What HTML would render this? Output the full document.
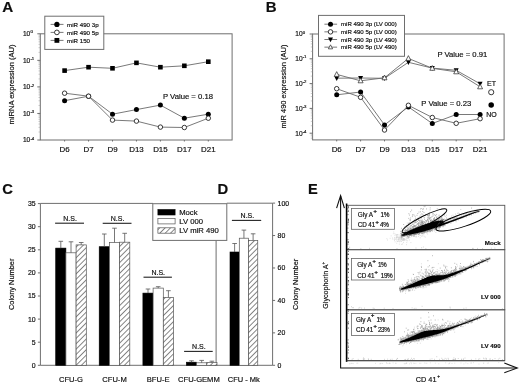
<!DOCTYPE html>
<html><head><meta charset="utf-8"><style>
html,body{margin:0;padding:0;background:#fff;}
svg{display:block;}
text{font-family:"Liberation Sans", sans-serif;fill:#111;stroke:#111;stroke-width:0.18px;}
</style></head><body>
<svg width="520" height="385" viewBox="0 0 520 385">
<defs><filter id="gb" x="0" y="0" width="100%" height="100%"><feGaussianBlur stdDeviation="0.3"/></filter></defs>
<rect width="520" height="385" fill="#fff"/>
<g filter="url(#gb)">
<rect width="520" height="385" fill="#fff"/>
<text x="2.20" y="11.60" font-size="15.2" text-anchor="start" font-weight="bold" >A</text>
<rect x="40.30" y="33.80" width="191.80" height="106.20" fill="none" stroke="#6e6e6e" stroke-width="1" />
<line x1="37.30" y1="33.80" x2="40.30" y2="33.80" stroke="#6e6e6e" stroke-width="1"/>
<text x="30.30" y="36.10" font-size="6.6" text-anchor="end" >10</text>
<text x="30.40" y="33.40" font-size="4.3" text-anchor="start" >0</text>
<line x1="37.30" y1="60.35" x2="40.30" y2="60.35" stroke="#6e6e6e" stroke-width="1"/>
<text x="30.30" y="62.65" font-size="6.6" text-anchor="end" >10</text>
<text x="30.40" y="59.95" font-size="4.3" text-anchor="start" >-1</text>
<line x1="37.30" y1="86.90" x2="40.30" y2="86.90" stroke="#6e6e6e" stroke-width="1"/>
<text x="30.30" y="89.20" font-size="6.6" text-anchor="end" >10</text>
<text x="30.40" y="86.50" font-size="4.3" text-anchor="start" >-2</text>
<line x1="37.30" y1="113.45" x2="40.30" y2="113.45" stroke="#6e6e6e" stroke-width="1"/>
<text x="30.30" y="115.75" font-size="6.6" text-anchor="end" >10</text>
<text x="30.40" y="113.05" font-size="4.3" text-anchor="start" >-3</text>
<line x1="37.30" y1="140.00" x2="40.30" y2="140.00" stroke="#6e6e6e" stroke-width="1"/>
<text x="30.30" y="142.30" font-size="6.6" text-anchor="end" >10</text>
<text x="30.40" y="139.60" font-size="4.3" text-anchor="start" >-4</text>
<line x1="38.50" y1="52.36" x2="40.30" y2="52.36" stroke="#999" stroke-width="0.5"/>
<line x1="38.50" y1="47.68" x2="40.30" y2="47.68" stroke="#999" stroke-width="0.5"/>
<line x1="38.50" y1="44.37" x2="40.30" y2="44.37" stroke="#999" stroke-width="0.5"/>
<line x1="38.50" y1="41.79" x2="40.30" y2="41.79" stroke="#999" stroke-width="0.5"/>
<line x1="38.50" y1="39.69" x2="40.30" y2="39.69" stroke="#999" stroke-width="0.5"/>
<line x1="38.50" y1="37.91" x2="40.30" y2="37.91" stroke="#999" stroke-width="0.5"/>
<line x1="38.50" y1="36.37" x2="40.30" y2="36.37" stroke="#999" stroke-width="0.5"/>
<line x1="38.50" y1="35.01" x2="40.30" y2="35.01" stroke="#999" stroke-width="0.5"/>
<line x1="38.50" y1="78.91" x2="40.30" y2="78.91" stroke="#999" stroke-width="0.5"/>
<line x1="38.50" y1="74.23" x2="40.30" y2="74.23" stroke="#999" stroke-width="0.5"/>
<line x1="38.50" y1="70.92" x2="40.30" y2="70.92" stroke="#999" stroke-width="0.5"/>
<line x1="38.50" y1="68.34" x2="40.30" y2="68.34" stroke="#999" stroke-width="0.5"/>
<line x1="38.50" y1="66.24" x2="40.30" y2="66.24" stroke="#999" stroke-width="0.5"/>
<line x1="38.50" y1="64.46" x2="40.30" y2="64.46" stroke="#999" stroke-width="0.5"/>
<line x1="38.50" y1="62.92" x2="40.30" y2="62.92" stroke="#999" stroke-width="0.5"/>
<line x1="38.50" y1="61.56" x2="40.30" y2="61.56" stroke="#999" stroke-width="0.5"/>
<line x1="38.50" y1="105.46" x2="40.30" y2="105.46" stroke="#999" stroke-width="0.5"/>
<line x1="38.50" y1="100.78" x2="40.30" y2="100.78" stroke="#999" stroke-width="0.5"/>
<line x1="38.50" y1="97.47" x2="40.30" y2="97.47" stroke="#999" stroke-width="0.5"/>
<line x1="38.50" y1="94.89" x2="40.30" y2="94.89" stroke="#999" stroke-width="0.5"/>
<line x1="38.50" y1="92.79" x2="40.30" y2="92.79" stroke="#999" stroke-width="0.5"/>
<line x1="38.50" y1="91.01" x2="40.30" y2="91.01" stroke="#999" stroke-width="0.5"/>
<line x1="38.50" y1="89.47" x2="40.30" y2="89.47" stroke="#999" stroke-width="0.5"/>
<line x1="38.50" y1="88.11" x2="40.30" y2="88.11" stroke="#999" stroke-width="0.5"/>
<line x1="38.50" y1="132.01" x2="40.30" y2="132.01" stroke="#999" stroke-width="0.5"/>
<line x1="38.50" y1="127.33" x2="40.30" y2="127.33" stroke="#999" stroke-width="0.5"/>
<line x1="38.50" y1="124.02" x2="40.30" y2="124.02" stroke="#999" stroke-width="0.5"/>
<line x1="38.50" y1="121.44" x2="40.30" y2="121.44" stroke="#999" stroke-width="0.5"/>
<line x1="38.50" y1="119.34" x2="40.30" y2="119.34" stroke="#999" stroke-width="0.5"/>
<line x1="38.50" y1="117.56" x2="40.30" y2="117.56" stroke="#999" stroke-width="0.5"/>
<line x1="38.50" y1="116.02" x2="40.30" y2="116.02" stroke="#999" stroke-width="0.5"/>
<line x1="38.50" y1="114.66" x2="40.30" y2="114.66" stroke="#999" stroke-width="0.5"/>
<line x1="64.60" y1="140.00" x2="64.60" y2="141.50" stroke="#6e6e6e" stroke-width="1"/>
<text x="64.60" y="151.90" font-size="7.9" text-anchor="middle" >D6</text>
<line x1="88.55" y1="140.00" x2="88.55" y2="141.50" stroke="#6e6e6e" stroke-width="1"/>
<text x="88.55" y="151.90" font-size="7.9" text-anchor="middle" >D7</text>
<line x1="112.50" y1="140.00" x2="112.50" y2="141.50" stroke="#6e6e6e" stroke-width="1"/>
<text x="112.50" y="151.90" font-size="7.9" text-anchor="middle" >D9</text>
<line x1="136.45" y1="140.00" x2="136.45" y2="141.50" stroke="#6e6e6e" stroke-width="1"/>
<text x="136.45" y="151.90" font-size="7.9" text-anchor="middle" >D13</text>
<line x1="160.40" y1="140.00" x2="160.40" y2="141.50" stroke="#6e6e6e" stroke-width="1"/>
<text x="160.40" y="151.90" font-size="7.9" text-anchor="middle" >D15</text>
<line x1="184.35" y1="140.00" x2="184.35" y2="141.50" stroke="#6e6e6e" stroke-width="1"/>
<text x="184.35" y="151.90" font-size="7.9" text-anchor="middle" >D17</text>
<line x1="208.30" y1="140.00" x2="208.30" y2="141.50" stroke="#6e6e6e" stroke-width="1"/>
<text x="208.30" y="151.90" font-size="7.9" text-anchor="middle" >D21</text>
<polyline points="64.60,70.60 88.55,67.20 112.50,68.30 136.45,62.85 160.40,67.20 184.35,65.80 208.30,61.70" fill="none" stroke="#6a6a6a" stroke-width="0.9"/>
<rect x="62.30" y="68.30" width="4.60" height="4.60" fill="#000"/>
<rect x="86.25" y="64.90" width="4.60" height="4.60" fill="#000"/>
<rect x="110.20" y="66.00" width="4.60" height="4.60" fill="#000"/>
<rect x="134.15" y="60.55" width="4.60" height="4.60" fill="#000"/>
<rect x="158.10" y="64.90" width="4.60" height="4.60" fill="#000"/>
<rect x="182.05" y="63.50" width="4.60" height="4.60" fill="#000"/>
<rect x="206.00" y="59.40" width="4.60" height="4.60" fill="#000"/>
<polyline points="64.60,100.70 88.55,96.20 112.50,114.20 136.45,109.60 160.40,105.10 184.35,118.20 208.30,114.20" fill="none" stroke="#6a6a6a" stroke-width="0.9"/>
<circle cx="64.60" cy="100.70" r="2.50" fill="#000"/>
<circle cx="88.55" cy="96.20" r="2.50" fill="#000"/>
<circle cx="112.50" cy="114.20" r="2.50" fill="#000"/>
<circle cx="136.45" cy="109.60" r="2.50" fill="#000"/>
<circle cx="160.40" cy="105.10" r="2.50" fill="#000"/>
<circle cx="184.35" cy="118.20" r="2.50" fill="#000"/>
<circle cx="208.30" cy="114.20" r="2.50" fill="#000"/>
<polyline points="64.60,93.20 88.55,96.20 112.50,120.10 136.45,121.10 160.40,127.10 184.35,127.50 208.30,118.20" fill="none" stroke="#6a6a6a" stroke-width="0.9"/>
<circle cx="64.60" cy="93.20" r="2.25" fill="#fff" stroke="#222" stroke-width="0.9"/>
<circle cx="88.55" cy="96.20" r="2.25" fill="#fff" stroke="#222" stroke-width="0.9"/>
<circle cx="112.50" cy="120.10" r="2.25" fill="#fff" stroke="#222" stroke-width="0.9"/>
<circle cx="136.45" cy="121.10" r="2.25" fill="#fff" stroke="#222" stroke-width="0.9"/>
<circle cx="160.40" cy="127.10" r="2.25" fill="#fff" stroke="#222" stroke-width="0.9"/>
<circle cx="184.35" cy="127.50" r="2.25" fill="#fff" stroke="#222" stroke-width="0.9"/>
<circle cx="208.30" cy="118.20" r="2.25" fill="#fff" stroke="#222" stroke-width="0.9"/>
<text x="163.00" y="98.80" font-size="7.7" text-anchor="start" >P Value = 0.18</text>
<text transform="translate(13.6,84.5) rotate(-90)" font-size="7.6" text-anchor="middle">miRNA expression (AU)</text>
<rect x="44.80" y="16.20" width="59.00" height="33.20" fill="#fff" stroke="#6e6e6e" stroke-width="1" />
<line x1="50.60" y1="24.40" x2="63.50" y2="24.40" stroke="#6a6a6a" stroke-width="0.9"/>
<circle cx="56.90" cy="24.40" r="2.62" fill="#000"/>
<text x="67.00" y="26.60" font-size="6.2" text-anchor="start" >miR 490 3p</text>
<line x1="50.60" y1="32.40" x2="63.50" y2="32.40" stroke="#6a6a6a" stroke-width="0.9"/>
<circle cx="56.90" cy="32.40" r="2.36" fill="#fff" stroke="#222" stroke-width="0.9"/>
<text x="67.00" y="34.60" font-size="6.2" text-anchor="start" >miR 490 5p</text>
<line x1="50.60" y1="40.40" x2="63.50" y2="40.40" stroke="#6a6a6a" stroke-width="0.9"/>
<rect x="54.48" y="37.98" width="4.83" height="4.83" fill="#000"/>
<text x="67.00" y="42.60" font-size="6.2" text-anchor="start" >miR 150</text>
<text x="265.80" y="11.70" font-size="15.0" text-anchor="start" font-weight="bold" >B</text>
<rect x="312.60" y="34.00" width="191.50" height="105.90" fill="none" stroke="#6e6e6e" stroke-width="1" />
<line x1="309.60" y1="34.00" x2="312.60" y2="34.00" stroke="#6e6e6e" stroke-width="1"/>
<text x="302.60" y="36.30" font-size="6.6" text-anchor="end" >10</text>
<text x="302.70" y="33.60" font-size="4.3" text-anchor="start" >0</text>
<line x1="309.60" y1="58.80" x2="312.60" y2="58.80" stroke="#6e6e6e" stroke-width="1"/>
<text x="302.60" y="61.10" font-size="6.6" text-anchor="end" >10</text>
<text x="302.70" y="58.40" font-size="4.3" text-anchor="start" >-1</text>
<line x1="309.60" y1="83.60" x2="312.60" y2="83.60" stroke="#6e6e6e" stroke-width="1"/>
<text x="302.60" y="85.90" font-size="6.6" text-anchor="end" >10</text>
<text x="302.70" y="83.20" font-size="4.3" text-anchor="start" >-2</text>
<line x1="309.60" y1="108.40" x2="312.60" y2="108.40" stroke="#6e6e6e" stroke-width="1"/>
<text x="302.60" y="110.70" font-size="6.6" text-anchor="end" >10</text>
<text x="302.70" y="108.00" font-size="4.3" text-anchor="start" >-3</text>
<line x1="309.60" y1="133.20" x2="312.60" y2="133.20" stroke="#6e6e6e" stroke-width="1"/>
<text x="302.60" y="135.50" font-size="6.6" text-anchor="end" >10</text>
<text x="302.70" y="132.80" font-size="4.3" text-anchor="start" >-4</text>
<line x1="310.80" y1="51.33" x2="312.60" y2="51.33" stroke="#999" stroke-width="0.5"/>
<line x1="310.80" y1="46.97" x2="312.60" y2="46.97" stroke="#999" stroke-width="0.5"/>
<line x1="310.80" y1="43.87" x2="312.60" y2="43.87" stroke="#999" stroke-width="0.5"/>
<line x1="310.80" y1="41.47" x2="312.60" y2="41.47" stroke="#999" stroke-width="0.5"/>
<line x1="310.80" y1="39.50" x2="312.60" y2="39.50" stroke="#999" stroke-width="0.5"/>
<line x1="310.80" y1="37.84" x2="312.60" y2="37.84" stroke="#999" stroke-width="0.5"/>
<line x1="310.80" y1="36.40" x2="312.60" y2="36.40" stroke="#999" stroke-width="0.5"/>
<line x1="310.80" y1="35.13" x2="312.60" y2="35.13" stroke="#999" stroke-width="0.5"/>
<line x1="310.80" y1="76.13" x2="312.60" y2="76.13" stroke="#999" stroke-width="0.5"/>
<line x1="310.80" y1="71.77" x2="312.60" y2="71.77" stroke="#999" stroke-width="0.5"/>
<line x1="310.80" y1="68.67" x2="312.60" y2="68.67" stroke="#999" stroke-width="0.5"/>
<line x1="310.80" y1="66.27" x2="312.60" y2="66.27" stroke="#999" stroke-width="0.5"/>
<line x1="310.80" y1="64.30" x2="312.60" y2="64.30" stroke="#999" stroke-width="0.5"/>
<line x1="310.80" y1="62.64" x2="312.60" y2="62.64" stroke="#999" stroke-width="0.5"/>
<line x1="310.80" y1="61.20" x2="312.60" y2="61.20" stroke="#999" stroke-width="0.5"/>
<line x1="310.80" y1="59.93" x2="312.60" y2="59.93" stroke="#999" stroke-width="0.5"/>
<line x1="310.80" y1="100.93" x2="312.60" y2="100.93" stroke="#999" stroke-width="0.5"/>
<line x1="310.80" y1="96.57" x2="312.60" y2="96.57" stroke="#999" stroke-width="0.5"/>
<line x1="310.80" y1="93.47" x2="312.60" y2="93.47" stroke="#999" stroke-width="0.5"/>
<line x1="310.80" y1="91.07" x2="312.60" y2="91.07" stroke="#999" stroke-width="0.5"/>
<line x1="310.80" y1="89.10" x2="312.60" y2="89.10" stroke="#999" stroke-width="0.5"/>
<line x1="310.80" y1="87.44" x2="312.60" y2="87.44" stroke="#999" stroke-width="0.5"/>
<line x1="310.80" y1="86.00" x2="312.60" y2="86.00" stroke="#999" stroke-width="0.5"/>
<line x1="310.80" y1="84.73" x2="312.60" y2="84.73" stroke="#999" stroke-width="0.5"/>
<line x1="310.80" y1="125.73" x2="312.60" y2="125.73" stroke="#999" stroke-width="0.5"/>
<line x1="310.80" y1="121.37" x2="312.60" y2="121.37" stroke="#999" stroke-width="0.5"/>
<line x1="310.80" y1="118.27" x2="312.60" y2="118.27" stroke="#999" stroke-width="0.5"/>
<line x1="310.80" y1="115.87" x2="312.60" y2="115.87" stroke="#999" stroke-width="0.5"/>
<line x1="310.80" y1="113.90" x2="312.60" y2="113.90" stroke="#999" stroke-width="0.5"/>
<line x1="310.80" y1="112.24" x2="312.60" y2="112.24" stroke="#999" stroke-width="0.5"/>
<line x1="310.80" y1="110.80" x2="312.60" y2="110.80" stroke="#999" stroke-width="0.5"/>
<line x1="310.80" y1="109.53" x2="312.60" y2="109.53" stroke="#999" stroke-width="0.5"/>
<line x1="310.80" y1="138.70" x2="312.60" y2="138.70" stroke="#999" stroke-width="0.5"/>
<line x1="310.80" y1="137.04" x2="312.60" y2="137.04" stroke="#999" stroke-width="0.5"/>
<line x1="310.80" y1="135.60" x2="312.60" y2="135.60" stroke="#999" stroke-width="0.5"/>
<line x1="310.80" y1="134.33" x2="312.60" y2="134.33" stroke="#999" stroke-width="0.5"/>
<line x1="336.70" y1="139.90" x2="336.70" y2="141.40" stroke="#6e6e6e" stroke-width="1"/>
<text x="336.70" y="151.60" font-size="7.9" text-anchor="middle" >D6</text>
<line x1="360.60" y1="139.90" x2="360.60" y2="141.40" stroke="#6e6e6e" stroke-width="1"/>
<text x="360.60" y="151.60" font-size="7.9" text-anchor="middle" >D7</text>
<line x1="384.50" y1="139.90" x2="384.50" y2="141.40" stroke="#6e6e6e" stroke-width="1"/>
<text x="384.50" y="151.60" font-size="7.9" text-anchor="middle" >D9</text>
<line x1="408.40" y1="139.90" x2="408.40" y2="141.40" stroke="#6e6e6e" stroke-width="1"/>
<text x="408.40" y="151.60" font-size="7.9" text-anchor="middle" >D13</text>
<line x1="432.30" y1="139.90" x2="432.30" y2="141.40" stroke="#6e6e6e" stroke-width="1"/>
<text x="432.30" y="151.60" font-size="7.9" text-anchor="middle" >D15</text>
<line x1="456.20" y1="139.90" x2="456.20" y2="141.40" stroke="#6e6e6e" stroke-width="1"/>
<text x="456.20" y="151.60" font-size="7.9" text-anchor="middle" >D17</text>
<line x1="480.10" y1="139.90" x2="480.10" y2="141.40" stroke="#6e6e6e" stroke-width="1"/>
<text x="480.10" y="151.60" font-size="7.9" text-anchor="middle" >D21</text>
<polyline points="336.70,78.20 360.60,78.00 384.50,78.30 408.40,62.30 432.30,68.10 456.20,70.30 480.10,83.80" fill="none" stroke="#6a6a6a" stroke-width="0.9"/>
<path d="M334.20,76.20L339.20,76.20L336.70,80.95Z" fill="#000"/>
<path d="M358.10,76.00L363.10,76.00L360.60,80.75Z" fill="#000"/>
<path d="M382.00,76.30L387.00,76.30L384.50,81.05Z" fill="#000"/>
<path d="M405.90,60.30L410.90,60.30L408.40,65.05Z" fill="#000"/>
<path d="M429.80,66.10L434.80,66.10L432.30,70.85Z" fill="#000"/>
<path d="M453.70,68.30L458.70,68.30L456.20,73.05Z" fill="#000"/>
<path d="M477.60,81.80L482.60,81.80L480.10,86.55Z" fill="#000"/>
<polyline points="336.70,74.40 360.60,80.80 384.50,77.80 408.40,58.40 432.30,68.30 456.20,71.80 480.10,86.80" fill="none" stroke="#6a6a6a" stroke-width="0.9"/>
<path d="M334.20,76.40L339.20,76.40L336.70,71.65Z" fill="#fff" stroke="#222" stroke-width="0.7"/>
<path d="M358.10,82.80L363.10,82.80L360.60,78.05Z" fill="#fff" stroke="#222" stroke-width="0.7"/>
<path d="M382.00,79.80L387.00,79.80L384.50,75.05Z" fill="#fff" stroke="#222" stroke-width="0.7"/>
<path d="M405.90,60.40L410.90,60.40L408.40,55.65Z" fill="#fff" stroke="#222" stroke-width="0.7"/>
<path d="M429.80,70.30L434.80,70.30L432.30,65.55Z" fill="#fff" stroke="#222" stroke-width="0.7"/>
<path d="M453.70,73.80L458.70,73.80L456.20,69.05Z" fill="#fff" stroke="#222" stroke-width="0.7"/>
<path d="M477.60,88.80L482.60,88.80L480.10,84.05Z" fill="#fff" stroke="#222" stroke-width="0.7"/>
<polyline points="336.70,94.80 360.60,92.00 384.50,124.90 408.40,106.90 432.30,123.50 456.20,114.50 480.10,114.50" fill="none" stroke="#6a6a6a" stroke-width="0.9"/>
<circle cx="336.70" cy="94.80" r="2.50" fill="#000"/>
<circle cx="360.60" cy="92.00" r="2.50" fill="#000"/>
<circle cx="384.50" cy="124.90" r="2.50" fill="#000"/>
<circle cx="408.40" cy="106.90" r="2.50" fill="#000"/>
<circle cx="432.30" cy="123.50" r="2.50" fill="#000"/>
<circle cx="456.20" cy="114.50" r="2.50" fill="#000"/>
<circle cx="480.10" cy="114.50" r="2.50" fill="#000"/>
<polyline points="336.70,88.70 360.60,97.30 384.50,130.00 408.40,105.30 432.30,117.50 456.20,123.30 480.10,118.70" fill="none" stroke="#6a6a6a" stroke-width="0.9"/>
<circle cx="336.70" cy="88.70" r="2.25" fill="#fff" stroke="#222" stroke-width="0.9"/>
<circle cx="360.60" cy="97.30" r="2.25" fill="#fff" stroke="#222" stroke-width="0.9"/>
<circle cx="384.50" cy="130.00" r="2.25" fill="#fff" stroke="#222" stroke-width="0.9"/>
<circle cx="408.40" cy="105.30" r="2.25" fill="#fff" stroke="#222" stroke-width="0.9"/>
<circle cx="432.30" cy="117.50" r="2.25" fill="#fff" stroke="#222" stroke-width="0.9"/>
<circle cx="456.20" cy="123.30" r="2.25" fill="#fff" stroke="#222" stroke-width="0.9"/>
<circle cx="480.10" cy="118.70" r="2.25" fill="#fff" stroke="#222" stroke-width="0.9"/>
<text x="437.40" y="57.00" font-size="7.7" text-anchor="start" >P Value = 0.91</text>
<text x="421.30" y="106.20" font-size="7.7" text-anchor="start" >P Value = 0.23</text>
<text x="487.00" y="85.80" font-size="7.0" text-anchor="start" >ET</text>
<text x="486.30" y="117.30" font-size="7.0" text-anchor="start" >NO</text>
<circle cx="491.20" cy="92.20" r="2.59" fill="#fff" stroke="#222" stroke-width="0.9"/>
<circle cx="491.20" cy="105.10" r="2.75" fill="#000"/>
<text transform="translate(286.4,86.5) rotate(-90)" font-size="7.5" text-anchor="middle">miR 490 expression (AU)</text>
<rect x="318.50" y="15.40" width="86.00" height="40.90" fill="#fff" stroke="#6e6e6e" stroke-width="1" />
<line x1="324.40" y1="24.20" x2="337.10" y2="24.20" stroke="#6a6a6a" stroke-width="0.9"/>
<circle cx="330.50" cy="24.20" r="2.50" fill="#000"/>
<text x="341.00" y="26.40" font-size="6.1" text-anchor="start" >miR 490 3p (LV 000)</text>
<line x1="324.40" y1="31.85" x2="337.10" y2="31.85" stroke="#6a6a6a" stroke-width="0.9"/>
<circle cx="330.50" cy="31.85" r="2.25" fill="#fff" stroke="#222" stroke-width="0.9"/>
<text x="341.00" y="34.05" font-size="6.1" text-anchor="start" >miR 490 5p (LV 000)</text>
<line x1="324.40" y1="39.50" x2="337.10" y2="39.50" stroke="#6a6a6a" stroke-width="0.9"/>
<path d="M328.00,37.50L333.00,37.50L330.50,42.25Z" fill="#000"/>
<text x="341.00" y="41.70" font-size="6.1" text-anchor="start" >miR 490 3p (LV 490)</text>
<line x1="324.40" y1="47.15" x2="337.10" y2="47.15" stroke="#6a6a6a" stroke-width="0.9"/>
<path d="M328.38,48.85L332.62,48.85L330.50,44.81Z" fill="#fff" stroke="#222" stroke-width="0.7"/>
<text x="341.00" y="49.35" font-size="6.1" text-anchor="start" >miR 490 5p (LV 490)</text>
<text x="2.20" y="193.70" font-size="14.8" text-anchor="start" font-weight="bold" >C</text>
<line x1="40.40" y1="203.40" x2="40.40" y2="365.30" stroke="#6e6e6e" stroke-width="1"/>
<line x1="40.40" y1="365.30" x2="272.60" y2="365.30" stroke="#6e6e6e" stroke-width="1"/>
<line x1="40.40" y1="203.40" x2="153.00" y2="203.40" stroke="#6e6e6e" stroke-width="1"/>
<line x1="216.10" y1="240.40" x2="216.10" y2="365.30" stroke="#6e6e6e" stroke-width="1"/>
<line x1="37.90" y1="365.30" x2="40.40" y2="365.30" stroke="#6e6e6e" stroke-width="1"/>
<text x="35.70" y="367.70" font-size="6.9" text-anchor="end" >0</text>
<line x1="37.90" y1="342.20" x2="40.40" y2="342.20" stroke="#6e6e6e" stroke-width="1"/>
<text x="35.70" y="344.60" font-size="6.9" text-anchor="end" >5</text>
<line x1="37.90" y1="319.10" x2="40.40" y2="319.10" stroke="#6e6e6e" stroke-width="1"/>
<text x="35.70" y="321.50" font-size="6.9" text-anchor="end" >10</text>
<line x1="37.90" y1="296.00" x2="40.40" y2="296.00" stroke="#6e6e6e" stroke-width="1"/>
<text x="35.70" y="298.40" font-size="6.9" text-anchor="end" >15</text>
<line x1="37.90" y1="272.90" x2="40.40" y2="272.90" stroke="#6e6e6e" stroke-width="1"/>
<text x="35.70" y="275.30" font-size="6.9" text-anchor="end" >20</text>
<line x1="37.90" y1="249.80" x2="40.40" y2="249.80" stroke="#6e6e6e" stroke-width="1"/>
<text x="35.70" y="252.20" font-size="6.9" text-anchor="end" >25</text>
<line x1="37.90" y1="226.70" x2="40.40" y2="226.70" stroke="#6e6e6e" stroke-width="1"/>
<text x="35.70" y="229.10" font-size="6.9" text-anchor="end" >30</text>
<line x1="37.90" y1="203.60" x2="40.40" y2="203.60" stroke="#6e6e6e" stroke-width="1"/>
<text x="35.70" y="206.00" font-size="6.9" text-anchor="end" >35</text>
<text transform="translate(13.6,284.3) rotate(-90)" font-size="7.4" text-anchor="middle">Colony Number</text>
<defs><filter id="bl" x="-20%" y="-20%" width="140%" height="140%"><feGaussianBlur stdDeviation="0.6"/></filter><pattern id="hatch" patternUnits="userSpaceOnUse" width="3.8" height="3.8" patternTransform="rotate(45)"><rect width="3.8" height="3.8" fill="#fff"/><line x1="0" y1="0" x2="0" y2="3.8" stroke="#222" stroke-width="1.1"/></pattern></defs>
<rect x="55.70" y="248.10" width="10.20" height="117.20" fill="#000" stroke="#000" stroke-width="0.6" />
<line x1="60.80" y1="241.30" x2="60.80" y2="248.10" stroke="#555" stroke-width="0.8"/>
<line x1="58.50" y1="241.30" x2="63.10" y2="241.30" stroke="#555" stroke-width="0.8"/>
<rect x="65.90" y="252.80" width="10.20" height="112.50" fill="#fff" stroke="#555" stroke-width="0.7" />
<line x1="71.00" y1="241.80" x2="71.00" y2="252.80" stroke="#555" stroke-width="0.8"/>
<line x1="68.70" y1="241.80" x2="73.30" y2="241.80" stroke="#555" stroke-width="0.8"/>
<rect x="76.10" y="244.90" width="10.20" height="120.40" fill="url(#hatch)" stroke="#555" stroke-width="0.7" />
<line x1="81.20" y1="242.50" x2="81.20" y2="244.90" stroke="#555" stroke-width="0.8"/>
<line x1="78.90" y1="242.50" x2="83.50" y2="242.50" stroke="#555" stroke-width="0.8"/>
<text x="71.00" y="381.50" font-size="7.6" text-anchor="middle" >CFU-G</text>
<line x1="55.10" y1="223.20" x2="84.00" y2="223.20" stroke="#222" stroke-width="1.1"/>
<text x="70.05" y="220.80" font-size="7.0" text-anchor="middle" >N.S.</text>
<rect x="99.20" y="246.70" width="10.20" height="118.60" fill="#000" stroke="#000" stroke-width="0.6" />
<line x1="104.30" y1="234.00" x2="104.30" y2="246.70" stroke="#555" stroke-width="0.8"/>
<line x1="102.00" y1="234.00" x2="106.60" y2="234.00" stroke="#555" stroke-width="0.8"/>
<rect x="109.40" y="242.40" width="10.20" height="122.90" fill="#fff" stroke="#555" stroke-width="0.7" />
<line x1="114.50" y1="228.20" x2="114.50" y2="242.40" stroke="#555" stroke-width="0.8"/>
<line x1="112.20" y1="228.20" x2="116.80" y2="228.20" stroke="#555" stroke-width="0.8"/>
<rect x="119.60" y="242.20" width="10.20" height="123.10" fill="url(#hatch)" stroke="#555" stroke-width="0.7" />
<line x1="124.70" y1="233.30" x2="124.70" y2="242.20" stroke="#555" stroke-width="0.8"/>
<line x1="122.40" y1="233.30" x2="127.00" y2="233.30" stroke="#555" stroke-width="0.8"/>
<text x="114.50" y="381.50" font-size="7.6" text-anchor="middle" >CFU-M</text>
<line x1="102.70" y1="223.30" x2="131.50" y2="223.30" stroke="#222" stroke-width="1.1"/>
<text x="117.60" y="220.90" font-size="7.0" text-anchor="middle" >N.S.</text>
<rect x="142.90" y="293.10" width="10.20" height="72.20" fill="#000" stroke="#000" stroke-width="0.6" />
<line x1="148.00" y1="289.00" x2="148.00" y2="293.10" stroke="#555" stroke-width="0.8"/>
<line x1="145.70" y1="289.00" x2="150.30" y2="289.00" stroke="#555" stroke-width="0.8"/>
<rect x="153.10" y="288.10" width="10.20" height="77.20" fill="#fff" stroke="#555" stroke-width="0.7" />
<line x1="158.20" y1="286.70" x2="158.20" y2="288.10" stroke="#555" stroke-width="0.8"/>
<line x1="155.90" y1="286.70" x2="160.50" y2="286.70" stroke="#555" stroke-width="0.8"/>
<rect x="163.30" y="297.40" width="10.20" height="67.90" fill="url(#hatch)" stroke="#555" stroke-width="0.7" />
<line x1="168.40" y1="290.70" x2="168.40" y2="297.40" stroke="#555" stroke-width="0.8"/>
<line x1="166.10" y1="290.70" x2="170.70" y2="290.70" stroke="#555" stroke-width="0.8"/>
<text x="158.20" y="381.50" font-size="7.6" text-anchor="middle" >BFU-E</text>
<line x1="143.50" y1="277.20" x2="171.90" y2="277.20" stroke="#222" stroke-width="1.1"/>
<text x="158.20" y="274.80" font-size="7.0" text-anchor="middle" >N.S.</text>
<rect x="186.40" y="362.20" width="10.20" height="3.10" fill="#000" stroke="#000" stroke-width="0.6" />
<line x1="191.50" y1="360.80" x2="191.50" y2="362.20" stroke="#555" stroke-width="0.8"/>
<line x1="189.20" y1="360.80" x2="193.80" y2="360.80" stroke="#555" stroke-width="0.8"/>
<rect x="196.60" y="362.80" width="10.20" height="2.50" fill="#fff" stroke="#555" stroke-width="0.7" />
<line x1="201.70" y1="360.40" x2="201.70" y2="362.80" stroke="#555" stroke-width="0.8"/>
<line x1="199.40" y1="360.40" x2="204.00" y2="360.40" stroke="#555" stroke-width="0.8"/>
<rect x="206.80" y="362.60" width="10.20" height="2.70" fill="url(#hatch)" stroke="#555" stroke-width="0.7" />
<line x1="211.90" y1="361.20" x2="211.90" y2="362.60" stroke="#555" stroke-width="0.8"/>
<line x1="209.60" y1="361.20" x2="214.20" y2="361.20" stroke="#555" stroke-width="0.8"/>
<text x="198.90" y="381.50" font-size="7.6" text-anchor="middle" >CFU-GEMM</text>
<line x1="184.10" y1="351.40" x2="212.70" y2="351.40" stroke="#222" stroke-width="1.1"/>
<text x="198.90" y="349.00" font-size="7.0" text-anchor="middle" >N.S.</text>
<rect x="152.80" y="203.70" width="74.00" height="36.70" fill="#fff" stroke="#6e6e6e" stroke-width="1" />
<rect x="157.90" y="209.50" width="17.20" height="5.50" fill="#000" stroke="#000" stroke-width="0.6" />
<rect x="157.90" y="218.50" width="17.20" height="5.40" fill="#fff" stroke="#555" stroke-width="0.7" />
<rect x="157.90" y="227.80" width="17.20" height="5.40" fill="url(#hatch)" stroke="#555" stroke-width="0.7" />
<text x="179.20" y="215.00" font-size="7.7" text-anchor="start" >Mock</text>
<text x="179.20" y="223.90" font-size="7.7" text-anchor="start" >LV 000</text>
<text x="179.20" y="233.00" font-size="7.7" text-anchor="start" >LV miR 490</text>
<text x="217.40" y="193.60" font-size="14.8" text-anchor="start" font-weight="bold" >D</text>
<line x1="272.60" y1="203.20" x2="272.60" y2="365.30" stroke="#6e6e6e" stroke-width="1"/>
<line x1="226.80" y1="203.20" x2="272.60" y2="203.20" stroke="#6e6e6e" stroke-width="1"/>
<line x1="272.60" y1="365.30" x2="275.10" y2="365.30" stroke="#6e6e6e" stroke-width="1"/>
<text x="277.60" y="367.70" font-size="6.9" text-anchor="start" >0</text>
<line x1="272.60" y1="332.86" x2="275.10" y2="332.86" stroke="#6e6e6e" stroke-width="1"/>
<text x="277.60" y="335.26" font-size="6.9" text-anchor="start" >20</text>
<line x1="272.60" y1="300.42" x2="275.10" y2="300.42" stroke="#6e6e6e" stroke-width="1"/>
<text x="277.60" y="302.82" font-size="6.9" text-anchor="start" >40</text>
<line x1="272.60" y1="267.98" x2="275.10" y2="267.98" stroke="#6e6e6e" stroke-width="1"/>
<text x="277.60" y="270.38" font-size="6.9" text-anchor="start" >60</text>
<line x1="272.60" y1="235.54" x2="275.10" y2="235.54" stroke="#6e6e6e" stroke-width="1"/>
<text x="277.60" y="237.94" font-size="6.9" text-anchor="start" >80</text>
<line x1="272.60" y1="203.10" x2="275.10" y2="203.10" stroke="#6e6e6e" stroke-width="1"/>
<text x="277.60" y="205.50" font-size="6.9" text-anchor="start" >100</text>
<text transform="translate(298.2,284.4) rotate(-90)" font-size="7.4" text-anchor="middle">Colony Number</text>
<rect x="230.00" y="252.00" width="9.25" height="113.30" fill="#000" stroke="#000" stroke-width="0.6" />
<line x1="234.62" y1="243.50" x2="234.62" y2="252.00" stroke="#555" stroke-width="0.8"/>
<line x1="232.32" y1="243.50" x2="236.93" y2="243.50" stroke="#555" stroke-width="0.8"/>
<rect x="239.30" y="238.20" width="9.25" height="127.10" fill="#fff" stroke="#555" stroke-width="0.7" />
<line x1="243.93" y1="230.10" x2="243.93" y2="238.20" stroke="#555" stroke-width="0.8"/>
<line x1="241.62" y1="230.10" x2="246.23" y2="230.10" stroke="#555" stroke-width="0.8"/>
<rect x="248.50" y="240.50" width="9.25" height="124.80" fill="url(#hatch)" stroke="#555" stroke-width="0.7" />
<line x1="253.12" y1="233.80" x2="253.12" y2="240.50" stroke="#555" stroke-width="0.8"/>
<line x1="250.82" y1="233.80" x2="255.43" y2="233.80" stroke="#555" stroke-width="0.8"/>
<line x1="231.90" y1="220.40" x2="261.20" y2="220.40" stroke="#222" stroke-width="1.1"/>
<text x="247.40" y="218.00" font-size="7.0" text-anchor="middle" >N.S.</text>
<text x="243.80" y="381.50" font-size="7.5" text-anchor="middle" >CFU - Mk</text>
<text x="308.00" y="193.80" font-size="14.6" text-anchor="start" font-weight="bold" >E</text>
<path d="M340.6,196 L340.6,368 L516.5,368" fill="none" stroke="#111" stroke-width="1.1"/>
<path d="M336.6,208.2 L340.6,195.6 L344.4,208.2" fill="none" stroke="#111" stroke-width="1.1"/>
<path d="M504.3,363 L517.3,368 L504.3,372.7" fill="none" stroke="#111" stroke-width="1.1"/>
<rect x="346.60" y="205.30" width="158.20" height="44.40" fill="none" stroke="#555" stroke-width="0.9" />
<rect x="346.60" y="249.70" width="158.20" height="60.10" fill="none" stroke="#555" stroke-width="0.9" />
<rect x="346.60" y="309.80" width="158.20" height="50.90" fill="none" stroke="#555" stroke-width="0.9" />
<line x1="346.60" y1="203.50" x2="346.60" y2="361.80" stroke="#000" stroke-width="1.6"/>
<line x1="346.60" y1="360.70" x2="504.80" y2="360.70" stroke="#444" stroke-width="1.0"/>
<path d="M481.1 260.3h0M417.8 272.5h0M427.6 281.8h0M400.2 290.6h0M473.9 267.9h0M428.5 284.2h0M425.1 280.6h0M422.1 277.9h0M441.4 279.0h0M448.8 281.6h0M455.6 268.7h0M418.0 277.1h0M413.9 283.0h0M449.1 279.8h0M444.3 281.5h0M457.8 272.0h0M448.2 277.9h0M446.6 278.6h0M422.6 282.7h0M417.8 285.6h0M418.4 284.9h0M431.8 272.2h0M399.5 288.2h0M414.2 286.7h0M424.7 283.2h0M458.3 270.6h0M448.0 279.1h0M433.6 281.2h0M455.6 274.3h0M405.7 291.3h0M434.8 276.1h0M429.4 279.9h0M413.8 286.5h0M436.0 283.4h0M455.4 272.2h0M462.2 270.4h0M414.7 290.3h0M441.0 279.2h0M421.9 283.2h0M437.5 280.5h0M419.5 283.4h0M461.9 271.0h0M427.4 281.0h0M412.0 286.8h0M452.7 274.8h0M411.4 278.2h0M417.8 285.6h0M416.4 284.8h0M434.2 278.0h0M437.3 276.7h0M422.7 286.5h0M443.1 276.9h0M428.9 278.0h0M468.7 267.3h0M435.0 282.2h0M410.7 284.9h0M439.3 277.4h0M448.6 276.6h0M479.3 261.9h0M432.2 282.5h0M432.3 278.3h0M412.6 281.0h0M399.9 289.1h0M412.2 285.7h0M439.7 282.0h0M473.5 262.9h0M472.1 264.9h0M466.6 268.5h0M420.4 282.3h0M418.2 284.8h0M432.1 275.4h0M417.0 288.0h0M431.8 280.3h0M452.8 274.2h0M431.4 281.0h0M425.0 283.0h0M439.0 270.8h0M447.8 275.2h0M481.5 261.3h0M453.5 274.0h0M437.9 273.1h0M438.4 280.4h0M437.2 269.6h0M447.9 276.0h0M424.1 287.7h0M431.1 282.6h0M436.8 279.4h0M418.5 284.5h0M404.4 289.2h0M419.2 283.1h0M410.0 286.5h0M444.3 277.1h0M428.2 281.4h0M443.7 279.5h0M457.6 271.7h0M417.1 286.3h0M405.2 287.7h0M437.8 278.3h0M409.9 286.0h0M404.2 290.1h0M402.3 289.0h0M422.0 278.3h0M422.2 280.6h0M416.6 283.1h0M450.9 271.3h0M454.5 273.9h0M414.8 284.3h0M462.2 270.2h0M429.2 284.1h0M449.7 275.5h0M417.3 284.1h0M403.2 288.4h0M477.7 262.9h0M403.8 286.4h0M430.6 278.3h0M429.3 281.3h0M409.0 281.8h0M428.2 278.6h0M478.4 262.3h0M411.7 286.9h0M417.1 281.0h0M452.5 273.2h0M408.5 287.3h0M460.8 271.1h0M430.3 281.8h0M466.7 269.6h0M415.0 287.1h0M401.8 288.2h0M457.6 266.1h0M419.7 284.6h0M434.0 276.3h0M422.1 278.6h0M442.5 278.9h0M408.5 285.1h0M435.2 280.1h0M412.1 286.5h0M434.8 280.1h0M434.4 280.3h0M419.7 284.1h0M420.9 276.0h0M429.2 276.2h0M438.3 263.7h0M469.0 267.6h0M452.7 272.4h0M427.6 281.8h0M406.1 284.8h0M469.9 267.0h0M411.6 285.2h0M411.7 284.9h0M411.5 284.9h0M425.1 284.0h0M427.5 278.9h0M416.5 282.8h0M434.3 278.8h0M465.3 269.2h0M409.3 290.5h0M475.2 264.1h0M433.8 278.7h0M405.6 288.4h0M447.2 274.6h0M469.1 266.6h0M417.6 285.7h0M424.0 281.1h0M412.1 290.1h0M416.5 283.9h0M485.5 260.0h0M436.9 280.7h0M429.6 275.0h0M411.3 283.4h0M416.8 285.1h0M428.8 285.1h0M484.6 260.6h0M425.6 282.6h0M436.4 276.2h0M400.0 290.5h0M472.4 266.9h0M421.3 278.5h0M473.8 267.0h0M419.8 285.8h0M424.2 281.1h0M424.7 282.8h0M411.1 283.7h0M410.0 284.3h0M447.1 266.7h0M426.2 286.8h0M470.1 267.2h0M456.0 272.9h0M427.3 275.5h0M442.3 278.8h0M426.8 281.6h0M434.9 280.0h0M466.5 268.6h0M435.5 278.8h0M418.8 284.9h0M425.5 282.1h0M443.8 278.7h0M478.4 263.1h0M441.7 278.7h0M426.1 280.7h0M427.6 279.7h0M406.7 287.8h0M420.3 284.9h0M426.0 287.2h0M416.2 287.4h0M406.0 290.6h0M443.5 278.9h0M419.3 282.9h0M425.1 282.7h0M448.7 280.9h0M442.5 272.5h0M405.4 286.5h0M400.0 289.3h0M449.6 279.3h0M434.1 280.3h0M469.7 267.3h0M423.6 279.6h0M443.8 278.6h0M442.0 278.1h0M429.5 281.4h0M402.7 285.6h0M436.2 279.3h0M413.9 285.9h0M454.0 275.4h0M428.7 276.6h0M450.5 274.5h0M418.7 287.3h0M453.9 274.3h0M445.2 276.7h0M414.5 283.2h0M412.3 286.9h0M451.3 277.5h0M467.1 267.8h0M436.2 275.8h0M425.1 284.0h0M433.8 278.2h0M450.2 275.8h0M451.4 274.3h0M409.7 287.5h0M409.1 287.5h0M422.5 281.8h0M413.1 274.1h0M430.5 280.5h0M418.3 287.7h0M406.0 287.6h0M415.7 285.9h0M449.0 277.4h0M467.6 266.3h0M413.2 288.0h0M433.1 282.3h0M468.5 267.0h0M410.6 287.3h0M426.8 274.1h0M471.6 266.5h0M414.4 284.1h0M442.3 278.4h0M414.6 283.8h0M412.9 287.6h0M424.4 275.1h0M405.5 293.3h0M419.6 283.5h0M411.5 285.4h0M432.7 279.7h0M454.0 273.5h0M421.3 263.8h0M431.2 283.9h0M423.6 283.5h0M437.7 280.3h0M435.8 272.9h0M426.3 272.1h0M423.4 283.7h0M412.4 285.1h0M440.1 276.9h0M412.3 281.9h0M443.9 277.0h0M463.8 269.6h0M411.7 286.9h0M482.0 260.2h0M408.1 282.3h0M409.1 291.5h0M430.2 279.5h0M405.0 284.4h0M442.8 279.1h0M452.1 274.8h0M461.0 267.3h0M414.3 286.0h0M437.1 275.9h0M490.3 258.1h0M424.7 283.7h0M435.2 282.8h0M436.2 274.5h0M433.7 276.9h0M443.6 277.2h0M440.9 276.1h0M440.2 278.9h0M412.4 285.2h0M405.2 288.2h0M419.5 277.4h0M421.5 284.1h0M425.6 282.6h0M427.4 279.5h0" stroke="#888" stroke-width="0.80" stroke-linecap="round" opacity="0.45"/>
<path d="M452.5 272.8h0M449.7 277.4h0M429.0 275.3h0M446.5 278.2h0M419.9 284.6h0M408.4 289.9h0M416.3 285.2h0M408.7 285.2h0M443.3 278.3h0M433.9 277.8h0M413.6 286.0h0M431.8 280.2h0M423.8 283.1h0M429.7 283.0h0M452.3 272.4h0M424.3 284.8h0M468.5 266.3h0M434.4 279.2h0M444.6 278.2h0M465.6 268.2h0M467.6 268.3h0M432.0 283.7h0M434.5 275.9h0M481.6 261.7h0M476.0 264.5h0M411.3 286.9h0M473.2 265.6h0M412.5 284.5h0M422.6 285.0h0M451.4 270.5h0M469.6 266.6h0M413.5 286.0h0M432.4 282.7h0M433.3 279.6h0M408.9 288.9h0M407.3 285.5h0M470.7 266.3h0M434.0 281.3h0M427.4 282.3h0M483.8 261.0h0M414.1 286.1h0M446.8 269.3h0M447.8 278.9h0M431.6 272.4h0M482.4 262.1h0M414.6 285.9h0M470.4 266.2h0M425.7 284.1h0M416.9 285.7h0M418.2 285.4h0M425.9 283.2h0M421.1 278.8h0M408.1 284.4h0M430.3 282.7h0M445.1 278.4h0M427.8 284.9h0M482.6 261.3h0M414.9 283.2h0M469.5 266.0h0M441.7 278.1h0M415.2 284.0h0M444.2 275.9h0M436.2 279.7h0M447.6 277.2h0M420.3 282.4h0M450.0 274.9h0M463.4 268.5h0M445.4 279.4h0M432.6 280.6h0M420.0 272.1h0M427.6 283.2h0M404.1 288.2h0M422.2 278.3h0M400.4 290.4h0M437.8 280.5h0M455.6 275.2h0M461.5 271.0h0M464.0 267.1h0M453.4 275.7h0M424.0 277.3h0M482.0 262.7h0M425.9 279.7h0M409.8 288.7h0M417.5 285.7h0M435.6 280.6h0M429.2 273.5h0M462.4 268.5h0M402.0 290.4h0M468.5 268.3h0M471.7 268.7h0M455.5 270.9h0M424.0 282.4h0M447.0 270.6h0M408.7 290.8h0M430.3 276.3h0M473.6 264.9h0M408.3 286.5h0M445.8 277.5h0M409.5 290.2h0M421.8 284.9h0M431.0 281.0h0M435.8 282.3h0M427.7 283.4h0M405.6 289.3h0M425.4 276.4h0M439.9 281.1h0M404.0 289.6h0M420.6 284.7h0M420.2 283.7h0M447.0 279.0h0M428.8 275.0h0M421.2 281.8h0M460.9 273.8h0M464.9 269.8h0M423.9 281.9h0M406.9 287.9h0M443.2 277.2h0M415.4 285.1h0M400.8 286.4h0M437.6 276.6h0M445.6 267.3h0M484.5 260.6h0M449.4 276.4h0M427.9 282.9h0M413.9 286.8h0M466.3 270.3h0M429.8 273.4h0M481.8 261.8h0M403.2 286.9h0M425.0 284.3h0M433.9 272.6h0M422.6 281.1h0M413.5 274.5h0M416.6 285.4h0M469.7 267.4h0M420.5 284.4h0M424.1 284.6h0M440.6 275.0h0M412.0 285.1h0M425.1 284.1h0M489.3 258.5h0M433.7 276.5h0M427.6 283.8h0M411.8 286.9h0M425.6 275.5h0M462.9 270.4h0M417.8 284.9h0M432.8 280.7h0M441.3 279.1h0M427.0 281.0h0M436.8 282.3h0M443.6 279.6h0M443.3 279.4h0M424.5 277.8h0M401.3 289.4h0M413.5 284.1h0M422.2 285.4h0M443.4 276.5h0M418.8 286.2h0M455.3 274.7h0M486.8 258.6h0M481.9 261.5h0M438.5 281.0h0M424.2 283.2h0M435.8 278.3h0M426.2 281.7h0M422.2 284.2h0M433.5 279.0h0M432.6 270.8h0M441.1 276.7h0M420.7 285.7h0M425.2 285.2h0M425.1 285.4h0M423.1 279.7h0M408.6 285.6h0M415.8 284.9h0M441.5 279.6h0M411.3 280.8h0M436.4 274.1h0M410.6 285.6h0M476.2 264.4h0M450.0 273.4h0M462.3 270.3h0M414.4 285.2h0M419.4 282.1h0M461.4 270.7h0M436.1 274.4h0M434.6 278.2h0M448.8 275.9h0M415.8 285.4h0M413.9 282.7h0M424.9 283.4h0M430.7 278.9h0M444.7 270.0h0M418.0 285.7h0M456.6 274.6h0M436.6 278.9h0M461.4 271.3h0M422.9 282.6h0M405.4 287.7h0M455.1 271.3h0M438.8 278.9h0M432.2 277.8h0M445.3 277.4h0M420.5 284.5h0M438.9 276.4h0M447.1 277.0h0M402.1 287.6h0M437.1 282.2h0M426.0 281.6h0M461.2 271.3h0M422.8 279.9h0M435.1 281.4h0M477.1 263.9h0M415.3 280.1h0M455.1 274.2h0M422.6 284.6h0M440.9 277.5h0M465.0 267.8h0M465.6 270.2h0M473.6 265.5h0M439.5 279.7h0M410.1 287.0h0M465.2 269.0h0M483.2 261.1h0M481.3 262.0h0M422.8 285.1h0M462.8 267.5h0M445.9 266.3h0M424.3 284.5h0M417.7 284.1h0M477.1 266.3h0M418.6 281.1h0M423.0 284.9h0M441.9 278.8h0M420.6 282.3h0M457.1 272.0h0M424.4 283.3h0M417.4 280.8h0M437.6 274.2h0M456.6 271.6h0M428.6 280.1h0M416.0 285.0h0M416.5 286.2h0M456.8 274.3h0M427.2 285.4h0M447.2 276.0h0M442.1 276.3h0M470.3 265.5h0M409.5 287.3h0M425.0 282.7h0M460.2 270.5h0M434.1 276.8h0M439.0 278.3h0M437.8 281.5h0M416.8 281.8h0M403.8 287.3h0M429.4 279.2h0M443.2 281.1h0M405.9 288.8h0M436.3 282.5h0M417.0 285.5h0M405.0 287.5h0M438.3 280.2h0M444.4 270.6h0M419.6 281.9h0M437.2 281.4h0M423.0 284.4h0M419.0 274.0h0M442.5 275.1h0M404.1 287.8h0M413.3 283.8h0M455.4 272.2h0M471.6 266.4h0M401.3 289.1h0M422.9 284.5h0M430.0 278.9h0M419.9 282.1h0M418.7 279.3h0M429.7 281.5h0M440.4 277.4h0M440.0 273.4h0M443.6 276.4h0M425.2 285.7h0M487.5 259.1h0M402.1 289.2h0M444.6 279.0h0M429.2 275.2h0M482.5 260.3h0M428.5 273.9h0M407.4 286.6h0M403.0 288.6h0M480.5 262.5h0M426.1 270.1h0M437.3 278.5h0M425.0 285.1h0M401.0 289.1h0M412.1 285.9h0M423.9 285.6h0M417.6 285.8h0M448.6 276.2h0M428.9 269.8h0M453.7 273.3h0M411.3 287.2h0M448.1 276.6h0M405.4 284.6h0M410.8 286.0h0M427.5 280.9h0M428.9 283.3h0M409.9 286.5h0M459.9 270.1h0M460.8 270.6h0M450.9 274.7h0M419.7 285.6h0M417.9 286.3h0M448.2 273.9h0M423.2 279.9h0M439.1 275.8h0M461.2 272.1h0M441.9 280.7h0M424.4 279.5h0M460.5 271.4h0M463.7 270.1h0M460.4 269.3h0M450.3 273.9h0M464.8 268.4h0M477.0 264.0h0M407.7 285.9h0M454.3 269.6h0M434.6 280.9h0M442.9 275.5h0M437.9 278.6h0M439.3 279.8h0M429.9 275.7h0M425.2 281.4h0M418.6 280.4h0M440.2 279.7h0M428.4 283.4h0M417.2 281.1h0M421.8 280.2h0M452.4 274.4h0M418.9 272.7h0M418.7 282.9h0M460.1 271.0h0M458.2 272.8h0M428.2 276.7h0M430.8 281.1h0M440.2 268.1h0M448.5 272.7h0M459.1 272.1h0M451.4 273.6h0M462.6 270.3h0M445.7 277.8h0M414.8 277.7h0M429.0 278.5h0M436.9 280.7h0M476.8 263.6h0M469.2 267.1h0M461.3 271.1h0M427.1 283.7h0M479.5 264.7h0M405.8 287.8h0M421.4 285.7h0M455.8 272.0h0M408.4 285.3h0M402.2 291.8h0M455.6 268.5h0M438.2 280.4h0M441.4 280.2h0M406.8 286.1h0M448.0 277.3h0M437.3 281.6h0M438.1 281.0h0M424.1 280.2h0M421.8 283.3h0M409.5 288.5h0M451.4 275.6h0M441.6 279.1h0M459.1 272.4h0M431.3 280.7h0M434.3 275.5h0M434.7 272.7h0M441.8 279.9h0M408.3 286.7h0M420.7 284.2h0M424.2 283.8h0M413.3 286.1h0M448.1 276.7h0M441.6 280.9h0M434.3 277.2h0M453.6 274.0h0M486.2 259.7h0M409.3 286.9h0M427.0 281.5h0M456.9 275.3h0M418.3 283.2h0M437.8 282.1h0M406.1 288.2h0M428.7 278.7h0M434.8 278.7h0M419.9 284.1h0M416.8 278.9h0M423.5 286.2h0M451.3 274.0h0M425.5 284.0h0M428.7 283.0h0M431.5 278.4h0M417.6 284.3h0M479.2 264.0h0M464.1 270.0h0M419.0 280.6h0M426.8 281.3h0M441.7 276.1h0M449.7 273.4h0M440.1 279.7h0M433.5 276.0h0M433.9 281.2h0M436.3 277.9h0M404.6 289.6h0M440.8 278.9h0M418.6 284.7h0M482.0 261.0h0M455.0 275.2h0M453.8 274.2h0M455.5 273.6h0M432.1 276.4h0M422.3 285.2h0M432.6 275.2h0M414.4 283.6h0M437.9 278.2h0M475.6 265.0h0M447.8 275.5h0M427.4 282.3h0M437.5 280.5h0M449.7 275.9h0M403.6 288.7h0M463.0 272.2h0M408.3 284.8h0M448.2 273.5h0M463.2 270.4h0M443.9 276.5h0M418.8 286.3h0M434.6 280.4h0M432.6 276.7h0M445.9 276.6h0M403.9 288.7h0M400.4 290.4h0M444.4 278.0h0M411.0 287.2h0M448.0 273.8h0M407.8 287.0h0M429.5 281.2h0M419.4 283.4h0M483.7 261.7h0M403.2 288.7h0M423.4 283.4h0M429.7 279.3h0M453.8 273.8h0M452.9 275.1h0M442.7 271.3h0M427.3 277.6h0M400.2 288.5h0M458.4 273.4h0M418.1 282.9h0M474.5 265.2h0M484.3 260.7h0M421.9 284.4h0M433.9 267.4h0M455.4 274.6h0M405.9 286.8h0M422.5 285.0h0M435.7 278.9h0M433.9 276.6h0M458.8 272.2h0M466.1 267.7h0M428.0 281.6h0M410.8 286.6h0M434.9 275.7h0M447.9 277.1h0M440.4 276.0h0M444.4 280.5h0M438.3 275.5h0M465.0 270.8h0M425.8 284.1h0M439.3 275.5h0M407.6 286.6h0M441.2 277.5h0M444.8 275.0h0M409.5 285.7h0M437.5 282.3h0M430.8 279.1h0M476.2 263.7h0M403.6 289.7h0M435.1 278.1h0M477.3 263.8h0M440.4 280.7h0M400.3 288.6h0M424.9 281.9h0M454.4 272.6h0M426.1 282.2h0M436.9 279.0h0M421.1 284.6h0M450.2 273.2h0M432.0 281.7h0M422.6 280.6h0M429.3 282.5h0M409.5 286.5h0M414.1 281.9h0M481.8 260.4h0M438.8 277.2h0M432.8 281.6h0M421.5 283.8h0M420.5 284.6h0M455.7 266.5h0M400.9 287.1h0M416.2 282.2h0M404.4 287.6h0M434.5 276.8h0M440.0 277.9h0M448.0 270.7h0M427.3 277.9h0M454.8 273.9h0M421.6 267.5h0M433.3 280.1h0M432.8 283.0h0M425.3 280.8h0M483.4 260.9h0M402.7 288.4h0M420.3 282.7h0M447.3 277.2h0M451.4 271.7h0M466.9 268.2h0M403.8 288.7h0M403.0 289.2h0M437.8 279.8h0M401.1 289.6h0M459.7 273.0h0M407.4 287.0h0M433.2 277.4h0M455.4 271.3h0M432.6 255.7h0M422.3 283.3h0M423.2 281.3h0M418.5 284.2h0M435.9 280.4h0M430.2 280.1h0M434.3 282.2h0M419.1 285.3h0M480.9 262.1h0M421.3 266.4h0M430.7 282.0h0M480.4 262.2h0M428.5 277.0h0M473.5 261.4h0M419.9 280.8h0M420.2 285.7h0M475.8 265.0h0M420.9 285.4h0M418.9 284.9h0M421.8 281.3h0M412.5 286.5h0M439.5 280.5h0M445.4 274.2h0M456.5 269.2h0M417.7 285.6h0M424.4 281.0h0M416.8 284.3h0M433.3 276.1h0M473.6 267.7h0M435.5 282.1h0M437.0 278.5h0M426.9 278.2h0M444.1 274.6h0M459.9 271.3h0M424.2 280.8h0M421.3 280.1h0M420.7 283.0h0M475.2 264.8h0M469.9 266.5h0M415.6 287.4h0M460.3 271.2h0M479.8 261.5h0M415.1 286.1h0M403.1 287.1h0M452.6 275.3h0M439.2 280.1h0M466.1 268.3h0M419.3 284.3h0M433.9 283.0h0M421.7 283.4h0M441.0 272.8h0M399.5 289.1h0M414.6 285.4h0M416.3 284.7h0M426.5 280.1h0M442.9 273.0h0M406.5 289.5h0M439.9 280.4h0M439.6 274.3h0M430.1 281.4h0M416.4 285.9h0M443.7 276.8h0M422.3 278.8h0M415.6 282.3h0M434.4 276.3h0M453.1 273.0h0M442.7 276.2h0M475.8 264.2h0M482.3 260.8h0M402.4 288.3h0M425.3 271.8h0M439.3 279.5h0M443.6 278.5h0M432.4 282.6h0M426.6 282.9h0M416.9 279.9h0M436.2 276.5h0M400.5 292.0h0M471.1 267.7h0M466.9 267.3h0M436.2 281.0h0M422.0 280.4h0M474.8 264.2h0M454.5 273.8h0M429.0 284.9h0M412.7 289.9h0M438.8 280.9h0M428.1 275.6h0M441.6 278.5h0M438.6 275.9h0M408.6 287.1h0M436.3 279.3h0M415.7 280.9h0M480.8 262.7h0M420.0 284.2h0M437.8 274.9h0M408.3 286.3h0M415.6 287.2h0M432.8 278.5h0M430.9 281.5h0M466.1 267.0h0M412.1 286.1h0M430.1 282.9h0M414.4 279.3h0M417.4 278.6h0M410.2 287.0h0M432.6 280.7h0M487.6 258.7h0M486.0 258.4h0M417.2 285.5h0M421.5 284.3h0M467.6 267.2h0M431.1 282.8h0M456.8 264.3h0M441.1 280.5h0M408.8 287.6h0M482.5 261.0h0M447.3 275.2h0M451.6 272.4h0M427.9 260.7h0M432.8 275.7h0M482.8 262.3h0M489.4 257.4h0M446.6 277.4h0M434.9 280.3h0M401.6 287.8h0M443.1 278.1h0M472.2 266.4h0M434.9 281.0h0M408.3 286.8h0M450.6 277.3h0M463.8 266.9h0M399.5 288.6h0M480.2 262.4h0M419.0 286.8h0M410.6 284.2h0M474.3 265.9h0M422.4 276.4h0M405.9 288.9h0M407.5 284.6h0M449.3 275.2h0M468.7 268.0h0M399.6 288.8h0M484.9 260.2h0M470.4 266.9h0M436.1 282.2h0M423.0 284.3h0M483.3 261.4h0M438.4 277.1h0M444.8 276.5h0M464.0 269.4h0M446.2 274.7h0M437.0 280.9h0M424.0 282.6h0M416.0 288.3h0M485.4 258.9h0M425.0 282.5h0M456.0 267.8h0M436.0 278.3h0M433.4 280.6h0M411.1 280.3h0M435.1 281.3h0M415.3 283.0h0M432.6 281.9h0M443.2 274.4h0M399.7 288.3h0M456.4 273.4h0M432.7 280.9h0M451.4 274.9h0M422.6 282.2h0M471.5 267.5h0M412.1 284.8h0M426.9 281.9h0M428.0 282.7h0M413.6 286.3h0M455.9 273.9h0M470.7 267.0h0M411.1 285.8h0M448.4 273.2h0M449.7 275.3h0M425.4 284.3h0M417.5 281.9h0M431.2 278.8h0M456.7 271.9h0M437.7 280.0h0M437.0 275.3h0M438.0 279.0h0M417.4 282.3h0M408.6 285.4h0M421.5 281.9h0M419.4 283.2h0M412.4 286.0h0M411.5 286.4h0M415.5 287.2h0M429.5 277.5h0M420.1 287.2h0M489.9 258.2h0M478.7 263.4h0M427.8 282.3h0M486.4 259.0h0M424.2 282.8h0M438.0 280.3h0M401.7 287.8h0M462.1 269.0h0M453.5 270.9h0M423.5 276.6h0M411.6 288.0h0M430.2 280.9h0M401.7 288.4h0M433.6 273.4h0M428.8 277.1h0M423.4 285.3h0M425.4 281.3h0M431.0 282.5h0M407.4 287.8h0M429.8 281.1h0M438.7 278.2h0M423.0 280.1h0M430.2 270.3h0M443.1 276.5h0M420.1 284.2h0M424.3 282.3h0M415.2 284.5h0M472.2 266.1h0M429.2 283.1h0M480.4 262.5h0M439.6 275.0h0M411.4 286.7h0M422.5 280.4h0M413.5 283.3h0M411.1 286.2h0M436.7 281.5h0M417.7 284.1h0M471.8 264.5h0M405.4 288.1h0M428.6 282.2h0M427.5 281.1h0M450.1 275.5h0M437.6 277.9h0M436.5 281.1h0M427.7 280.7h0M418.1 285.2h0M442.0 274.9h0M457.2 272.8h0M428.0 272.6h0M424.1 279.6h0M426.1 283.0h0M452.8 275.0h0M435.7 280.7h0M453.6 274.6h0M480.5 262.4h0M459.3 273.6h0M425.0 284.8h0M433.8 282.0h0M407.2 287.8h0M471.6 266.2h0M427.2 280.1h0M439.0 279.7h0M411.8 286.5h0M430.1 279.2h0M421.9 276.0h0M426.0 275.7h0M402.1 288.8h0M416.2 277.2h0M431.6 279.2h0M448.6 275.8h0M429.8 273.7h0M441.4 280.4h0M438.0 279.3h0M435.5 279.6h0M427.1 283.2h0M447.4 276.6h0M436.9 275.0h0M464.8 268.6h0M459.8 271.7h0M428.1 266.9h0M409.2 286.9h0M436.7 279.6h0M476.6 263.1h0M479.9 262.1h0M410.5 287.2h0M447.4 278.7h0M450.4 276.1h0M422.1 284.2h0M410.4 286.6h0M426.9 283.1h0M432.3 282.8h0M426.3 282.3h0M447.6 275.9h0M408.1 279.7h0M405.9 289.7h0M432.6 283.1h0M429.6 275.4h0M459.0 272.2h0M407.3 284.7h0M406.0 287.3h0M427.7 283.8h0M417.9 284.7h0M428.8 281.6h0M426.1 271.0h0M431.4 282.9h0M445.9 279.5h0M438.7 274.7h0M408.5 285.9h0M483.3 261.3h0M436.0 271.6h0M408.2 289.7h0M432.4 276.9h0M431.0 282.7h0M469.2 267.7h0M443.8 276.2h0M433.7 280.2h0M425.5 282.7h0M439.0 280.8h0M443.9 276.1h0M417.1 284.2h0M471.0 266.8h0M413.0 280.1h0M456.8 273.5h0M424.2 282.7h0M446.0 277.6h0M440.4 278.4h0M487.5 261.8h0M415.7 287.0h0M422.2 285.3h0M429.4 283.0h0M474.4 263.7h0M431.8 280.0h0M415.9 285.4h0M420.7 275.2h0M461.2 267.0h0M461.3 270.8h0M489.8 259.0h0M403.0 288.8h0M418.1 285.9h0M453.1 274.3h0M439.4 279.4h0M418.7 285.5h0M436.9 278.3h0M443.4 278.1h0M432.3 277.4h0M419.5 284.0h0M427.1 283.1h0M433.2 282.1h0M433.5 281.0h0M444.3 279.2h0M409.6 285.0h0M408.1 285.9h0M429.6 278.4h0M430.2 282.2h0M430.9 279.0h0M418.2 282.9h0M400.7 289.1h0M433.5 277.9h0M415.9 280.2h0M415.9 280.9h0M474.4 265.0h0M422.5 284.8h0M423.5 274.0h0M426.6 282.8h0M415.4 284.4h0M449.1 272.0h0M415.1 285.5h0M410.7 286.5h0M411.8 281.2h0M429.0 281.7h0M428.6 279.8h0M489.9 259.0h0M412.8 287.1h0M426.8 282.8h0M441.6 276.1h0M444.0 274.3h0M428.0 280.4h0M429.4 280.6h0M487.3 259.1h0M418.7 283.3h0M425.6 280.6h0M438.1 279.8h0M420.8 283.2h0M437.1 277.2h0M434.4 281.6h0M423.5 279.3h0M422.4 285.2h0M457.3 271.8h0M432.6 282.2h0M419.3 283.6h0M419.5 282.8h0M470.9 263.3h0M409.9 284.6h0M414.3 286.3h0M406.4 283.3h0M429.8 282.5h0M459.4 272.1h0M414.0 285.5h0M399.9 290.6h0M417.3 285.0h0M426.5 280.0h0M418.9 285.5h0M435.1 281.8h0M459.3 271.1h0M482.8 261.7h0M422.8 283.7h0M422.2 284.5h0M436.9 277.9h0M427.2 277.0h0M474.9 264.8h0M434.7 281.5h0M434.4 279.7h0M447.2 278.5h0M432.9 281.7h0M400.3 289.4h0M467.8 268.9h0M422.7 283.7h0M423.1 281.6h0M449.7 276.2h0M435.8 282.0h0M438.6 279.7h0M409.8 285.7h0M425.6 278.5h0M482.8 259.5h0M423.3 282.6h0M401.0 289.2h0M465.4 267.7h0M438.2 279.1h0M431.4 276.1h0M409.9 287.0h0M411.9 288.2h0M404.8 287.5h0M440.8 276.9h0M412.9 283.7h0M434.6 279.1h0M464.4 270.0h0M450.0 277.1h0M445.6 274.0h0M442.3 279.2h0M433.4 279.2h0M438.0 282.1h0M421.3 280.7h0M452.8 275.9h0M445.5 275.7h0M461.9 272.2h0M432.8 281.6h0M470.2 267.3h0M406.1 287.5h0M443.4 277.8h0M437.4 280.0h0M420.2 283.7h0M472.7 264.9h0M446.9 278.3h0M477.7 263.1h0M426.8 281.8h0M461.2 269.8h0M443.2 275.2h0M404.9 287.2h0M411.3 286.9h0M416.6 285.5h0M414.7 286.3h0M443.1 274.1h0M413.8 287.2h0M426.1 283.7h0M476.7 264.5h0M482.8 261.2h0M485.0 260.4h0M407.8 288.0h0M414.2 286.5h0M410.1 287.4h0M401.8 288.0h0M436.0 281.3h0M438.2 280.7h0M455.6 276.3h0M449.0 274.3h0M403.0 288.9h0M432.1 281.1h0M418.2 283.0h0M419.3 284.6h0M439.9 278.0h0M427.0 282.3h0M480.7 262.4h0M430.7 278.0h0M425.0 278.3h0M421.6 283.8h0M401.8 288.6h0M425.3 284.3h0M418.3 286.2h0M429.3 285.1h0M456.3 272.3h0M469.5 267.4h0M424.3 283.1h0M415.6 286.0h0M460.0 272.2h0M432.0 267.9h0M448.5 278.5h0M445.9 279.2h0M406.5 287.9h0M406.8 287.1h0M431.5 276.2h0M433.8 280.4h0M447.4 275.7h0M414.3 279.2h0M460.4 263.5h0M423.5 284.2h0M476.3 263.6h0M451.3 267.8h0M443.3 276.5h0M452.9 270.4h0M405.9 288.5h0M421.3 284.0h0M437.2 279.1h0M411.1 282.9h0M456.1 273.0h0M442.7 279.5h0M414.8 286.7h0M429.8 276.8h0M446.4 274.6h0M400.7 289.2h0M421.6 284.8h0M413.8 286.4h0M461.0 268.4h0M412.3 285.1h0M410.2 285.0h0M443.7 277.3h0M428.7 279.5h0M441.0 272.4h0M423.2 285.2h0M408.4 281.1h0M422.6 284.5h0M426.2 273.2h0M435.2 277.6h0M432.5 281.9h0M456.0 272.3h0M403.6 289.9h0M435.4 274.3h0M428.7 282.1h0M443.5 275.6h0M416.7 284.0h0M418.5 286.0h0M440.9 279.2h0M438.4 280.4h0M448.8 272.9h0M460.5 271.4h0M443.7 278.5h0M429.0 283.4h0M445.9 275.3h0M458.0 272.1h0M407.3 283.9h0M458.1 274.4h0M464.6 270.5h0M410.1 283.7h0M439.2 278.7h0M417.1 282.0h0M460.7 270.9h0M467.5 268.1h0M432.7 279.7h0M419.3 285.3h0M402.9 291.5h0M465.5 268.0h0M421.2 283.8h0M402.5 288.2h0M404.4 288.2h0M436.0 279.5h0M432.9 282.1h0M434.8 276.1h0M410.9 286.9h0M445.9 275.1h0M433.2 281.5h0M443.1 276.1h0M437.2 278.1h0M409.4 284.1h0M417.1 285.5h0M449.9 276.8h0M461.8 270.6h0M462.4 271.6h0M400.7 291.4h0M420.2 285.0h0M430.8 279.9h0M423.0 281.1h0M434.2 273.9h0M436.6 278.4h0M431.6 282.0h0M399.9 287.0h0M425.3 283.3h0M454.3 271.1h0M409.2 284.9h0M445.4 273.7h0M411.3 284.6h0M404.4 289.5h0M415.2 287.1h0M470.4 266.4h0M450.9 273.7h0M432.7 280.7h0M414.4 281.4h0M433.8 282.5h0M454.9 270.4h0M426.5 285.0h0M454.8 273.8h0M441.0 279.6h0M447.6 276.9h0M411.3 280.1h0M420.1 285.7h0M415.2 282.1h0M448.9 274.4h0M465.6 270.7h0M419.2 285.1h0M430.6 280.3h0M413.6 287.8h0M439.5 280.9h0M425.2 283.3h0M420.3 282.6h0M445.1 278.7h0M427.3 272.0h0M419.9 284.8h0M465.1 267.7h0M415.0 285.9h0M482.3 261.2h0M439.6 279.2h0M416.3 284.5h0M440.8 277.3h0M441.5 279.7h0M444.8 278.2h0M443.8 265.1h0M460.0 273.9h0M423.6 284.8h0M452.0 272.7h0M484.1 260.1h0M446.3 276.5h0M422.8 277.6h0M421.7 281.4h0M472.7 266.0h0M450.9 271.9h0M437.1 281.5h0M427.5 282.1h0M445.7 278.9h0M456.6 273.9h0M422.4 283.5h0M469.5 266.6h0M467.2 268.8h0M453.8 274.6h0M459.3 268.4h0M449.2 276.0h0M421.0 285.7h0M457.4 271.2h0M422.6 279.1h0M411.5 286.8h0M409.9 286.1h0M472.6 265.7h0M417.1 287.0h0M470.1 265.4h0M431.8 276.1h0M420.8 284.3h0M414.0 284.7h0M462.0 270.3h0M431.9 279.1h0M459.6 268.2h0M427.2 281.9h0M436.3 281.1h0M451.7 273.3h0M426.5 276.1h0M413.2 286.1h0M410.9 286.2h0M478.6 263.3h0M433.0 281.9h0M428.1 283.5h0M480.6 259.7h0M426.3 282.2h0M448.4 275.2h0M484.4 260.8h0M473.1 266.0h0M426.9 276.8h0M487.9 261.3h0M418.2 283.5h0M419.9 285.9h0M475.9 264.0h0M421.9 280.9h0M420.1 285.2h0M460.1 266.0h0M433.0 281.6h0M445.5 272.9h0M430.6 271.5h0M441.3 280.4h0M421.5 285.1h0M440.8 280.2h0M484.3 260.6h0M410.2 290.7h0M437.9 275.9h0M443.3 277.9h0M400.8 289.5h0M408.9 286.3h0M450.3 273.4h0M419.2 283.7h0M425.2 282.3h0M432.7 276.1h0M475.1 266.3h0M431.6 280.4h0M412.8 286.6h0M412.2 285.1h0M407.4 282.8h0M464.9 268.9h0M404.7 288.1h0M450.7 273.7h0M486.0 260.7h0M470.2 267.1h0M428.8 282.1h0M489.0 258.6h0M456.3 272.1h0M460.7 270.7h0M419.4 286.4h0M435.1 280.7h0M413.2 287.0h0M435.7 280.6h0M437.4 282.4h0M473.8 266.3h0M407.6 289.0h0M468.3 267.8h0M418.8 284.1h0M449.6 274.7h0M455.0 273.8h0M429.4 278.7h0M438.6 280.0h0M417.5 279.6h0M413.2 281.6h0M422.3 283.2h0M432.4 283.3h0M445.3 278.2h0M417.8 284.9h0M405.1 286.5h0M435.4 280.0h0M484.0 261.0h0M447.4 273.4h0M416.5 285.0h0M441.2 274.9h0M483.3 261.2h0M414.8 286.3h0M431.0 273.1h0M432.1 280.3h0M418.8 284.2h0M457.1 272.1h0M414.4 284.9h0M443.8 278.0h0M423.3 283.7h0M422.8 284.2h0M416.1 285.2h0M425.0 282.7h0M425.8 282.9h0M436.9 279.3h0M425.2 281.9h0M435.5 281.1h0M425.1 269.4h0M433.0 281.8h0M415.0 282.0h0M431.7 279.0h0M407.2 282.4h0M410.6 285.9h0M403.7 290.0h0M425.8 284.2h0M406.4 285.2h0M410.4 286.7h0M410.6 285.8h0M440.6 278.7h0M422.9 281.8h0M454.3 275.4h0M422.3 283.2h0M403.5 288.9h0M458.7 271.6h0M401.8 288.3h0M468.9 267.2h0M410.2 283.6h0M454.6 273.9h0M418.3 283.5h0M419.3 284.8h0M437.7 279.0h0M456.1 273.4h0M411.7 283.6h0M419.2 285.1h0M418.8 276.6h0M436.3 279.0h0M429.6 284.1h0M417.7 284.1h0M408.9 286.2h0M452.8 274.8h0M425.2 272.7h0M442.1 276.0h0M411.9 286.9h0M434.0 281.2h0M431.2 278.6h0M436.3 280.5h0M423.0 284.5h0M417.0 276.5h0M423.0 287.8h0M426.9 284.3h0M429.4 265.7h0M422.0 283.8h0M486.3 258.8h0M441.9 270.5h0M423.7 277.4h0M454.3 272.8h0M443.3 276.1h0M403.3 288.3h0M408.2 288.6h0M478.1 263.5h0M430.7 281.0h0M402.3 288.4h0M438.8 282.2h0M415.3 285.3h0M428.2 282.0h0M422.5 285.9h0M416.2 284.2h0M463.4 270.5h0M453.8 270.4h0M475.5 265.3h0M421.8 283.7h0M489.0 259.8h0M429.6 284.7h0M463.0 270.6h0M422.9 283.9h0M439.9 278.1h0M419.1 280.8h0M427.3 276.5h0M423.0 284.6h0M421.4 283.5h0M440.9 279.6h0M452.3 274.9h0M461.2 268.4h0M434.3 281.8h0M415.5 281.1h0M437.4 277.4h0M411.9 285.3h0M485.3 261.4h0M432.3 271.7h0M442.4 279.3h0M433.1 281.3h0M412.6 282.6h0M436.8 276.1h0M430.7 282.0h0M460.1 269.0h0M455.1 269.7h0M456.2 272.8h0M442.9 278.5h0M478.5 262.4h0M400.5 289.3h0M465.9 268.6h0M433.7 281.0h0M447.8 278.8h0M442.7 272.0h0M420.0 283.6h0M406.3 288.7h0M425.1 285.4h0M440.1 277.7h0M425.3 281.9h0M457.8 272.8h0M418.0 283.1h0M439.9 274.4h0M417.4 282.8h0M421.3 269.9h0M466.4 268.0h0M421.0 287.6h0M488.8 258.5h0M425.2 280.9h0M435.5 278.6h0M432.0 279.7h0M463.8 270.5h0M406.5 287.7h0M452.4 275.8h0M431.1 274.0h0M444.5 272.3h0M413.1 286.4h0M437.6 279.8h0M452.5 276.1h0M403.1 290.2h0M484.1 260.8h0M416.3 284.2h0M434.3 282.4h0M415.0 283.9h0M484.9 260.5h0M450.5 272.2h0M445.4 268.0h0M434.7 279.8h0M455.1 274.9h0M407.6 287.3h0M400.0 287.7h0M461.8 271.3h0M446.6 276.3h0M419.4 286.0h0M425.9 280.3h0M407.9 285.3h0M452.7 275.3h0M477.6 263.5h0M422.7 276.5h0M424.2 281.3h0M434.9 280.9h0M452.3 274.4h0M431.6 282.7h0M458.6 271.4h0M454.8 263.3h0M449.0 277.8h0M432.0 278.1h0M438.7 276.3h0M425.8 280.0h0M455.0 274.3h0M418.8 285.6h0M402.5 286.9h0M427.5 283.2h0M437.1 279.0h0M413.9 283.1h0M403.6 286.2h0M413.5 284.2h0M432.7 274.4h0M479.9 262.8h0M424.7 280.5h0M470.5 264.8h0M480.7 262.4h0M440.0 276.3h0M427.6 278.5h0M434.5 276.2h0M419.4 285.4h0M428.5 273.4h0M441.4 275.4h0M445.5 276.8h0M454.2 271.3h0M476.6 263.9h0M472.9 266.0h0M437.8 280.4h0M487.2 259.5h0M437.2 277.8h0M434.3 278.4h0M478.5 263.5h0M444.0 278.1h0M426.4 282.3h0M433.3 278.0h0M471.9 266.6h0M483.7 260.6h0M441.3 280.0h0M422.2 273.2h0M483.5 259.8h0M417.8 282.1h0M445.9 278.9h0M437.5 271.9h0M433.8 279.5h0M482.0 262.4h0M482.1 260.7h0M460.0 271.8h0M423.7 282.0h0M454.8 275.0h0M459.4 270.6h0M472.0 267.2h0M466.9 268.9h0M408.1 283.6h0M474.9 264.8h0M413.5 286.5h0M411.4 284.9h0M444.1 272.7h0M416.4 286.0h0M420.6 284.5h0M463.8 270.4h0M425.3 278.6h0M405.4 286.7h0M403.8 287.5h0M409.2 286.9h0M439.2 276.2h0M435.2 281.0h0M400.4 289.3h0M439.1 279.5h0M425.0 283.2h0M410.1 285.0h0M458.0 271.4h0M409.6 286.2h0M418.0 281.9h0M462.4 272.1h0M436.7 281.6h0M454.6 276.2h0M443.6 280.2h0M458.9 272.4h0M452.0 275.2h0M460.7 270.8h0M417.6 283.7h0M414.9 286.4h0M420.3 283.3h0M441.2 281.0h0M423.6 286.4h0M475.3 265.4h0M470.7 265.5h0M445.9 271.8h0M415.9 286.2h0M468.4 267.4h0M465.5 267.7h0M427.5 283.1h0M435.3 279.1h0M436.0 280.3h0M422.2 284.0h0M432.7 267.4h0M420.6 286.6h0M415.4 286.1h0M431.5 276.7h0M418.6 282.8h0M488.4 258.7h0M473.6 266.3h0M451.3 275.9h0M430.3 281.1h0M418.6 283.8h0M438.7 280.4h0M411.0 286.9h0M400.9 289.4h0M453.5 271.0h0M413.2 280.3h0M428.1 283.1h0M412.8 282.6h0M440.8 279.8h0M454.9 274.1h0M413.3 285.5h0M407.0 287.6h0M458.9 271.2h0M449.7 276.1h0M415.6 288.1h0M431.8 278.6h0M425.8 279.3h0M431.3 274.6h0M432.7 281.6h0M443.0 278.5h0M446.3 276.6h0M426.5 281.1h0M459.9 271.3h0M421.5 284.5h0M488.2 258.0h0M434.5 279.6h0M423.3 284.1h0M408.6 286.3h0M402.8 289.9h0M417.5 283.2h0M428.5 281.5h0M436.3 277.7h0M403.4 287.0h0M413.4 287.5h0M401.1 288.6h0M402.3 284.3h0M426.7 279.1h0M455.4 269.9h0M446.5 275.8h0M445.2 280.3h0M428.2 284.4h0M414.3 280.1h0M419.3 279.2h0M429.8 283.1h0M433.8 279.5h0M430.1 280.2h0M441.8 270.5h0M414.2 282.1h0M419.8 283.9h0M428.4 284.7h0M425.6 282.7h0M444.1 266.1h0M478.3 262.0h0M404.2 287.8h0M414.7 283.3h0M445.3 278.2h0M434.4 276.5h0M419.6 282.0h0M463.5 270.0h0M432.3 281.8h0M436.4 281.8h0M481.9 260.6h0M438.8 274.0h0M446.6 272.2h0M474.9 264.6h0M443.9 278.9h0M422.0 280.7h0M476.0 265.3h0M446.4 276.6h0M463.7 266.6h0M417.5 283.3h0M432.8 282.4h0M426.6 282.2h0M486.9 261.3h0M461.4 269.8h0M423.4 281.5h0M450.6 272.9h0M417.9 287.5h0M407.4 287.6h0M423.8 285.1h0M480.4 262.6h0M462.4 270.9h0M444.0 278.6h0M418.5 282.0h0M430.6 278.8h0M407.3 288.5h0M428.8 281.4h0M451.6 272.6h0M429.2 281.4h0M405.0 287.1h0M407.6 286.6h0M428.2 281.6h0M456.7 270.1h0M464.9 269.7h0M453.8 271.4h0M415.5 281.8h0M411.4 287.5h0M419.1 285.7h0M451.8 273.4h0M419.9 286.4h0M447.7 277.8h0M453.4 273.7h0M487.2 260.3h0M451.3 275.2h0M426.6 269.3h0M470.7 266.3h0M433.1 269.8h0M431.2 281.4h0M411.1 284.5h0M439.9 281.7h0M455.8 267.4h0M452.8 277.2h0M408.7 287.3h0M426.2 283.6h0M418.6 285.0h0M462.2 269.2h0M410.7 287.6h0M407.0 282.2h0M447.9 273.5h0M430.8 282.7h0M426.0 274.2h0M455.0 273.4h0M426.4 283.9h0M420.5 283.3h0M432.5 275.0h0M414.4 287.6h0M402.2 288.8h0M428.9 284.7h0M430.2 283.9h0M437.1 282.3h0M401.2 287.9h0M474.8 265.3h0M446.9 274.0h0M460.4 272.0h0M430.3 281.3h0M410.5 288.8h0M438.6 281.1h0M417.6 284.1h0M425.6 279.9h0M443.0 275.9h0M425.7 283.9h0M446.9 277.5h0M420.4 285.9h0M407.8 286.5h0M486.9 258.3h0M402.6 289.9h0M420.4 284.8h0M440.0 279.7h0M436.0 277.1h0M415.2 285.1h0M436.3 280.9h0M409.1 286.8h0M408.1 283.8h0M410.9 286.8h0M429.8 281.8h0M467.6 267.7h0M456.6 273.4h0M474.8 264.5h0M413.6 281.7h0M457.5 273.3h0M444.1 273.3h0M432.8 281.9h0M424.4 285.1h0" stroke="#222" stroke-width="0.84" stroke-linecap="round" opacity="0.45"/>
<path d="M401.16,289.84L401.60,289.75L402.09,289.64L402.64,289.52L403.25,289.38L403.90,289.24L404.59,289.09L405.31,288.93L406.06,288.76L406.83,288.59L407.60,288.42L408.39,288.25L409.18,288.07L409.97,287.89L410.77,287.71L411.57,287.53L412.36,287.35L413.16,287.16L413.96,286.98L414.76,286.79L415.55,286.61L416.35,286.42L417.15,286.22L417.94,286.03L418.74,285.84L419.53,285.65L420.33,285.45L421.12,285.26L421.92,285.06L422.71,284.87L423.51,284.67L424.30,284.48L425.09,284.28L425.89,284.08L426.68,283.89L427.48,283.69L428.27,283.49L429.07,283.29L429.86,283.09L430.65,282.89L431.45,282.69L432.24,282.48L433.03,282.27L433.82,282.06L434.61,281.85L435.40,281.64L436.19,281.42L436.98,281.20L437.77,280.97L438.56,280.75L439.34,280.52L440.13,280.28L440.91,280.05L441.70,279.80L442.48,279.56L443.26,279.30L444.03,279.04L444.81,278.77L445.58,278.49L446.35,278.20L447.11,277.91L447.88,277.61L448.64,277.30L449.40,276.99L450.15,276.67L450.91,276.35L451.66,276.03L452.41,275.71L453.16,275.38L453.91,275.06L454.66,274.73L455.41,274.41L456.16,274.08L456.91,273.75L457.66,273.43L458.41,273.10L459.16,272.77L459.91,272.45L460.66,272.12L461.41,271.79L462.16,271.46L462.91,271.13L463.66,270.80L464.41,270.46L465.15,270.13L465.90,269.79L466.65,269.45L467.39,269.12L468.14,268.78L468.88,268.44L469.62,268.09L470.37,267.75L471.11,267.41L471.85,267.07L472.60,266.72L473.34,266.38L474.08,266.04L474.82,265.69L475.56,265.35L476.31,265.00L477.05,264.66L477.79,264.32L478.53,263.97L479.28,263.63L480.02,263.29L480.76,262.94L481.50,262.60L482.24,262.26L482.98,261.92L483.71,261.58L484.43,261.25L485.14,260.93L485.83,260.61L486.51,260.30L487.15,260.00L487.76,259.72L488.32,259.47L488.84,259.23L489.30,259.02L489.70,258.84L489.48,258.35L489.06,258.52L488.59,258.70L488.07,258.91L487.49,259.15L486.87,259.40L486.22,259.67L485.53,259.95L484.82,260.24L484.10,260.54L483.37,260.85L482.63,261.16L481.88,261.48L481.13,261.80L480.38,262.13L479.63,262.45L478.88,262.78L478.14,263.11L477.39,263.44L476.64,263.77L475.89,264.10L475.14,264.43L474.39,264.76L473.64,265.09L472.90,265.43L472.15,265.76L471.40,266.08L470.65,266.41L469.90,266.74L469.15,267.06L468.40,267.38L467.64,267.70L466.89,268.01L466.13,268.32L465.37,268.62L464.61,268.91L463.84,269.20L463.07,269.48L462.30,269.75L461.53,270.02L460.75,270.29L459.98,270.55L459.20,270.81L458.42,271.06L457.64,271.32L456.85,271.57L456.07,271.82L455.29,272.07L454.51,272.32L453.72,272.57L452.94,272.82L452.16,273.07L451.38,273.31L450.60,273.55L449.81,273.78L449.03,274.01L448.25,274.22L447.47,274.43L446.68,274.61L445.90,274.78L445.11,274.93L444.32,275.05L443.52,275.15L442.73,275.23L441.92,275.29L441.11,275.32L440.30,275.35L439.48,275.36L438.65,275.36L437.83,275.37L437.00,275.37L436.18,275.39L435.35,275.41L434.54,275.46L433.73,275.53L432.92,275.62L432.13,275.74L431.34,275.89L430.56,276.07L429.79,276.28L429.02,276.52L428.26,276.77L427.50,277.05L426.74,277.35L425.98,277.66L425.22,277.97L424.46,278.30L423.70,278.63L422.94,278.96L422.18,279.30L421.42,279.63L420.67,279.97L419.91,280.31L419.15,280.65L418.39,280.98L417.64,281.32L416.88,281.66L416.13,281.99L415.37,282.33L414.62,282.67L413.87,283.00L413.11,283.34L412.36,283.67L411.60,284.01L410.84,284.35L410.09,284.68L409.33,285.02L408.57,285.36L407.82,285.69L407.07,286.02L406.33,286.35L405.60,286.67L404.89,286.99L404.20,287.29L403.54,287.59L402.91,287.86L402.33,288.12L401.81,288.35L401.33,288.56L400.92,288.74Z" fill="#000" opacity="1.0" filter="url(#bl)"/>
<path d="M416.8 340.2h0M410.6 339.6h0M401.0 338.4h0M456.5 323.3h0M411.7 335.0h0M417.9 341.3h0M423.8 331.9h0M446.6 328.4h0M471.1 323.3h0M402.8 345.9h0M438.1 319.9h0M408.7 340.2h0M421.2 336.3h0M401.0 342.7h0M414.3 327.2h0M425.0 338.8h0M472.0 320.0h0M406.8 339.4h0M469.4 321.1h0M461.1 319.5h0M412.6 334.4h0M408.2 335.2h0M426.9 336.4h0M426.2 333.6h0M433.9 333.2h0M413.8 337.9h0M438.9 331.0h0M425.3 333.3h0M415.2 338.7h0M413.7 339.7h0M438.5 335.8h0M423.9 335.9h0M403.4 337.4h0M427.4 335.0h0M427.7 336.0h0M463.2 326.6h0M458.8 323.7h0M448.2 325.8h0M411.1 337.8h0M423.5 328.2h0M412.2 339.4h0M416.6 338.9h0M428.1 332.6h0M447.0 330.4h0M423.0 333.8h0M422.7 335.2h0M427.2 331.3h0M429.7 334.6h0M443.2 327.3h0M418.0 338.6h0M409.1 340.0h0M461.7 324.7h0M428.9 337.3h0M431.3 330.0h0M421.1 338.3h0M436.3 329.3h0M435.3 332.4h0M423.5 340.3h0M424.2 335.4h0M435.8 331.2h0M424.8 337.0h0M445.6 331.2h0M412.2 339.6h0M409.4 339.2h0M420.3 343.2h0M460.3 322.6h0M418.4 337.1h0M450.1 321.6h0M412.1 337.3h0M414.9 336.2h0M429.5 333.4h0M442.2 329.4h0M403.4 344.8h0M412.8 334.2h0M414.9 342.1h0M456.5 326.0h0M420.6 336.0h0M411.8 338.8h0M435.3 331.9h0M414.8 336.7h0M440.1 333.0h0M413.3 338.2h0M439.9 332.5h0M412.5 338.6h0M465.4 325.0h0M473.1 319.2h0M416.1 338.2h0M434.4 335.5h0M440.7 331.0h0M407.3 340.3h0M434.1 333.7h0M431.6 334.0h0M442.0 324.1h0M416.3 333.4h0M441.3 330.1h0M406.4 339.3h0M444.2 329.6h0M436.1 332.9h0M433.8 333.9h0M402.3 336.4h0M412.1 341.1h0M446.5 328.3h0M427.6 336.0h0M418.4 339.1h0M403.0 338.5h0M449.8 323.1h0M453.9 326.5h0M442.0 330.8h0M404.6 341.0h0M401.2 338.2h0M411.0 337.8h0M452.2 328.0h0M415.0 330.6h0M399.6 342.7h0M404.3 341.3h0M420.2 336.4h0M424.6 327.1h0M417.2 337.6h0M429.4 334.8h0M407.2 337.6h0M434.3 334.4h0M425.8 323.9h0M425.3 334.4h0M433.3 335.0h0M475.3 318.8h0M410.1 339.1h0M407.6 341.1h0M406.5 341.1h0M432.8 336.3h0M432.0 334.8h0M447.2 329.8h0M404.3 341.3h0M413.6 336.6h0M414.4 336.2h0M438.3 331.9h0M419.9 338.2h0M453.8 327.3h0M466.3 322.5h0M414.8 338.0h0M429.7 335.6h0M416.0 336.7h0M425.6 337.1h0M428.8 336.3h0M414.1 338.6h0M409.8 340.5h0M421.1 334.7h0M404.8 339.7h0M437.5 333.6h0M455.2 325.9h0M436.4 331.5h0M413.5 338.9h0M435.0 329.3h0M443.3 330.3h0M421.8 340.8h0M402.9 338.6h0M432.9 333.6h0M406.4 339.1h0M437.6 329.3h0M408.7 341.6h0M421.1 330.5h0M417.6 337.7h0M429.3 335.8h0M425.5 334.7h0M401.0 339.8h0M407.5 341.0h0M438.1 327.0h0M401.0 343.1h0M458.9 321.8h0M435.2 330.7h0M411.5 336.7h0M431.9 334.5h0M421.1 337.9h0M446.4 327.5h0M430.0 333.9h0M471.4 317.8h0M416.7 336.1h0M469.5 320.3h0M425.0 335.3h0M439.1 333.6h0M405.7 341.0h0M404.0 339.8h0M411.1 342.1h0M419.0 335.2h0M411.0 339.6h0M422.8 335.7h0M454.7 332.2h0M465.1 323.5h0M442.2 335.0h0M402.3 340.7h0M403.0 342.5h0M417.3 338.8h0M461.8 321.4h0M425.3 336.3h0M412.9 339.3h0M466.5 322.7h0M438.8 329.1h0M436.7 329.1h0M443.8 331.0h0M409.2 335.5h0M407.5 339.1h0M421.5 338.9h0M435.7 327.2h0M432.0 335.5h0M443.5 331.7h0M451.9 327.1h0M428.9 335.3h0M430.7 328.4h0M409.9 340.0h0M422.7 337.5h0M445.9 328.1h0M415.1 338.8h0M428.7 339.2h0M415.4 339.7h0M431.1 338.8h0M426.6 332.6h0M432.2 337.5h0M470.1 320.9h0M419.1 338.0h0M439.1 332.1h0M418.0 341.4h0M413.6 338.9h0M419.9 333.2h0M425.6 334.2h0M429.6 336.3h0M408.7 334.6h0M408.0 337.2h0M426.3 333.1h0M427.0 337.1h0M398.1 340.0h0M443.3 333.4h0M418.0 338.7h0M418.1 334.6h0M485.9 317.2h0M415.9 338.6h0M437.4 336.0h0M450.9 327.4h0M442.4 332.0h0M410.6 339.7h0M417.3 335.9h0M452.3 326.5h0M439.2 328.5h0M405.6 341.1h0M424.3 337.1h0M409.4 340.5h0M402.4 341.0h0M424.9 335.7h0M410.5 340.2h0M412.2 332.3h0M435.0 333.1h0M428.5 329.8h0M422.8 336.5h0M414.7 338.3h0M452.9 326.5h0M447.8 331.4h0M434.9 337.2h0M417.3 343.3h0M407.8 340.9h0M432.8 332.8h0M416.8 336.3h0M406.3 344.0h0M399.0 339.1h0M468.2 320.7h0M476.1 317.4h0M429.5 330.7h0M484.7 314.3h0M419.6 337.8h0M455.8 324.9h0M470.3 322.5h0M456.5 324.4h0M408.5 337.0h0M407.9 337.2h0M440.9 327.1h0M427.3 335.5h0M475.9 315.9h0M404.2 341.5h0M420.8 334.2h0M432.3 333.8h0M456.5 325.8h0M423.2 336.8h0M444.0 330.5h0M435.7 332.6h0M405.1 341.3h0M416.0 333.4h0M440.4 335.2h0M426.5 336.3h0M470.2 319.8h0M462.2 326.7h0M402.0 339.8h0M432.4 332.9h0M413.7 336.6h0M444.6 329.5h0M412.1 336.7h0M431.7 334.6h0M436.1 331.8h0M417.0 338.2h0M458.7 325.4h0M399.2 344.5h0M415.5 333.4h0M402.5 341.3h0M423.8 332.1h0" stroke="#888" stroke-width="0.80" stroke-linecap="round" opacity="0.45"/>
<path d="M423.8 338.0h0M429.8 332.5h0M400.6 341.6h0M409.5 339.2h0M437.7 328.6h0M422.5 326.3h0M430.5 336.6h0M427.3 337.6h0M449.0 325.4h0M402.0 342.1h0M428.8 330.7h0M414.7 340.2h0M468.5 320.5h0M407.2 339.9h0M424.7 337.5h0M446.9 331.4h0M421.5 333.9h0M410.1 333.2h0M416.8 338.8h0M404.3 342.2h0M426.0 326.7h0M423.5 330.8h0M436.3 331.3h0M418.3 331.9h0M423.0 332.3h0M463.2 322.7h0M415.3 339.4h0M428.9 320.8h0M412.2 336.0h0M417.2 333.5h0M481.0 315.5h0M440.5 331.9h0M454.9 326.8h0M423.9 333.8h0M466.9 322.7h0M400.4 342.7h0M467.9 321.0h0M415.7 337.3h0M474.7 319.1h0M420.0 338.1h0M411.5 338.3h0M444.3 329.9h0M428.0 327.1h0M434.0 336.2h0M428.9 317.1h0M427.6 337.3h0M479.4 318.5h0M473.3 318.7h0M412.1 336.7h0M413.3 338.6h0M419.8 339.0h0M425.2 335.6h0M416.7 337.5h0M411.2 340.0h0M469.4 321.7h0M417.1 339.8h0M460.0 324.4h0M469.8 320.5h0M457.9 322.6h0M425.3 334.9h0M420.3 334.2h0M462.5 322.4h0M435.3 333.8h0M437.8 331.4h0M423.9 337.0h0M459.6 325.0h0M418.1 326.2h0M425.7 336.2h0M423.5 338.1h0M406.8 341.4h0M453.1 323.8h0M410.8 336.1h0M404.1 341.5h0M409.7 339.3h0M414.7 338.8h0M405.6 341.1h0M477.6 318.1h0M477.6 319.3h0M407.1 342.1h0M464.9 323.0h0M450.8 327.5h0M420.2 335.0h0M429.7 335.8h0M403.1 341.0h0M476.7 318.7h0M404.8 341.7h0M422.9 336.6h0M434.2 333.4h0M435.5 324.4h0M427.9 331.9h0M401.8 340.4h0M429.7 336.1h0M412.8 331.6h0M441.8 329.9h0M427.8 332.7h0M403.8 341.0h0M413.2 340.1h0M435.9 334.3h0M423.2 339.1h0M433.1 326.9h0M435.2 331.7h0M443.5 331.4h0M413.5 338.2h0M471.4 322.4h0M428.9 335.6h0M429.9 324.0h0M414.1 329.1h0M402.8 340.5h0M423.9 334.6h0M411.5 341.2h0M423.4 338.4h0M468.0 323.3h0M475.8 319.1h0M484.4 314.0h0M401.7 341.2h0M423.5 328.4h0M446.7 330.6h0M411.9 338.9h0M454.2 327.0h0M410.2 339.2h0M401.0 340.9h0M445.7 330.8h0M402.9 336.9h0M437.7 334.0h0M433.1 325.0h0M416.6 333.8h0M414.4 332.1h0M431.0 334.5h0M415.0 339.1h0M436.0 331.8h0M426.9 335.3h0M463.8 323.3h0M437.0 328.9h0M444.2 324.0h0M403.3 340.8h0M413.4 336.2h0M443.0 331.9h0M426.1 331.4h0M466.1 323.1h0M464.2 324.2h0M401.6 339.6h0M404.4 343.2h0M440.5 331.7h0M432.9 336.5h0M418.7 337.2h0M414.3 337.9h0M419.5 330.9h0M458.3 324.2h0M437.3 330.3h0M407.7 340.9h0M448.2 330.3h0M406.2 341.0h0M425.0 336.4h0M421.2 335.9h0M416.6 334.9h0M414.9 333.5h0M413.9 339.3h0M446.9 327.6h0M436.8 330.7h0M430.1 335.7h0M420.3 332.6h0M435.3 329.2h0M422.7 334.8h0M430.6 337.3h0M406.1 341.0h0M450.4 327.9h0M457.6 325.8h0M469.0 322.0h0M434.1 330.4h0M421.5 338.0h0M438.0 330.1h0M419.0 338.2h0M410.6 340.0h0M404.2 340.1h0M421.8 337.0h0M410.6 340.3h0M428.2 335.9h0M415.9 341.3h0M431.5 332.7h0M415.1 339.1h0M448.0 327.0h0M408.0 339.2h0M437.4 324.9h0M442.9 328.7h0M436.6 334.9h0M420.2 337.0h0M410.1 340.4h0M417.7 336.6h0M408.6 337.5h0M401.5 339.7h0M427.6 329.6h0M442.7 330.6h0M443.3 331.3h0M483.3 315.4h0M403.0 340.6h0M408.3 339.3h0M447.9 325.7h0M421.7 336.8h0M429.6 336.1h0M419.4 335.9h0M404.9 341.4h0M412.2 339.9h0M466.8 321.0h0M434.3 331.5h0M445.0 328.9h0M413.3 341.0h0M436.1 332.5h0M464.6 322.7h0M486.4 314.7h0M412.6 338.6h0M427.8 333.2h0M410.5 338.2h0M413.2 338.8h0M447.9 327.0h0M402.7 341.7h0M452.4 328.2h0M437.3 329.0h0M463.8 322.4h0M435.3 330.6h0M412.0 335.3h0M398.9 344.5h0M440.2 326.8h0M424.6 333.1h0M435.8 331.2h0M454.7 327.0h0M438.4 331.9h0M416.3 339.9h0M409.7 340.3h0M416.5 338.6h0M426.5 336.1h0M427.5 334.6h0M481.7 316.0h0M444.9 327.5h0M444.8 330.4h0M425.1 336.7h0M418.0 339.0h0M419.7 336.7h0M434.0 336.3h0M472.5 322.0h0M426.9 337.5h0M440.5 331.3h0M417.9 328.5h0M411.3 337.7h0M412.6 334.2h0M413.9 337.9h0M470.6 321.6h0M429.9 337.0h0M425.7 337.7h0M444.9 331.4h0M423.8 329.4h0M438.4 332.9h0M474.3 319.5h0M407.5 340.1h0M457.4 322.6h0M426.3 330.9h0M406.2 341.4h0M419.2 332.6h0M436.5 335.8h0M410.6 340.1h0M437.7 327.9h0M427.3 333.6h0M419.8 331.9h0M422.3 338.1h0M415.7 339.0h0M432.4 333.9h0M405.2 337.9h0M410.9 337.6h0M412.9 336.5h0M420.3 336.8h0M431.3 333.5h0M413.4 338.5h0M449.6 329.1h0M427.3 333.8h0M426.4 333.7h0M445.7 328.8h0M417.6 338.5h0M445.7 330.1h0M423.9 330.2h0M413.9 339.2h0M437.4 332.7h0M456.8 325.5h0M433.4 327.0h0M453.3 324.3h0M420.4 328.4h0M431.1 333.7h0M422.0 339.0h0M461.7 323.5h0M432.2 334.9h0M420.3 335.2h0M422.4 330.4h0M472.5 320.3h0M436.7 334.5h0M417.3 338.4h0M435.6 335.6h0M433.9 326.6h0M400.1 344.3h0M419.0 336.4h0M445.8 328.9h0M427.9 335.9h0M458.7 323.5h0M415.8 337.9h0M410.4 340.1h0M403.0 340.6h0M447.8 328.6h0M403.5 340.5h0M439.3 331.4h0M440.7 334.9h0M427.1 328.8h0M401.2 341.1h0M460.9 326.0h0M424.1 322.1h0M459.3 324.3h0M433.4 333.5h0M455.9 325.5h0M421.3 337.1h0M422.9 338.2h0M472.8 319.7h0M447.6 327.8h0M422.3 337.9h0M411.9 339.0h0M408.5 336.3h0M404.5 338.0h0M436.7 328.8h0M417.1 337.3h0M417.0 337.6h0M429.2 336.4h0M419.6 324.0h0M406.2 328.2h0M441.0 326.8h0M416.3 338.3h0M419.4 338.0h0M418.8 336.6h0M406.2 341.1h0M406.9 338.0h0M427.1 334.5h0M424.6 337.1h0M413.3 338.6h0M449.0 327.0h0M469.9 320.3h0M410.5 342.2h0M435.5 333.6h0M428.3 334.3h0M437.2 328.3h0M424.9 335.2h0M434.0 330.7h0M420.6 337.6h0M443.7 330.7h0M428.9 337.6h0M410.3 340.9h0M423.7 333.8h0M466.6 322.1h0M435.7 334.5h0M430.4 335.2h0M424.2 335.0h0M428.8 336.6h0M430.8 335.2h0M436.3 330.7h0M435.8 333.0h0M441.0 329.2h0M413.3 339.3h0M431.2 333.2h0M421.3 332.8h0M428.1 336.4h0M405.2 340.6h0M423.7 330.0h0M421.6 334.0h0M429.4 323.1h0M483.6 316.5h0M413.1 335.8h0M429.0 331.2h0M413.4 329.5h0M434.1 332.7h0M476.6 318.0h0M422.8 334.8h0M423.0 338.2h0M451.4 325.4h0M411.5 337.8h0M442.6 328.2h0M459.4 324.9h0M401.3 343.9h0M442.5 334.8h0M424.1 336.8h0M423.5 337.3h0M406.0 339.0h0M424.5 337.6h0M433.9 334.5h0M419.7 334.5h0M408.8 340.2h0M425.5 332.9h0M449.3 328.5h0M436.5 330.1h0M432.6 336.1h0M459.4 325.1h0M430.3 326.4h0M422.6 333.2h0M436.2 333.1h0M424.5 335.0h0M433.5 326.0h0M411.4 340.1h0M439.7 332.9h0M432.3 331.3h0M415.8 333.3h0M423.4 334.2h0M411.8 340.9h0M465.8 321.4h0M461.2 325.2h0M408.5 340.8h0M474.8 318.9h0M420.0 337.5h0M481.5 316.3h0M409.1 337.8h0M437.8 332.4h0M457.1 324.6h0M435.3 330.7h0M430.1 332.2h0M423.6 336.6h0M436.7 333.4h0M474.6 319.5h0M421.8 327.5h0M403.8 341.5h0M406.3 340.0h0M431.0 332.6h0M418.4 336.3h0M419.4 335.5h0M408.6 339.2h0M400.9 342.9h0M421.1 337.9h0M416.1 335.2h0M438.9 328.1h0M409.6 343.4h0M429.3 332.8h0M441.6 330.6h0M436.8 334.5h0M417.3 336.8h0M414.7 341.2h0M454.1 327.2h0M425.5 336.5h0M427.9 335.3h0M417.9 338.0h0M414.8 339.7h0M434.6 335.1h0M453.1 325.4h0M455.0 328.0h0M446.0 330.6h0M456.1 327.0h0M431.6 334.2h0M431.3 336.3h0M423.7 337.0h0M429.7 335.4h0M417.5 339.4h0M452.1 327.9h0M459.8 321.6h0M441.9 332.9h0M486.2 314.6h0M464.6 322.1h0M409.7 340.5h0M444.2 332.0h0M404.4 342.8h0M478.7 317.8h0M402.2 342.8h0M406.4 342.1h0M441.6 331.6h0M424.6 332.7h0M412.3 339.4h0M427.5 332.3h0M405.4 341.0h0M423.4 332.2h0M480.6 317.0h0M427.2 328.3h0M418.2 333.9h0M407.7 330.1h0M436.4 333.5h0M479.5 316.8h0M422.0 333.4h0M443.8 331.1h0M476.0 317.6h0M451.3 326.9h0M442.9 328.6h0M420.9 335.2h0M445.8 329.2h0M471.8 320.4h0M415.2 337.6h0M441.8 332.0h0M442.1 332.8h0M471.2 320.4h0M420.1 337.1h0M425.6 337.5h0M431.0 333.9h0M432.0 335.6h0M402.8 341.5h0M405.2 341.7h0M474.7 320.3h0M457.4 325.9h0M401.4 343.0h0M442.2 333.3h0M411.6 337.4h0M407.3 339.6h0M450.0 326.2h0M444.0 332.9h0M403.1 340.7h0M417.8 337.6h0M421.8 336.8h0M422.1 337.9h0M443.3 331.0h0M438.1 330.4h0M409.0 336.0h0M425.8 329.2h0M425.1 336.2h0M452.1 328.9h0M423.5 337.7h0M412.3 335.6h0M442.0 328.9h0M438.9 333.4h0M412.0 339.9h0M401.4 341.8h0M435.0 333.5h0M408.7 340.2h0M428.8 329.8h0M486.9 314.5h0M425.3 336.3h0M423.5 328.5h0M409.0 338.8h0M428.7 336.4h0M475.5 318.8h0M426.4 335.7h0M417.5 334.6h0M419.1 337.9h0M436.4 335.5h0M406.1 341.3h0M429.2 335.5h0M410.8 341.0h0M430.8 333.7h0M412.9 340.6h0M408.2 341.6h0M422.2 331.3h0M430.1 327.9h0M424.5 335.7h0M442.3 326.2h0M453.9 328.3h0M449.3 330.0h0M409.7 339.6h0M462.6 324.2h0M430.8 336.1h0M429.4 324.4h0M471.7 320.3h0M413.2 338.8h0M478.2 317.3h0M406.2 341.4h0M405.0 341.4h0M465.6 323.0h0M424.6 335.8h0M438.0 333.1h0M426.4 324.4h0M406.9 340.9h0M426.1 336.8h0M433.2 329.1h0M421.7 338.9h0M454.3 326.6h0M416.3 338.7h0M408.0 339.8h0M467.4 322.0h0M452.8 327.5h0M450.3 325.5h0M413.6 339.9h0M487.4 315.0h0M441.5 325.6h0M474.6 318.7h0M423.5 335.8h0M434.7 334.8h0M437.7 330.3h0M428.8 335.0h0M431.6 334.8h0M427.0 334.9h0M415.8 339.6h0M416.6 337.3h0M423.2 333.8h0M423.3 337.8h0M424.4 337.0h0M422.9 331.0h0M468.1 320.2h0M431.6 331.3h0M429.3 331.4h0M444.3 326.3h0M417.4 337.4h0M428.2 335.9h0M417.6 333.0h0M411.2 338.4h0M407.9 338.3h0M415.8 339.3h0M437.9 333.0h0M411.5 339.8h0M422.2 336.3h0M473.4 317.7h0M451.8 329.8h0M437.1 335.3h0M425.3 336.2h0M431.4 335.5h0M426.5 332.7h0M418.8 332.4h0M455.4 325.5h0M427.1 337.1h0M413.5 339.1h0M435.8 334.7h0M413.6 331.1h0M420.3 338.1h0M411.7 335.2h0M444.7 325.0h0M406.7 340.3h0M405.0 341.8h0M406.0 342.3h0M477.2 317.9h0M400.5 341.9h0M413.5 341.0h0M425.5 332.0h0M414.5 337.0h0M413.4 339.5h0M465.5 323.1h0M432.1 332.2h0M426.5 331.8h0M411.4 338.4h0M430.9 334.4h0M446.7 328.5h0M416.9 340.7h0M425.6 335.5h0M450.9 329.2h0M428.7 333.6h0M416.8 332.8h0M422.6 337.5h0M420.6 331.8h0M440.7 329.3h0M430.7 335.7h0M482.8 315.4h0M401.7 339.9h0M414.0 336.1h0M404.8 340.7h0M425.0 338.0h0M424.8 336.2h0M407.1 335.6h0M423.2 336.9h0M455.8 327.0h0M469.7 319.6h0M405.4 339.6h0M434.6 333.5h0M429.1 327.4h0M433.6 332.1h0M442.4 319.3h0M427.1 329.1h0M446.6 323.1h0M428.2 326.5h0M408.2 339.8h0M454.7 325.7h0M453.8 325.4h0M405.2 341.0h0M448.4 329.7h0M413.3 338.8h0M480.0 316.6h0M467.2 320.9h0M424.2 330.6h0M462.0 324.0h0M476.7 318.6h0M412.4 335.6h0M405.1 337.9h0M444.3 330.1h0M425.1 336.6h0M421.0 330.6h0M404.9 341.1h0M425.3 336.2h0M452.6 328.6h0M408.6 340.6h0M423.1 337.3h0M448.2 329.2h0M451.0 326.5h0M418.4 337.3h0M463.1 323.2h0M406.6 338.5h0M435.0 333.5h0M437.8 327.2h0M467.0 320.1h0M443.9 331.0h0M402.8 340.7h0M450.1 325.3h0M404.3 341.2h0M444.3 330.4h0M417.3 334.1h0M429.4 333.4h0M422.0 325.6h0M423.0 329.7h0M472.6 320.1h0M426.2 330.9h0M459.3 324.7h0M413.8 338.7h0M450.7 326.0h0M431.7 323.0h0M419.8 339.0h0M458.2 325.0h0M445.7 330.4h0M414.5 338.4h0M399.4 342.1h0M407.9 340.2h0M441.4 333.0h0M411.3 338.3h0M421.9 336.5h0M404.9 342.2h0M421.4 331.9h0M405.5 340.7h0M411.5 340.1h0M408.6 339.0h0M420.3 334.0h0M417.0 336.6h0M431.0 332.2h0M443.0 320.0h0M435.4 334.3h0M431.0 333.3h0M437.8 327.4h0M420.6 337.1h0M461.6 324.2h0M415.9 340.4h0M407.8 338.4h0M416.8 334.4h0M433.9 334.4h0M417.2 338.0h0M434.8 326.4h0M425.8 325.9h0M473.1 319.9h0M428.4 334.9h0M437.7 331.7h0M415.0 339.1h0M413.0 339.0h0M409.3 340.6h0M452.8 327.7h0M452.5 323.2h0M421.4 331.5h0M424.5 330.8h0M421.9 331.2h0M461.2 323.1h0M419.8 339.8h0M438.5 330.9h0M430.5 335.4h0M433.5 329.9h0M454.5 325.4h0M447.6 328.7h0M405.4 339.4h0M434.6 333.6h0M433.4 335.4h0M476.5 319.1h0M437.2 332.5h0M477.3 317.6h0M424.3 338.0h0M432.4 331.4h0M439.0 330.4h0M434.0 330.6h0M412.9 337.6h0M419.1 337.5h0M450.0 328.2h0M485.9 314.5h0M452.7 328.5h0M411.8 339.7h0M415.0 339.1h0M457.5 324.3h0M419.3 339.1h0M412.9 339.4h0M446.0 329.7h0M450.1 327.9h0M485.8 316.4h0M419.0 334.1h0M444.8 331.7h0M415.8 337.1h0M473.2 319.9h0M432.7 336.0h0M454.9 326.4h0M431.1 335.0h0M431.4 328.7h0M419.3 337.9h0M439.2 332.0h0M429.9 336.7h0M429.8 335.6h0M421.9 338.9h0M411.6 340.4h0M410.1 336.6h0M431.3 335.3h0M428.8 332.0h0M418.3 335.9h0M419.3 335.7h0M425.5 333.3h0M431.4 327.7h0M414.9 338.2h0M431.8 331.8h0M423.8 332.1h0M461.4 324.7h0M418.6 338.6h0M409.0 340.4h0M469.8 320.1h0M430.2 336.5h0M473.7 319.7h0M406.0 339.6h0M414.7 332.9h0M435.2 332.9h0M420.7 324.4h0M410.2 339.1h0M420.3 336.6h0M422.3 327.8h0M408.5 338.5h0M421.2 334.8h0M413.0 335.9h0M401.9 342.8h0M409.3 340.0h0M458.3 325.1h0M486.4 314.0h0M477.0 317.5h0M409.3 341.1h0M408.5 339.3h0M415.9 334.7h0M402.9 340.8h0M454.3 325.4h0M458.8 324.7h0M419.2 336.3h0M421.5 338.5h0M437.6 332.3h0M421.4 330.1h0M445.6 330.5h0M406.2 339.3h0M421.6 334.8h0M422.8 332.8h0M413.0 338.9h0M423.8 336.2h0M477.8 317.1h0M425.4 334.9h0M418.9 339.7h0M426.9 333.4h0M467.0 322.6h0M439.1 335.5h0M445.8 330.4h0M416.6 338.5h0M428.1 334.3h0M430.7 333.8h0M448.2 327.4h0M430.9 335.4h0M426.7 335.5h0M450.5 328.4h0M405.1 341.2h0M414.3 337.6h0M460.2 324.8h0M433.5 332.0h0M408.5 339.6h0M421.6 326.1h0M456.2 326.0h0M439.1 328.5h0M436.8 324.8h0M445.6 329.5h0M465.0 319.0h0M402.5 341.4h0M417.3 326.1h0M412.3 337.8h0M407.9 341.2h0M414.9 334.2h0M445.2 332.7h0M405.4 337.8h0M477.7 319.8h0M430.8 335.1h0M410.6 337.6h0M447.9 328.5h0M439.6 329.4h0M450.1 328.8h0M423.3 337.7h0M429.4 324.6h0M425.3 336.0h0M445.4 325.6h0M431.4 332.2h0M415.7 333.7h0M424.5 333.1h0M417.1 337.1h0M420.5 337.6h0M409.1 340.8h0M447.9 321.1h0M473.9 319.6h0M414.9 338.5h0M420.7 333.4h0M409.5 339.8h0M433.3 332.0h0M411.8 339.8h0M408.9 337.2h0M426.2 335.5h0M461.0 322.9h0M413.6 336.1h0M426.2 335.5h0M429.1 331.7h0M410.0 339.3h0M415.8 338.9h0M417.5 338.0h0M432.2 336.3h0M435.8 331.7h0M417.4 335.5h0M449.6 327.6h0M409.9 340.4h0M402.1 341.6h0M420.5 336.3h0M437.1 332.6h0M432.6 336.0h0M487.1 314.1h0M411.3 339.8h0M425.6 333.6h0M419.4 335.4h0M401.4 341.7h0M430.5 334.1h0M423.5 339.0h0M415.5 336.8h0M421.6 336.3h0M429.6 336.6h0M415.7 339.5h0M419.2 338.1h0M452.5 327.8h0M418.1 338.5h0M485.5 314.9h0M429.0 333.3h0M447.7 329.3h0M460.9 325.3h0M474.7 319.3h0M434.7 332.4h0M424.8 331.5h0M435.2 320.0h0M408.0 341.0h0M405.5 341.5h0M419.5 338.9h0M441.6 332.2h0M399.4 344.1h0M417.1 339.6h0M441.7 332.5h0M428.3 336.2h0M425.9 336.9h0M440.0 333.5h0M418.8 339.8h0M467.8 321.5h0M434.4 334.7h0M418.0 330.9h0M425.9 337.2h0M416.5 338.7h0M483.8 315.4h0M405.7 341.1h0M472.3 321.9h0M443.2 333.4h0M427.0 334.7h0M434.0 328.5h0M435.7 327.0h0M400.3 340.3h0M443.9 329.2h0M472.1 319.7h0M413.5 338.0h0M469.3 322.0h0M428.7 334.5h0M424.0 333.0h0M435.6 334.8h0M430.2 335.4h0M465.2 319.4h0M444.5 329.8h0M422.9 328.6h0M434.5 332.1h0M437.7 332.9h0M484.7 314.9h0M446.8 331.3h0M408.2 336.4h0M421.5 326.2h0M436.4 325.7h0M456.9 325.0h0M419.2 338.0h0M448.5 325.5h0M416.0 337.2h0M473.6 319.9h0M427.0 336.0h0M429.3 334.2h0M442.6 332.1h0M407.7 335.5h0M447.6 328.7h0M425.5 334.4h0M419.3 334.9h0M458.8 324.7h0M441.3 330.0h0M419.6 336.6h0M410.9 339.0h0M428.0 332.6h0M437.5 334.7h0M408.5 339.8h0M400.6 341.2h0M406.5 340.6h0M481.4 316.6h0M410.7 335.6h0M403.0 339.6h0M484.1 315.6h0M421.1 335.6h0M421.7 336.9h0M420.2 331.8h0M445.6 329.7h0M428.1 332.7h0M430.5 329.0h0M411.0 338.3h0M417.6 337.4h0M423.6 338.0h0M425.5 333.2h0M429.0 335.0h0M449.6 328.5h0M445.1 329.6h0M412.2 338.7h0M409.1 336.4h0M470.6 320.8h0M411.1 335.8h0M423.7 333.3h0M427.4 331.5h0M474.3 319.8h0M413.0 340.0h0M447.5 332.3h0M434.4 332.1h0M436.1 332.9h0M419.0 338.6h0M416.6 339.8h0M439.6 329.1h0M415.5 339.2h0M420.6 327.2h0M407.7 334.5h0M402.9 338.5h0M411.5 340.1h0M421.6 337.2h0M422.4 336.1h0M422.6 333.3h0M445.3 322.6h0M430.6 333.1h0M403.8 339.1h0M426.2 335.5h0M413.1 337.6h0M411.5 339.4h0M430.2 325.7h0M425.9 336.6h0M416.7 338.5h0M461.6 324.5h0M421.5 338.7h0M479.7 318.0h0M424.7 332.8h0M403.7 340.9h0M477.7 316.5h0M400.7 341.9h0M420.0 337.9h0M429.4 333.9h0M475.9 318.9h0M407.9 335.9h0M435.4 334.4h0M427.4 333.3h0M437.3 332.3h0M424.0 336.1h0M420.3 336.3h0M405.2 338.9h0M431.2 327.3h0M412.7 339.5h0M419.2 340.9h0M426.8 324.6h0M429.0 329.4h0M404.0 341.5h0M427.9 333.9h0M436.2 334.5h0M468.9 320.3h0M436.6 334.2h0M406.8 341.7h0M426.7 333.8h0M443.7 330.4h0M401.5 341.4h0M419.3 338.7h0M424.9 337.7h0M423.6 335.8h0M404.4 331.8h0M430.0 336.3h0M416.8 337.8h0M406.9 340.8h0M411.4 337.8h0M435.0 331.7h0M419.0 330.8h0M408.8 341.2h0M431.8 330.9h0M426.4 336.3h0M425.5 333.4h0M444.1 330.1h0M429.5 337.5h0M401.8 342.0h0M437.1 332.7h0M403.0 341.2h0M401.1 338.4h0M407.8 340.9h0M418.2 334.3h0M425.7 335.4h0M423.0 335.6h0M407.6 338.4h0M439.4 328.5h0M415.9 336.6h0M413.6 336.4h0M439.2 332.6h0M424.3 332.9h0M430.2 336.0h0M467.6 320.9h0M444.8 330.1h0M439.7 325.9h0M424.2 335.9h0M425.8 338.3h0M435.2 333.3h0M454.6 326.3h0M479.4 317.5h0M404.7 341.9h0M434.8 330.3h0M423.1 335.4h0M436.1 332.1h0M440.9 328.6h0M411.2 332.0h0M431.0 320.0h0M415.0 335.6h0M465.5 322.2h0M412.6 341.1h0M421.0 336.7h0M428.3 333.7h0M427.2 328.7h0M420.8 335.3h0M443.2 330.9h0M470.8 320.6h0M421.0 334.9h0M463.0 323.8h0M407.6 340.4h0M422.8 339.1h0M399.6 342.3h0M409.9 340.4h0M416.8 337.9h0M426.9 333.7h0M433.2 334.1h0M435.6 330.8h0M443.9 333.7h0M453.8 329.8h0M403.1 340.1h0M417.6 337.6h0M448.1 329.5h0M428.5 312.6h0M437.5 332.6h0M413.2 339.6h0M461.7 323.7h0M477.7 319.2h0M432.2 335.1h0M433.4 315.8h0M409.4 339.0h0M414.0 340.8h0M408.4 337.2h0M426.7 333.0h0M438.6 334.7h0M433.4 334.5h0M443.2 329.7h0M439.1 333.7h0M432.9 331.1h0M414.2 339.4h0M474.3 319.3h0M454.9 325.7h0M426.1 334.7h0M403.6 341.0h0M410.9 334.7h0M444.8 330.4h0M428.7 335.9h0M400.5 342.7h0M442.4 330.3h0M451.1 328.9h0M429.0 332.3h0M425.9 328.3h0M433.0 327.6h0M410.6 339.2h0M422.1 332.0h0M439.1 332.9h0M437.3 330.0h0M433.2 334.1h0M431.4 332.6h0M456.3 325.7h0M422.6 337.4h0M424.1 323.5h0M429.2 335.0h0M427.1 339.5h0M436.0 332.7h0M448.0 326.6h0M417.2 337.1h0M402.9 341.2h0M427.8 337.0h0M421.6 335.4h0M409.4 335.3h0M422.2 332.5h0M415.9 336.8h0M448.1 327.9h0M468.6 323.2h0M453.3 327.8h0M423.2 338.0h0M440.8 330.7h0M418.9 340.2h0M432.4 325.8h0M425.2 331.7h0M410.0 340.7h0M458.2 325.4h0M413.6 334.3h0M415.5 337.7h0M418.7 335.1h0M417.9 339.6h0M424.1 337.2h0M402.1 340.4h0M438.0 332.4h0M430.4 329.9h0M412.7 335.5h0M411.0 339.0h0M438.7 330.4h0M431.7 336.4h0M430.5 336.6h0M406.1 342.4h0M453.8 327.8h0M419.0 335.7h0M414.4 338.0h0M467.3 321.6h0M416.6 337.1h0M434.0 332.1h0M444.0 332.3h0M421.4 335.5h0M429.7 326.6h0M415.7 337.4h0M440.8 328.3h0M416.3 340.7h0M412.0 340.9h0M440.8 329.6h0M438.4 329.8h0M399.7 343.0h0M426.1 335.9h0M428.4 337.6h0M423.5 335.1h0M420.3 339.0h0M423.8 337.8h0M437.4 327.0h0M424.9 334.1h0M417.2 335.1h0M465.8 321.5h0M477.6 317.3h0M415.8 334.7h0M411.8 341.1h0M401.7 341.8h0M419.7 333.9h0M435.1 331.6h0M440.8 333.6h0M410.6 340.2h0M418.7 340.6h0M419.1 337.8h0M456.8 326.0h0M483.1 315.5h0M459.6 321.1h0M427.0 335.7h0M435.9 334.2h0M425.0 335.5h0M442.1 334.0h0M436.8 331.6h0M411.8 339.2h0M410.2 339.6h0M440.1 333.8h0M462.7 321.1h0M414.3 339.1h0M436.8 334.8h0M399.6 341.8h0M466.3 321.7h0M456.6 325.3h0M420.5 336.8h0M419.9 338.7h0M468.2 321.8h0M405.3 341.1h0M402.8 342.8h0M404.3 342.3h0M403.6 341.5h0M463.8 322.3h0M414.2 336.0h0M458.6 325.4h0M415.1 333.9h0M429.2 335.6h0M427.1 338.5h0M469.8 320.8h0M430.3 336.2h0M415.6 339.1h0M438.9 334.0h0M432.2 335.8h0M425.6 337.3h0M417.6 335.5h0M461.0 325.9h0M423.6 338.2h0M416.5 336.9h0M407.5 340.9h0M440.8 330.2h0M466.9 321.1h0M446.1 329.5h0M443.4 331.1h0M424.5 335.7h0M438.3 330.1h0M419.0 334.1h0M486.2 314.8h0M419.2 335.3h0M400.3 337.9h0M435.0 331.5h0M433.8 335.8h0M406.2 336.1h0M402.3 341.7h0M406.1 340.9h0M469.2 320.8h0M452.0 324.8h0M437.7 333.1h0M426.8 334.3h0M426.8 335.1h0M439.2 327.5h0M400.7 342.5h0M451.9 327.5h0M400.4 339.8h0M429.6 336.8h0M440.2 333.3h0M450.3 327.0h0M408.7 329.9h0M462.9 324.3h0M466.2 319.6h0M435.2 331.4h0M435.6 331.9h0M450.1 329.3h0M478.8 317.8h0M412.3 337.9h0M433.0 332.1h0M430.3 333.8h0M429.3 336.6h0M449.8 323.9h0M446.8 327.8h0M476.5 318.7h0M442.1 325.2h0M449.8 327.7h0M447.3 328.9h0M429.7 331.6h0M410.5 340.2h0M406.2 339.1h0M432.5 333.5h0M455.4 327.7h0M427.6 334.2h0M445.4 329.4h0M403.1 340.2h0M429.5 331.2h0M456.9 326.6h0M425.5 328.2h0M482.6 315.7h0M463.7 323.0h0M401.7 342.5h0M425.2 332.9h0M435.8 336.3h0M471.6 321.6h0M424.5 329.7h0M434.2 329.4h0M465.2 322.9h0M474.9 317.1h0M425.5 337.7h0M433.1 330.3h0M442.8 331.9h0M433.7 334.6h0M402.7 343.0h0M412.1 340.8h0M417.8 336.9h0M416.2 337.1h0M424.5 337.5h0M432.0 327.0h0M451.8 327.0h0M410.2 341.7h0M450.2 327.2h0M398.2 339.7h0M475.9 318.8h0M417.5 338.6h0M442.9 329.1h0M445.4 330.7h0M411.7 339.6h0M413.6 337.0h0M480.3 316.6h0M478.4 317.8h0M435.0 328.2h0M403.3 340.4h0M410.2 336.4h0M441.1 330.4h0M408.5 340.1h0M440.1 331.6h0M433.4 333.4h0M457.8 327.0h0M412.8 338.4h0M414.7 338.2h0M417.4 334.5h0M440.2 329.5h0M402.3 342.6h0M466.7 322.3h0M461.0 324.2h0M462.8 323.9h0M428.3 331.5h0M486.8 313.9h0M419.9 332.4h0M424.6 335.6h0M478.6 317.7h0M417.9 339.1h0M425.3 327.5h0M417.6 338.7h0M407.3 340.9h0M469.3 320.9h0M457.6 324.2h0M425.4 329.1h0M419.6 337.7h0M459.0 325.0h0M420.3 339.3h0M409.0 342.0h0M407.5 340.9h0M424.5 330.6h0M429.0 335.9h0M405.8 340.8h0M478.5 317.2h0M443.1 332.1h0M447.4 327.9h0M444.2 330.9h0M468.9 322.2h0M416.1 339.5h0M419.9 338.8h0M408.8 341.1h0M438.5 333.3h0M429.3 331.2h0M418.8 339.6h0M405.1 338.5h0M462.9 324.0h0M431.2 335.2h0M425.7 335.7h0M402.1 339.9h0M461.9 324.2h0M420.9 318.0h0M414.1 333.0h0M409.4 339.8h0M417.8 328.7h0M409.2 339.6h0M447.9 328.0h0M448.9 326.9h0M482.6 316.0h0M434.6 324.7h0M440.2 328.8h0M421.2 334.3h0M431.4 331.5h0M424.8 333.0h0M409.1 340.5h0M427.2 335.1h0M420.9 321.7h0M430.1 329.0h0M432.5 330.6h0M435.4 331.7h0M425.7 334.8h0M412.9 339.3h0M425.6 337.6h0M479.6 318.5h0M412.9 337.9h0M413.1 332.8h0M410.5 339.7h0M412.4 332.6h0M414.7 334.6h0M440.1 334.5h0M427.9 334.3h0M441.4 331.6h0M445.0 329.0h0M424.6 338.5h0M403.7 343.1h0M444.6 329.7h0M450.8 328.9h0M465.7 321.2h0M440.8 326.6h0M413.5 339.1h0M405.9 342.5h0M406.3 341.9h0M448.9 328.0h0M417.0 339.5h0M404.3 343.1h0M452.7 327.9h0M438.5 332.1h0M428.5 333.2h0M443.4 325.5h0M432.3 330.7h0M402.3 341.3h0M434.1 334.6h0M458.0 324.4h0M413.6 331.5h0M420.3 334.4h0M413.9 340.4h0M429.3 334.1h0M413.6 339.7h0M451.3 327.1h0M428.3 333.3h0M405.9 337.1h0M424.5 328.8h0M410.3 338.8h0M403.3 338.4h0M441.2 328.0h0M402.1 340.6h0M486.1 314.5h0M409.3 340.6h0M408.3 335.2h0M404.5 341.1h0M432.8 334.9h0M420.3 335.8h0M473.2 320.7h0M420.7 335.8h0M412.7 339.9h0M423.7 339.2h0M415.4 337.5h0M426.9 337.3h0M412.2 332.0h0M450.7 326.8h0M429.5 334.0h0M458.0 326.8h0M408.0 341.5h0M419.9 335.7h0M429.0 330.9h0M477.3 319.6h0M423.8 336.4h0M432.6 326.3h0M448.2 330.0h0M419.1 337.8h0M411.4 339.0h0M414.7 332.0h0M420.1 338.4h0M449.2 329.0h0M417.3 337.6h0M429.4 322.4h0M430.2 335.0h0M474.6 320.1h0M452.7 326.5h0M440.8 331.2h0M410.6 342.4h0M439.1 332.2h0M415.9 335.9h0M432.0 331.3h0M432.4 331.3h0M410.8 338.4h0M437.6 333.1h0M444.9 328.2h0M408.5 341.2h0M428.5 334.1h0M423.4 336.8h0M433.0 334.5h0M425.8 330.2h0M416.9 336.9h0M406.4 341.4h0M472.8 319.9h0M428.3 330.2h0M434.5 326.6h0M422.8 336.5h0M418.4 337.6h0M454.7 323.3h0M481.3 316.0h0M479.4 318.8h0M416.6 338.6h0M425.6 335.6h0M450.7 330.3h0M447.0 328.9h0M407.4 333.2h0M411.0 342.1h0M466.5 322.0h0M419.4 336.9h0M432.7 330.3h0M438.3 330.9h0M412.6 339.8h0M453.6 326.8h0M420.0 337.8h0M416.4 337.4h0M418.1 337.4h0M438.3 332.8h0M428.0 337.2h0M406.5 335.3h0M408.2 341.0h0M443.2 328.0h0M413.4 337.9h0M452.5 327.2h0M404.9 341.0h0M421.4 338.4h0M451.7 328.4h0M447.6 330.0h0M408.8 338.3h0M433.0 330.7h0M415.3 337.0h0M424.2 333.6h0M405.8 341.1h0M413.4 340.1h0M415.0 339.5h0M405.8 340.9h0M421.2 336.6h0M429.7 335.5h0M416.2 338.4h0M423.1 337.2h0M452.1 326.6h0M450.1 327.4h0M432.5 332.6h0M410.2 335.9h0M448.1 329.6h0M427.8 335.3h0M404.9 341.4h0M422.1 336.9h0M422.1 333.8h0M442.4 325.7h0M467.2 323.5h0M410.5 340.7h0M460.7 326.5h0M419.7 335.8h0M425.4 336.8h0M470.3 318.8h0M484.7 313.3h0M407.2 341.4h0M427.7 334.0h0M477.6 318.2h0M462.5 323.8h0M417.3 338.3h0M424.1 336.6h0M440.6 327.0h0M405.0 340.6h0M422.0 338.7h0M417.1 327.0h0M432.1 332.1h0M467.3 321.6h0M478.6 315.3h0M429.6 336.7h0M411.0 339.6h0M423.0 334.3h0M411.1 340.2h0M410.7 340.2h0M411.1 336.5h0M406.8 340.7h0M441.9 332.5h0M422.4 337.1h0M422.9 333.4h0M415.7 339.2h0M425.2 335.8h0M435.1 333.1h0M443.8 331.6h0M412.3 338.3h0M455.6 327.4h0M429.8 334.1h0M421.7 337.8h0M413.5 339.3h0M483.5 315.7h0M413.0 338.5h0M452.0 326.5h0M442.4 325.4h0M431.1 331.6h0M432.4 331.8h0M425.0 335.9h0M411.2 332.0h0M423.7 333.3h0M407.2 336.7h0M422.8 335.3h0M426.0 326.8h0M419.0 337.0h0M424.9 328.3h0M416.2 337.0h0M454.0 329.0h0M415.5 339.1h0M414.2 334.7h0M437.1 335.3h0M478.4 317.8h0M422.5 336.7h0M404.6 341.9h0M420.8 334.1h0M446.6 330.1h0M416.9 340.5h0M411.3 337.7h0M425.2 337.5h0M468.0 323.3h0M423.2 333.1h0M429.1 337.0h0M444.5 331.1h0M411.5 340.0h0M442.3 330.8h0M463.7 323.5h0M430.5 334.7h0M419.3 337.4h0M419.6 336.5h0M477.2 318.5h0M468.0 322.5h0M471.3 321.5h0M442.8 330.6h0M432.4 334.8h0M431.4 335.2h0M410.9 339.8h0M414.9 340.2h0M422.1 338.6h0M431.1 335.9h0M418.2 332.6h0M427.5 335.9h0M406.3 341.7h0M472.9 319.9h0M419.2 332.0h0M404.3 339.8h0M484.8 315.1h0M465.6 321.8h0M435.4 332.1h0M417.1 339.2h0M457.5 325.7h0M456.5 327.1h0M418.6 337.2h0M432.3 333.1h0M406.8 342.4h0M444.7 330.4h0M415.1 336.5h0M425.4 325.3h0M444.9 330.3h0M426.1 330.0h0M427.7 336.5h0M441.3 331.7h0" stroke="#222" stroke-width="0.84" stroke-linecap="round" opacity="0.45"/>
<path d="M400.10,342.72L400.52,342.64L400.99,342.55L401.53,342.46L402.12,342.35L402.75,342.24L403.42,342.11L404.12,341.99L404.84,341.85L405.58,341.72L406.33,341.58L407.09,341.44L407.86,341.29L408.62,341.14L409.39,340.99L410.16,340.83L410.94,340.67L411.71,340.51L412.47,340.34L413.24,340.17L414.01,340.00L414.78,339.83L415.54,339.65L416.31,339.47L417.08,339.29L417.84,339.10L418.60,338.92L419.37,338.74L420.13,338.55L420.90,338.37L421.66,338.18L422.42,337.99L423.19,337.80L423.95,337.61L424.71,337.42L425.48,337.23L426.24,337.03L427.00,336.84L427.76,336.64L428.52,336.44L429.28,336.24L430.04,336.04L430.80,335.83L431.56,335.63L432.32,335.43L433.08,335.22L433.84,335.02L434.59,334.81L435.35,334.60L436.11,334.39L436.87,334.18L437.63,333.96L438.38,333.74L439.14,333.52L439.89,333.29L440.64,333.05L441.39,332.80L442.13,332.55L442.88,332.29L443.62,332.01L444.36,331.74L445.09,331.45L445.82,331.16L446.55,330.87L447.28,330.57L448.01,330.27L448.73,329.97L449.46,329.66L450.18,329.36L450.91,329.06L451.63,328.76L452.36,328.47L453.09,328.17L453.81,327.88L454.54,327.59L455.27,327.30L456.00,327.02L456.73,326.74L457.47,326.46L458.20,326.18L458.93,325.90L459.67,325.62L460.40,325.34L461.14,325.07L461.87,324.79L462.61,324.52L463.35,324.24L464.08,323.97L464.82,323.69L465.55,323.41L466.29,323.14L467.03,322.86L467.76,322.59L468.50,322.31L469.23,322.03L469.97,321.75L470.70,321.48L471.44,321.20L472.17,320.91L472.91,320.63L473.64,320.35L474.37,320.06L475.10,319.77L475.83,319.48L476.56,319.18L477.29,318.89L478.02,318.59L478.74,318.29L479.46,318.00L480.18,317.70L480.88,317.41L481.58,317.12L482.25,316.84L482.91,316.57L483.54,316.30L484.13,316.06L484.68,315.83L485.18,315.62L485.63,315.43L486.02,315.27L485.83,314.81L485.43,314.96L484.98,315.14L484.47,315.33L483.92,315.54L483.32,315.77L482.68,316.02L482.02,316.27L481.33,316.53L480.63,316.80L479.92,317.08L479.19,317.35L478.47,317.63L477.74,317.91L477.00,318.18L476.27,318.46L475.53,318.73L474.80,319.01L474.06,319.28L473.33,319.55L472.59,319.82L471.85,320.09L471.12,320.36L470.38,320.62L469.64,320.89L468.90,321.15L468.16,321.42L467.42,321.68L466.68,321.95L465.94,322.21L465.20,322.48L464.46,322.74L463.72,323.00L462.98,323.27L462.24,323.53L461.50,323.79L460.76,324.06L460.02,324.32L459.28,324.58L458.53,324.84L457.79,325.10L457.05,325.35L456.30,325.61L455.55,325.85L454.80,326.10L454.05,326.34L453.29,326.57L452.53,326.80L451.77,327.02L451.00,327.23L450.24,327.44L449.47,327.65L448.70,327.85L447.93,328.05L447.16,328.24L446.40,328.42L445.63,328.60L444.86,328.77L444.10,328.93L443.34,329.08L442.58,329.22L441.82,329.35L441.06,329.46L440.30,329.56L439.54,329.65L438.78,329.73L438.01,329.81L437.24,329.87L436.46,329.93L435.68,329.98L434.90,330.03L434.11,330.08L433.31,330.12L432.52,330.17L431.73,330.22L430.93,330.27L430.14,330.33L429.35,330.40L428.56,330.47L427.78,330.56L427.00,330.67L426.23,330.79L425.47,330.93L424.71,331.10L423.96,331.29L423.22,331.50L422.48,331.74L421.75,332.00L421.01,332.28L420.29,332.57L419.56,332.88L418.83,333.20L418.11,333.53L417.39,333.87L416.67,334.21L415.95,334.55L415.23,334.89L414.51,335.23L413.80,335.57L413.08,335.90L412.37,336.24L411.65,336.57L410.93,336.90L410.21,337.22L409.49,337.55L408.77,337.86L408.04,338.18L407.32,338.49L406.59,338.80L405.87,339.11L405.15,339.41L404.44,339.71L403.75,340.00L403.08,340.28L402.44,340.54L401.83,340.80L401.27,341.03L400.76,341.24L400.30,341.43L399.90,341.60Z" fill="#000" opacity="1.0" filter="url(#bl)"/>
<path d="M421.7 247.8h0M369.6 248.3h0M491.3 248.2h0M416.0 248.0h0M349.7 248.2h0M494.9 248.1h0M423.3 247.0h0M349.7 247.2h0M482.7 248.5h0M473.2 248.4h0M360.9 248.6h0M425.9 248.6h0M472.4 248.4h0M477.6 248.4h0M397.0 248.6h0" stroke="#777" stroke-width="0.80" stroke-linecap="round" opacity="0.5"/>
<path d="M450.2 308.0h0M353.6 307.7h0M463.9 308.3h0M359.9 307.4h0M364.5 308.1h0M351.6 306.7h0M352.3 307.7h0M414.2 308.4h0M384.2 308.2h0M412.1 307.9h0M374.1 308.4h0M358.9 308.1h0M466.1 308.0h0M373.1 308.1h0M422.1 306.3h0M393.0 308.4h0M361.7 308.1h0M416.0 308.3h0M502.3 308.5h0M450.0 307.1h0" stroke="#777" stroke-width="0.80" stroke-linecap="round" opacity="0.5"/>
<path d="M436.8 356.7h0M352.1 359.3h0M384.4 359.3h0M492.7 359.5h0M453.7 359.5h0M502.4 359.5h0M363.9 359.0h0M463.6 359.2h0M396.4 359.5h0M404.9 359.5h0M397.5 358.4h0M461.6 359.3h0M353.1 358.6h0M446.7 359.1h0M454.7 359.5h0M463.3 359.1h0M439.6 359.3h0M489.7 359.1h0M445.1 358.4h0M407.3 359.2h0M486.6 358.6h0M461.7 359.3h0M465.0 358.1h0M363.4 359.3h0M483.5 358.2h0M499.8 358.3h0M363.2 359.0h0M371.2 359.3h0M412.5 359.6h0M498.3 359.1h0M448.5 359.2h0M414.3 359.0h0M432.0 358.8h0M368.3 358.8h0M486.2 359.4h0M390.3 359.4h0M455.4 359.1h0M430.1 359.2h0M387.7 359.1h0M479.8 358.8h0M484.1 358.8h0M413.8 358.6h0M453.6 359.5h0M407.8 359.6h0M358.2 359.3h0M444.0 359.5h0M397.2 358.7h0M441.8 358.3h0M453.9 357.9h0M411.4 358.3h0M475.8 358.9h0M392.1 359.2h0M408.4 358.9h0M452.9 359.4h0M363.4 357.9h0M448.1 358.3h0M434.6 359.3h0M478.4 359.2h0M455.5 359.3h0M458.2 358.5h0M471.3 359.4h0M455.3 358.8h0M405.5 359.4h0M368.4 359.5h0M485.8 358.2h0M490.6 359.0h0M410.8 359.6h0M442.5 359.4h0M495.0 358.6h0M364.7 359.0h0" stroke="#777" stroke-width="0.80" stroke-linecap="round" opacity="0.5"/>
<path d="M375.5 363.4h0M465.9 363.0h0M350.1 363.7h0M448.8 363.8h0M488.5 363.0h0M483.8 363.1h0M487.3 363.2h0M386.4 362.8h0M414.6 363.4h0M420.9 363.3h0M424.3 363.0h0M411.0 362.7h0M445.7 362.9h0M452.0 363.5h0M471.2 362.9h0M389.9 363.4h0M415.9 363.4h0M353.2 363.6h0M351.6 363.4h0M380.9 363.4h0M379.9 363.8h0M406.6 363.2h0M389.9 363.4h0M349.7 363.8h0M461.0 363.0h0M380.8 363.6h0M498.8 362.6h0M393.1 362.9h0M430.3 362.9h0M356.9 363.3h0M405.3 363.4h0M473.6 362.7h0M463.9 363.9h0M479.0 364.0h0M409.4 363.8h0M395.5 363.3h0M352.1 363.5h0M357.8 363.2h0M454.8 363.2h0M413.4 363.2h0M449.5 363.5h0M389.6 363.2h0M406.8 363.2h0M405.0 363.9h0M426.9 363.3h0M404.2 363.6h0M388.0 363.5h0M419.7 363.3h0M406.5 363.3h0M411.3 363.7h0M471.0 363.2h0M467.9 363.6h0M396.1 363.3h0M483.4 363.3h0M438.8 363.8h0M449.8 362.9h0M386.8 363.2h0M425.9 363.2h0M382.7 363.5h0M435.3 363.2h0" stroke="#aaa" stroke-width="0.80" stroke-linecap="round" opacity="0.5"/>
<path d="M434.0 224.4h0M402.4 234.2h0M442.9 219.8h0M439.1 229.2h0M411.9 233.2h0M417.9 231.6h0M403.5 233.2h0M421.7 221.5h0M421.6 230.4h0M432.5 231.3h0M426.2 228.2h0M423.8 234.1h0M406.6 234.4h0M441.3 222.6h0M429.6 226.8h0M434.7 225.5h0M415.4 229.8h0M413.4 221.8h0M408.4 237.0h0M418.3 220.2h0M435.5 226.4h0M430.4 227.6h0M434.8 227.0h0M434.9 226.1h0M432.1 223.2h0M421.7 229.4h0M406.8 233.8h0M419.4 229.9h0M429.5 226.3h0M434.9 223.9h0M422.6 233.6h0M413.7 233.8h0M432.2 221.5h0M425.6 230.0h0M407.7 229.6h0M410.0 237.3h0M434.7 227.2h0M400.4 231.4h0M439.5 227.0h0M425.4 231.1h0M430.7 218.8h0M428.5 231.1h0M416.1 231.9h0M402.3 238.8h0M409.2 237.0h0M423.7 229.8h0M422.0 232.7h0M424.4 230.5h0M419.8 231.8h0M402.8 235.2h0M424.1 236.2h0M423.1 230.6h0M414.0 232.6h0M416.4 228.9h0M443.0 227.0h0M402.6 235.5h0M419.4 232.1h0M425.5 225.0h0M432.0 230.3h0M407.3 235.0h0M404.0 231.2h0M422.0 229.1h0M431.2 226.0h0M429.5 215.3h0M430.2 231.7h0M415.8 228.6h0M425.2 231.4h0M404.7 233.8h0M406.3 239.0h0M402.6 234.8h0M403.5 234.3h0M435.1 222.9h0M413.5 232.8h0M425.5 225.3h0M405.7 230.4h0M400.5 231.5h0M440.7 220.1h0M416.9 232.1h0M414.5 230.8h0M432.2 231.0h0M419.2 230.1h0M414.0 230.5h0M422.8 235.3h0M408.8 233.4h0M410.9 235.4h0M407.0 229.6h0M404.6 228.7h0M429.7 228.3h0M402.6 230.2h0M409.3 234.0h0M423.4 231.1h0M420.5 229.5h0M408.2 232.4h0M421.2 230.6h0M408.1 237.5h0M408.8 236.0h0M416.6 236.3h0M407.3 234.0h0M401.7 234.4h0M404.1 233.1h0M420.7 230.5h0M411.9 233.0h0M432.9 225.8h0M426.0 226.2h0M436.6 225.6h0M430.8 225.4h0M410.7 232.4h0M413.6 233.4h0M434.0 229.3h0M422.9 231.2h0M409.9 231.2h0M431.9 223.7h0M431.3 228.3h0M430.3 222.0h0M424.3 226.6h0M438.2 220.6h0M435.5 225.9h0M426.2 214.2h0M416.7 232.0h0M417.8 233.4h0M403.7 238.9h0M415.8 227.8h0M431.3 222.5h0M419.5 223.7h0M429.4 225.3h0M423.6 215.6h0M410.2 234.0h0M434.4 231.0h0M426.3 224.8h0M424.5 228.9h0M442.0 219.8h0M426.4 232.9h0M441.2 224.3h0M406.5 232.8h0M413.3 228.7h0M429.8 230.2h0M433.1 230.6h0M430.8 227.5h0M401.9 232.9h0M438.4 225.9h0M440.7 223.1h0M424.7 217.6h0M425.7 229.8h0M419.7 229.6h0M409.2 230.9h0M430.5 231.5h0M441.7 222.3h0M416.5 230.1h0M432.1 227.3h0M423.4 230.3h0M408.7 233.8h0M420.6 230.9h0M416.6 228.1h0M426.0 227.9h0M416.5 229.3h0M434.5 226.8h0M408.7 237.9h0M417.7 233.6h0M431.9 227.7h0M425.9 227.8h0M430.3 227.6h0M435.9 232.4h0M428.9 228.0h0M438.6 224.5h0M413.9 232.9h0M423.9 231.2h0M435.4 227.8h0M420.9 235.6h0M436.0 226.6h0M422.3 230.0h0M433.3 224.4h0M432.8 227.5h0M413.4 227.9h0M417.2 232.9h0M423.2 229.2h0M431.6 227.7h0M402.1 234.1h0M438.6 224.8h0M402.2 235.6h0M428.5 224.7h0M433.6 222.9h0M436.7 225.5h0M415.8 230.0h0M404.2 235.0h0M418.4 231.6h0M423.2 227.5h0M438.7 222.7h0M418.0 232.3h0M419.2 220.5h0M425.4 227.6h0M423.7 228.4h0M424.1 226.5h0M411.1 233.6h0M414.0 225.3h0M417.4 232.5h0M429.9 231.9h0M416.6 227.8h0M408.5 233.9h0M428.9 228.0h0M406.8 233.0h0M427.3 231.7h0M416.1 237.1h0M417.6 231.4h0M434.7 222.8h0M431.0 220.4h0M423.0 222.5h0M441.6 224.3h0M418.2 233.1h0M405.1 234.8h0M408.7 234.3h0M414.9 226.5h0M434.4 225.9h0M435.2 230.4h0M421.3 227.3h0M419.2 227.5h0M417.9 232.0h0M416.1 234.1h0M429.7 226.9h0M434.4 229.6h0M418.2 234.5h0M427.1 227.7h0M425.6 224.7h0M430.5 227.8h0M436.1 224.7h0M402.2 236.7h0M435.8 228.0h0M416.3 226.9h0M414.3 231.7h0M415.7 231.2h0M412.3 233.1h0M408.0 233.7h0M418.5 232.1h0M425.2 228.9h0M408.6 234.4h0M422.9 230.9h0M435.4 228.9h0M411.7 236.6h0M442.6 223.2h0M419.3 228.2h0M421.9 236.4h0M406.0 233.0h0M415.2 232.9h0M403.0 233.8h0M405.4 234.6h0M425.2 237.1h0M431.7 224.6h0M442.6 222.1h0M433.5 227.0h0M416.6 234.3h0M421.0 232.0h0M422.3 225.6h0M431.1 228.1h0M416.2 233.2h0M428.0 229.4h0M428.2 220.9h0M417.0 231.6h0M417.6 232.0h0M411.5 233.0h0M422.0 228.5h0M437.5 222.7h0M410.6 235.4h0M434.8 218.8h0M401.9 232.2h0M403.2 232.4h0M409.2 237.0h0M404.4 226.4h0M422.5 224.9h0M424.5 228.9h0M405.2 233.9h0M442.7 223.0h0M413.7 232.5h0M420.8 230.5h0M416.0 230.2h0M409.4 235.8h0M424.7 229.1h0M405.6 232.8h0M422.0 234.0h0M405.2 232.2h0M419.1 229.7h0M429.7 230.5h0M409.7 233.2h0M435.4 220.9h0M427.7 234.0h0M406.3 230.1h0M424.7 228.8h0M432.3 227.0h0M422.5 229.3h0M426.2 225.9h0M410.4 234.3h0M408.5 230.3h0M414.1 231.8h0M417.9 231.2h0M429.5 229.0h0M406.6 236.9h0M420.0 228.5h0M424.5 228.2h0M413.6 232.4h0M437.7 219.1h0M436.9 226.4h0M409.5 233.3h0M421.8 229.9h0M427.3 227.7h0M411.7 235.0h0M427.5 228.8h0M405.9 234.3h0M420.8 231.4h0M435.8 220.6h0M436.1 222.3h0M420.2 237.8h0M413.4 232.1h0M429.2 227.8h0M414.0 236.1h0M442.5 218.7h0M421.6 222.7h0M405.2 234.3h0M404.8 233.7h0M430.5 229.3h0M439.3 225.2h0M406.0 233.1h0M430.0 225.3h0M413.8 232.9h0M429.9 228.4h0M414.1 229.7h0M420.4 229.2h0M401.5 236.8h0M426.3 229.0h0M422.2 224.3h0M416.9 228.2h0M402.5 235.1h0M436.4 227.1h0M413.9 232.0h0M434.1 227.7h0M411.5 231.8h0M430.7 226.4h0M440.2 223.4h0M403.6 234.8h0M423.9 226.4h0M411.6 228.8h0M433.8 225.0h0M426.6 224.2h0M436.2 225.6h0M414.2 234.9h0M422.8 221.8h0M440.7 226.8h0M431.3 226.2h0M428.1 224.5h0M428.6 220.8h0M419.9 235.2h0M401.6 234.7h0M441.8 219.1h0M415.3 234.2h0M408.7 232.5h0M417.4 232.3h0M418.6 236.3h0M419.8 232.1h0M405.0 232.3h0M415.4 230.7h0M421.1 227.1h0M418.9 226.2h0M420.6 223.7h0M418.9 219.5h0M414.3 234.8h0M438.0 225.9h0M423.0 231.1h0M432.7 224.3h0M438.2 222.7h0M428.1 221.1h0M407.2 223.0h0M401.8 235.5h0M411.7 231.1h0M412.5 230.8h0M411.9 226.9h0M413.2 230.2h0M431.2 228.4h0M410.4 228.0h0M421.0 228.0h0M415.3 233.0h0M401.7 232.8h0M424.0 231.0h0M429.7 229.4h0" stroke="#888" stroke-width="0.80" stroke-linecap="round" opacity="0.45"/>
<path d="M421.5 227.2h0M433.6 225.0h0M432.1 228.0h0M441.5 223.5h0M414.1 230.7h0M428.5 226.6h0M414.3 226.3h0M411.1 231.2h0M420.2 232.2h0M428.3 224.5h0M409.4 235.5h0M428.9 227.9h0M418.1 229.1h0M406.8 233.2h0M429.2 228.7h0M413.0 233.8h0M421.4 230.0h0M419.6 231.8h0M425.5 228.4h0M431.3 224.5h0M410.4 229.8h0M408.2 232.1h0M436.3 227.5h0M430.3 228.8h0M436.5 227.6h0M410.3 228.7h0M424.4 229.6h0M413.8 233.2h0M434.5 223.1h0M439.0 216.0h0M416.9 229.6h0M423.0 229.8h0M420.8 227.7h0M430.5 223.7h0M433.4 228.0h0M405.7 231.4h0M420.8 231.5h0M423.6 232.0h0M423.9 232.4h0M421.3 231.6h0M441.7 223.1h0M431.5 217.0h0M407.3 233.9h0M423.3 230.3h0M423.5 226.3h0M409.5 233.2h0M401.5 234.3h0M429.7 231.6h0M416.9 231.3h0M439.6 224.0h0M415.2 234.3h0M432.5 226.5h0M437.3 227.4h0M417.3 230.3h0M406.1 234.0h0M440.3 216.4h0M426.8 230.2h0M427.8 223.8h0M423.6 225.3h0M425.8 223.3h0M432.0 226.1h0M415.0 231.8h0M434.9 224.1h0M431.7 228.6h0M408.3 232.6h0M441.4 224.3h0M436.7 226.0h0M407.2 231.9h0M438.2 225.6h0M408.1 236.2h0M417.0 231.0h0M417.2 231.4h0M416.0 233.1h0M421.7 233.2h0M431.5 223.4h0M428.8 228.6h0M438.0 225.9h0M415.3 229.2h0M434.2 226.2h0M417.4 231.7h0M431.2 226.4h0M432.2 230.0h0M423.4 223.6h0M436.6 228.2h0M442.9 225.7h0M427.9 223.8h0M410.2 233.7h0M408.6 231.4h0M437.9 225.6h0M430.3 226.2h0M416.7 230.5h0M421.2 231.7h0M420.3 229.7h0M423.1 222.0h0M424.0 227.7h0M430.6 228.2h0M406.2 230.6h0M436.0 223.6h0M419.7 231.3h0M423.6 229.4h0M423.6 226.0h0M413.8 224.9h0M417.8 229.2h0M412.6 230.7h0M415.4 229.6h0M415.4 232.9h0M427.9 228.0h0M400.7 233.7h0M416.7 232.0h0M440.4 220.6h0M410.6 232.7h0M429.6 229.0h0M439.1 215.1h0M407.0 234.0h0M436.5 218.1h0M438.7 220.6h0M437.7 224.3h0M437.2 222.3h0M432.2 229.6h0M431.0 228.4h0M402.7 234.6h0M410.1 231.2h0M426.0 231.8h0M405.5 233.0h0M422.1 229.9h0M412.2 227.7h0M440.8 225.3h0M424.8 227.4h0M405.1 235.2h0M414.9 236.3h0M412.5 233.7h0M419.2 234.0h0M407.2 233.7h0M438.5 218.9h0M419.4 220.9h0M444.0 223.5h0M413.6 232.8h0M437.3 221.7h0M435.9 227.6h0M404.4 233.3h0M411.1 231.4h0M413.7 230.7h0M433.4 227.7h0M408.8 232.0h0M409.3 231.9h0M437.1 227.5h0M439.8 223.7h0M436.3 224.9h0M434.6 228.3h0M405.5 231.9h0M440.3 223.8h0M404.4 235.0h0M405.7 232.9h0M421.7 230.6h0M425.1 231.3h0M410.0 226.9h0M415.7 232.9h0M422.6 225.4h0M404.9 232.1h0M419.6 231.3h0M429.0 223.1h0M412.2 233.5h0M441.0 217.1h0M431.8 224.0h0M427.7 229.2h0M422.8 231.0h0M421.8 224.9h0M439.5 226.5h0M417.7 229.2h0M417.9 228.6h0M419.3 233.7h0M427.8 223.1h0M404.9 236.0h0M442.6 224.7h0M406.8 234.6h0M412.1 234.0h0M429.1 226.2h0M416.2 228.6h0M416.7 224.9h0M410.2 234.5h0M411.5 231.6h0M421.5 229.1h0M433.3 219.6h0M416.9 233.8h0M410.4 232.6h0M434.8 221.2h0M412.8 224.0h0M427.2 227.7h0M432.2 229.0h0M416.5 230.9h0M428.4 224.2h0M420.2 227.2h0M431.7 227.2h0M427.6 219.1h0M403.9 236.4h0M434.4 227.5h0M439.9 226.3h0M414.2 231.8h0M443.9 221.8h0M419.5 233.4h0M416.0 231.7h0M424.4 229.5h0M410.3 233.1h0M410.8 230.0h0M424.4 226.5h0M415.3 233.2h0M414.8 232.6h0M434.5 228.8h0M405.6 234.0h0M436.3 226.5h0M443.6 222.6h0M427.3 215.1h0M432.0 224.0h0M411.9 232.6h0M408.1 229.9h0M433.0 227.4h0M413.1 226.9h0M420.3 229.9h0M401.5 236.3h0M420.9 224.5h0M408.4 232.0h0M415.6 231.8h0M426.5 229.0h0M429.3 212.5h0M416.3 231.0h0M426.4 229.1h0M408.3 223.3h0M421.8 229.3h0M422.0 222.8h0M422.6 227.3h0M417.0 231.3h0M430.9 230.6h0M424.2 230.3h0M420.0 227.2h0M410.7 211.7h0M435.8 224.9h0M420.4 232.5h0M407.9 234.7h0M422.6 223.9h0M430.5 228.9h0M428.0 225.3h0M416.8 228.5h0M442.3 225.2h0M418.6 231.3h0M415.7 231.5h0M431.1 225.8h0M416.3 232.3h0M416.1 225.5h0M428.4 227.9h0M437.9 226.4h0M419.2 231.7h0M430.8 229.5h0M431.3 228.0h0M440.7 223.2h0M443.9 222.6h0M421.6 230.1h0M442.4 222.1h0M422.4 231.8h0M421.8 231.0h0M414.6 226.3h0M435.8 223.8h0M427.8 227.6h0M418.9 231.5h0M412.9 232.6h0M430.8 230.7h0M423.3 225.7h0M431.8 222.6h0M416.2 232.7h0M437.8 219.5h0M425.7 226.1h0M408.0 231.7h0M435.8 227.2h0M431.2 222.9h0M427.3 230.3h0M432.3 227.1h0M422.1 231.6h0M441.3 224.8h0M438.5 225.2h0M411.8 231.9h0M425.7 225.5h0M432.2 226.8h0M427.3 228.0h0M410.3 233.4h0M426.7 229.0h0M409.5 234.5h0M415.5 232.6h0M411.2 233.8h0M423.9 226.9h0M416.3 233.9h0M439.3 227.3h0M418.4 234.3h0M418.9 229.8h0M429.4 229.8h0M422.4 229.5h0M411.9 231.9h0M444.6 223.0h0M418.7 228.2h0M412.8 230.5h0M417.7 231.0h0M422.0 227.9h0M427.7 225.5h0M404.8 234.3h0M418.6 231.9h0M413.4 230.4h0M430.0 226.4h0M409.3 233.6h0M414.6 225.5h0M415.6 231.8h0M443.7 221.6h0M430.0 229.7h0M417.6 227.7h0M403.8 235.1h0M428.6 226.0h0M433.4 228.4h0M423.1 230.9h0M411.7 231.4h0M435.8 227.8h0M408.9 230.0h0M408.2 234.7h0M429.7 229.1h0M412.0 231.1h0M439.1 227.7h0M416.7 227.9h0M434.3 226.5h0M405.7 234.7h0M411.8 232.0h0M440.3 223.7h0M444.3 224.5h0M415.4 218.2h0M420.4 208.9h0M442.3 225.1h0M429.3 215.3h0M424.6 221.9h0M429.0 227.8h0M424.8 227.5h0M442.3 224.7h0M443.1 223.6h0M420.8 228.7h0M425.8 231.6h0M424.1 206.6h0M423.6 229.7h0M415.5 232.5h0M439.2 225.4h0M429.4 229.5h0M428.5 226.9h0M429.7 230.0h0M403.7 233.5h0M419.6 231.7h0M407.0 230.9h0M417.6 229.4h0M419.5 228.7h0M422.1 230.2h0M435.8 215.3h0M433.6 227.8h0M408.5 234.3h0M409.4 230.7h0M413.0 231.0h0M420.0 221.0h0M409.3 234.3h0M402.5 236.2h0M413.8 232.5h0M421.9 222.2h0M403.6 235.3h0M414.2 234.3h0M432.6 222.0h0M426.1 231.8h0M430.6 227.9h0M433.6 222.6h0M423.6 231.2h0M418.5 229.9h0M417.3 232.1h0M410.8 231.8h0M432.6 226.0h0M422.2 232.1h0M417.2 218.6h0M432.6 224.9h0M407.3 235.8h0M427.0 227.9h0M443.3 219.6h0M422.3 231.2h0M424.2 231.0h0M424.7 229.1h0M439.6 225.3h0M419.4 232.0h0M428.6 229.2h0M406.1 232.1h0M404.5 234.3h0M420.2 229.6h0M429.0 225.6h0M433.6 226.5h0M438.3 221.2h0M419.8 231.6h0M413.6 227.2h0M417.1 228.1h0M403.1 234.0h0M443.5 224.4h0M443.6 222.4h0M401.8 234.5h0M410.2 234.8h0M438.6 219.5h0M421.9 229.8h0M401.9 235.1h0M415.5 231.3h0M431.0 228.2h0M439.5 225.6h0M425.0 225.9h0M418.6 224.9h0M431.8 228.4h0M419.0 212.0h0M426.1 228.2h0M436.2 224.2h0M416.0 232.5h0M430.1 209.9h0M416.0 227.9h0M419.4 231.6h0M438.4 224.8h0M434.8 228.0h0M409.5 230.2h0M436.5 224.0h0M418.2 217.9h0M432.8 216.6h0M410.5 235.2h0M403.5 234.8h0M417.2 224.0h0M414.1 233.2h0M426.3 229.5h0M429.7 230.2h0M430.1 229.2h0M413.5 230.8h0M405.2 230.1h0M413.0 214.6h0M419.3 233.3h0M425.4 220.4h0M434.4 227.7h0M415.4 231.4h0M411.7 234.2h0M437.8 224.4h0M402.9 235.4h0M414.8 219.7h0M441.2 221.4h0M414.0 235.1h0M440.9 222.0h0M433.6 221.5h0M422.3 228.6h0M439.3 228.9h0M443.4 226.0h0M428.2 229.7h0M419.0 231.4h0M425.4 228.9h0M435.3 225.6h0M423.9 230.7h0M437.0 226.8h0M426.4 228.8h0M427.8 231.4h0M443.0 219.6h0M411.2 225.6h0M408.8 231.8h0M432.2 220.6h0M407.1 232.9h0M422.8 228.8h0M438.5 224.6h0M429.2 218.7h0M431.4 230.6h0M431.5 227.3h0M422.0 227.2h0M438.7 225.1h0M435.2 229.5h0M440.3 226.4h0M430.5 220.4h0M422.6 227.9h0M435.3 223.3h0M445.0 225.7h0M420.8 232.5h0M431.4 227.1h0M427.6 231.4h0M444.3 223.5h0M426.9 227.5h0M417.8 226.7h0M430.5 227.7h0M411.2 234.3h0M422.2 231.1h0M415.1 225.8h0M420.7 220.2h0M409.8 231.2h0M423.1 230.7h0M435.4 228.4h0M422.3 231.0h0M433.0 227.2h0M412.6 233.8h0M421.0 230.3h0M427.7 229.5h0M423.5 231.1h0M410.2 234.2h0M424.1 229.6h0M408.4 234.6h0M408.7 225.4h0M408.7 224.3h0M432.0 225.4h0M433.6 225.2h0M421.1 218.3h0M417.6 227.3h0M415.3 222.0h0M415.3 233.7h0M415.6 225.6h0M414.5 233.8h0M428.3 224.0h0M424.2 230.4h0M404.0 234.0h0M442.4 224.4h0M427.1 225.2h0M402.1 234.9h0M424.4 228.9h0M414.5 234.6h0M440.3 225.4h0M414.3 232.1h0M419.5 232.8h0M442.1 225.6h0M417.9 230.9h0M414.9 231.1h0M433.6 227.5h0M423.6 229.1h0M418.3 229.0h0M443.1 221.3h0M422.9 228.8h0M422.5 226.8h0M413.6 232.8h0M432.4 222.4h0M427.7 225.4h0M424.3 226.7h0M418.7 220.4h0M421.8 233.1h0M431.3 227.8h0M429.1 224.7h0M428.0 228.5h0M426.8 231.8h0M436.7 220.3h0M435.9 228.2h0M431.4 229.0h0M428.9 225.6h0M405.8 234.9h0M420.0 230.1h0M416.6 220.8h0M433.0 225.4h0M418.4 228.2h0M437.3 226.5h0M422.3 229.8h0M404.3 235.5h0M442.8 221.3h0M442.7 224.1h0M437.3 225.0h0M443.1 222.2h0M420.5 225.0h0M426.3 228.4h0M412.1 235.0h0M417.3 231.8h0M425.3 226.9h0M432.8 225.4h0M419.0 224.7h0M444.7 223.2h0M429.6 229.4h0M408.8 218.4h0M408.8 233.3h0M413.6 233.4h0M416.4 233.5h0M416.0 232.7h0M409.9 233.7h0M423.5 232.9h0M413.5 233.9h0M439.7 225.1h0M420.1 229.4h0M418.0 232.0h0M403.1 229.5h0M441.5 217.8h0M411.5 230.3h0M433.6 227.9h0M427.5 219.4h0M426.5 226.9h0M430.9 229.7h0M429.9 228.8h0M429.2 228.5h0M422.1 220.9h0M430.6 227.7h0M406.1 234.7h0M428.5 226.8h0M421.8 231.2h0M417.0 228.8h0M419.6 232.3h0M432.6 213.9h0M430.0 229.6h0M417.6 232.3h0M415.2 232.3h0M436.2 226.1h0M420.5 226.9h0M418.9 229.8h0M413.1 232.8h0M437.7 218.2h0M417.5 232.0h0M419.4 233.4h0M416.2 227.4h0M434.6 227.4h0M418.5 230.6h0M408.6 232.2h0M424.4 229.0h0M436.4 217.3h0M425.6 229.0h0M431.3 223.7h0M416.6 228.8h0M423.5 208.8h0M430.3 231.1h0M409.1 232.8h0M414.3 231.2h0M406.2 231.2h0M440.9 219.2h0M419.6 228.6h0M433.9 223.2h0M402.6 236.8h0M437.9 223.5h0M427.7 231.3h0M402.3 235.3h0M425.1 206.2h0M413.5 233.1h0M406.8 234.3h0M419.9 222.2h0M420.6 232.8h0M411.8 231.8h0M443.2 219.4h0M432.8 229.0h0M438.3 226.0h0M425.1 222.0h0M403.2 230.5h0M404.7 233.7h0M419.4 228.2h0M422.9 214.6h0M410.1 220.7h0M414.9 230.0h0M416.9 231.2h0M443.2 225.0h0M411.0 233.7h0M417.4 224.1h0M410.6 233.1h0M423.3 232.7h0M438.7 224.8h0M439.9 224.8h0M438.5 224.6h0M435.6 220.7h0M418.5 230.1h0M443.7 221.6h0M408.0 230.8h0M424.9 225.9h0M413.9 234.9h0M422.6 226.6h0M437.9 218.8h0M443.5 222.1h0M421.9 226.4h0M413.9 233.2h0M436.9 224.9h0M407.5 233.5h0M423.5 228.9h0M435.1 225.8h0M419.2 230.2h0M409.8 234.3h0M419.9 216.3h0M434.6 228.1h0M421.2 231.0h0M444.8 223.2h0M432.3 225.4h0M429.6 225.0h0M435.2 223.4h0M437.0 226.0h0M437.9 227.8h0M404.8 233.5h0M410.8 232.9h0M422.6 230.8h0M420.7 230.2h0M426.5 226.6h0M427.3 229.1h0M409.1 232.9h0M424.9 229.9h0M430.7 226.5h0M410.0 232.0h0M430.4 217.7h0M411.4 233.5h0M440.9 223.8h0M428.3 228.3h0M430.8 227.6h0M417.9 229.1h0M408.9 213.7h0M443.6 223.9h0M418.4 231.0h0M417.7 231.9h0M413.2 232.1h0M438.7 225.3h0M414.2 234.6h0M414.5 233.0h0M440.5 223.5h0M413.9 230.9h0M437.5 223.2h0M437.1 224.3h0M440.3 224.2h0M427.7 224.7h0M439.0 219.1h0M420.8 231.7h0M403.2 234.2h0M417.0 215.3h0M427.5 230.5h0M424.4 231.3h0M431.8 228.7h0M428.7 221.6h0M424.2 230.7h0M404.0 234.2h0M417.4 233.7h0M407.3 233.5h0M405.8 233.4h0M434.5 227.2h0M415.1 228.9h0M407.2 234.5h0M424.5 227.4h0M425.7 231.2h0M415.1 234.0h0M427.4 228.7h0M419.6 230.2h0M431.6 224.9h0M439.0 218.6h0M408.4 233.5h0M425.4 214.7h0M429.6 225.0h0M437.7 225.0h0M414.8 229.7h0M423.9 230.7h0M421.8 231.5h0M436.1 227.4h0M427.1 229.9h0M430.7 220.8h0M428.5 226.8h0M434.9 228.4h0M422.6 222.6h0M425.4 228.1h0M424.8 231.6h0M410.5 225.9h0M441.6 224.6h0M409.6 230.3h0M422.5 231.5h0M415.0 233.4h0M404.1 228.1h0M435.2 221.6h0M418.8 229.8h0M424.8 228.9h0M414.9 233.9h0M433.4 225.9h0M421.6 230.7h0M437.6 220.4h0M428.1 214.7h0M429.5 228.6h0M429.7 229.1h0M420.6 224.3h0M415.9 232.7h0M428.7 227.3h0M421.3 225.9h0M426.6 226.3h0M425.9 229.7h0M415.2 222.7h0M421.4 230.6h0M410.2 232.1h0M420.9 214.9h0M419.8 225.8h0M401.3 235.3h0M424.5 230.0h0M418.3 226.2h0M421.9 223.5h0M416.1 222.4h0M407.6 236.4h0M406.6 234.7h0M440.5 225.5h0M427.4 229.1h0M438.5 227.2h0M416.5 228.6h0M423.6 225.8h0M405.1 234.1h0M411.7 232.2h0M432.1 225.1h0M434.3 228.2h0M437.6 221.1h0M425.7 225.5h0M431.9 227.7h0M440.1 227.2h0M418.3 232.3h0M412.1 233.4h0M429.4 229.0h0M430.8 229.6h0M413.3 230.8h0M415.0 228.3h0M433.8 228.6h0M424.7 226.9h0M440.1 224.2h0M436.0 220.4h0M433.2 221.1h0M440.0 227.2h0M427.3 220.7h0M411.4 231.7h0M403.9 232.7h0M433.4 219.2h0M419.8 231.8h0M403.8 233.0h0M439.9 222.7h0M424.7 224.2h0M421.9 213.7h0M439.3 224.7h0M407.8 234.0h0M436.3 226.9h0M425.5 223.3h0M420.4 229.1h0M420.6 222.2h0M428.9 230.0h0M434.9 221.0h0M418.8 229.8h0M441.0 224.0h0M435.1 220.0h0M427.8 224.0h0M442.3 225.2h0M428.7 229.8h0M421.9 231.1h0M401.2 235.2h0M443.2 224.7h0M439.2 219.0h0M418.7 222.7h0M412.2 226.8h0M421.4 225.8h0M415.2 221.6h0M413.9 226.5h0M409.3 230.0h0M442.7 221.4h0M413.5 230.0h0M430.8 224.2h0M421.7 220.8h0M433.0 226.9h0M425.4 228.7h0M437.0 226.9h0M412.7 233.7h0M424.6 229.1h0M417.4 226.5h0M433.5 226.7h0M431.7 228.7h0M431.3 226.8h0M422.5 231.5h0M425.5 228.9h0M423.4 228.3h0M413.5 226.4h0M422.8 222.6h0M438.0 225.3h0M437.4 226.5h0M404.2 234.8h0M435.6 228.7h0M421.5 230.1h0M431.3 228.8h0M421.5 230.8h0M412.6 232.6h0M437.2 208.8h0M429.0 218.7h0M406.9 226.7h0M430.7 228.7h0M405.4 233.5h0M420.2 231.3h0M432.6 227.1h0M437.3 227.7h0M440.6 223.5h0M422.3 226.7h0M418.2 219.6h0M425.8 229.2h0M427.7 228.9h0M437.9 225.9h0M436.2 221.2h0M405.2 233.0h0M424.0 212.6h0M419.1 231.3h0M433.9 222.1h0M410.4 235.1h0M442.0 217.0h0M408.3 232.6h0M432.5 221.6h0M425.0 231.7h0M422.6 227.7h0M419.0 227.5h0M420.7 231.4h0M427.8 232.0h0M441.4 225.6h0M417.1 232.5h0M418.4 229.3h0M430.2 207.9h0M415.3 232.8h0M404.7 235.9h0M434.3 219.9h0M422.5 225.9h0M413.0 232.2h0M423.1 223.8h0M420.1 231.4h0M427.2 229.8h0M439.4 221.5h0M415.2 234.0h0M434.4 214.8h0M414.9 229.5h0M424.1 217.8h0M428.1 230.5h0M432.9 226.5h0M427.6 224.3h0M410.4 229.0h0M415.2 233.3h0M420.4 228.8h0M431.5 223.6h0M405.4 232.8h0M411.3 225.2h0M423.8 229.6h0M427.0 227.2h0M428.6 222.7h0M430.3 224.6h0M412.0 235.8h0M426.4 208.9h0M411.0 233.4h0M417.4 227.4h0M409.4 215.1h0M409.0 232.0h0M412.9 228.4h0M403.6 233.3h0M439.7 218.7h0M415.9 222.2h0M443.6 225.2h0M418.6 231.8h0M442.3 224.1h0M412.4 232.0h0M419.5 230.6h0M425.1 232.2h0M407.3 228.8h0M430.7 226.0h0M421.8 226.4h0M423.8 230.9h0M436.1 224.4h0M441.8 222.2h0M416.4 229.1h0M437.0 225.7h0M431.1 228.7h0M429.1 227.2h0M433.8 223.2h0M431.2 219.4h0M410.6 233.4h0M436.7 220.3h0M421.3 228.7h0M442.8 226.2h0M444.6 224.2h0M406.3 235.4h0M422.1 228.0h0M431.1 226.3h0M425.5 224.5h0M412.0 232.6h0M423.8 227.4h0M421.3 232.1h0M411.9 231.0h0M410.5 231.0h0M401.6 228.3h0M427.9 219.9h0M432.3 225.4h0M428.8 217.9h0M438.1 220.9h0M401.8 233.5h0M436.9 227.5h0M417.5 232.6h0M415.0 232.7h0M439.1 222.8h0M428.8 221.3h0M433.3 227.3h0M420.1 233.0h0M435.3 225.9h0M403.5 235.6h0M410.8 234.5h0M413.4 231.6h0M439.0 222.2h0M426.7 230.0h0M423.9 231.3h0M408.1 234.9h0M438.1 228.7h0M429.4 218.6h0M417.4 221.5h0M407.5 234.6h0M440.7 225.3h0M419.1 231.2h0M424.1 233.2h0M428.4 227.5h0M430.7 225.0h0M433.6 228.5h0M416.0 229.5h0M419.3 226.1h0M405.7 229.2h0M424.0 231.3h0M436.7 225.7h0M407.8 232.4h0M421.9 232.4h0M403.7 224.5h0M409.1 227.2h0M429.6 228.4h0M427.8 227.7h0M414.4 231.7h0M413.9 229.1h0M435.5 225.5h0M423.7 228.5h0M426.5 230.8h0M437.7 223.0h0M434.7 227.7h0M402.0 235.6h0M422.9 226.1h0M411.7 210.1h0M424.2 229.0h0M406.9 227.1h0M418.4 230.6h0M407.2 234.1h0M439.1 224.8h0M420.1 231.3h0M431.5 228.4h0M421.0 225.4h0M431.6 221.3h0M414.0 233.9h0M435.9 224.1h0M410.7 218.0h0M422.3 225.8h0M421.9 221.8h0M411.1 235.0h0M421.6 227.8h0M431.1 227.2h0M415.7 227.1h0M414.3 227.9h0M432.9 226.1h0M404.3 230.7h0M421.8 223.2h0M442.9 223.3h0M425.5 225.9h0M429.5 224.1h0M422.1 230.8h0M436.0 224.2h0M429.1 217.5h0M413.5 234.5h0M420.2 227.6h0M427.9 226.7h0M405.7 233.7h0M417.3 231.5h0M437.0 216.9h0M438.5 221.8h0M414.0 232.1h0M430.8 228.9h0M436.3 223.9h0M421.2 230.3h0M442.4 223.5h0M424.4 232.3h0M413.5 228.5h0M418.3 223.9h0M417.1 231.5h0M422.9 228.2h0M443.0 223.8h0M421.7 228.1h0M434.1 219.9h0M405.9 232.6h0M409.7 232.9h0M412.2 231.6h0M430.9 221.2h0M433.5 223.8h0M430.4 226.0h0M425.1 222.1h0M425.9 230.1h0M402.8 235.7h0M405.6 234.3h0M417.7 230.7h0M431.3 224.7h0M423.0 228.5h0M433.7 218.7h0M424.5 229.0h0M404.9 233.0h0M404.6 233.9h0M422.0 225.9h0M429.9 229.1h0M423.0 231.2h0M438.2 223.3h0M435.4 226.5h0M436.0 224.3h0M401.6 234.9h0M441.9 223.1h0M440.9 226.3h0M422.3 224.9h0M432.9 227.2h0M422.8 229.6h0M423.7 221.3h0M434.7 224.3h0M414.1 215.1h0M438.3 222.4h0M434.2 218.5h0M413.1 229.4h0M404.9 236.0h0M414.2 222.9h0M410.6 229.1h0M411.1 234.6h0M405.6 233.6h0M416.4 231.1h0M405.4 232.2h0M419.2 233.4h0M443.7 223.6h0M410.2 228.4h0M441.2 224.9h0M407.4 231.0h0M438.3 222.0h0M418.7 230.6h0M435.9 227.2h0M405.3 233.9h0M432.6 227.4h0M414.5 229.9h0M432.2 220.7h0M401.7 235.2h0M419.2 230.1h0M417.8 213.5h0M412.6 231.7h0M430.6 227.5h0M414.4 231.5h0M420.6 232.5h0M418.5 225.5h0M415.8 226.6h0M411.1 234.2h0M432.4 224.6h0M421.4 231.6h0M433.1 215.3h0M439.0 224.0h0M409.3 235.7h0M432.0 222.2h0M417.8 231.9h0M413.2 233.5h0M431.2 226.6h0M440.3 224.0h0M416.5 230.7h0M440.4 216.6h0M432.1 222.5h0M439.3 226.3h0M410.4 219.9h0M444.8 225.1h0M405.3 235.1h0M434.3 228.3h0M425.5 231.9h0M419.6 230.2h0M412.3 232.3h0M436.8 222.5h0M430.4 220.5h0M434.7 217.8h0M444.4 223.3h0M427.4 230.8h0M436.9 226.5h0M422.3 221.3h0M433.8 228.6h0M424.5 222.7h0M424.3 230.9h0M416.7 233.2h0M435.8 224.6h0M441.9 221.9h0M422.8 211.5h0M410.2 229.7h0M424.5 219.3h0M414.6 231.9h0M444.5 224.0h0M441.1 224.1h0M416.9 228.8h0M414.7 233.5h0M430.2 230.7h0M409.1 223.3h0M432.2 221.0h0M414.0 222.8h0M421.8 208.5h0M425.4 228.0h0M417.0 231.7h0M409.2 228.9h0M428.7 229.3h0M421.6 224.8h0M437.5 227.0h0M435.1 224.6h0M423.8 230.5h0M439.4 225.5h0M414.0 229.3h0M433.9 225.2h0M429.6 226.4h0M414.0 234.0h0M404.7 235.7h0M403.3 235.3h0M427.5 224.2h0M418.6 231.1h0M417.6 233.1h0M421.2 232.2h0M435.9 226.9h0M435.6 226.2h0M424.9 231.3h0M435.4 228.7h0M415.9 229.3h0M432.5 228.2h0M410.7 234.6h0M432.1 226.0h0M416.4 230.4h0M426.5 221.9h0M406.3 234.8h0M415.3 232.8h0M412.6 230.6h0M420.4 211.8h0M412.3 216.6h0M423.0 225.9h0M440.1 218.4h0M409.4 234.4h0M431.2 229.3h0M421.1 228.8h0M443.1 224.0h0M407.1 232.2h0M430.2 224.0h0M419.9 232.1h0M408.5 228.5h0M411.9 234.7h0M432.8 227.6h0M437.7 227.3h0M426.5 228.8h0M412.3 231.9h0M411.3 229.4h0M442.3 222.3h0M429.0 216.4h0M427.7 229.8h0M412.3 232.8h0M432.9 223.2h0M413.2 233.4h0M428.5 215.2h0M442.5 225.4h0M432.8 227.3h0M439.2 221.9h0M414.4 231.8h0M421.5 231.5h0M442.1 224.4h0M423.0 228.6h0M414.5 233.6h0M411.2 233.4h0M416.7 220.1h0M406.1 234.4h0M428.6 223.1h0M418.7 229.3h0M438.6 226.0h0M413.1 232.1h0M421.0 231.1h0M410.2 234.3h0M431.5 227.0h0M411.6 234.8h0M438.4 224.4h0M428.5 229.3h0M412.6 232.5h0M435.9 223.5h0M407.5 231.7h0M436.9 227.7h0M412.4 231.2h0M402.6 234.4h0M420.5 227.6h0M411.0 228.1h0M413.6 236.1h0M439.0 218.3h0M423.1 229.1h0M437.8 226.3h0M439.9 223.5h0M405.9 234.7h0M422.0 226.8h0M419.0 229.9h0M431.7 228.9h0M410.6 233.8h0M437.3 226.3h0M435.6 225.9h0M414.9 232.6h0M417.9 231.3h0M417.6 232.3h0M420.4 229.1h0M434.6 221.5h0M420.4 230.5h0M428.6 227.7h0M420.7 230.7h0M431.2 230.3h0M426.5 229.6h0M412.3 233.0h0M428.5 222.9h0M428.7 228.5h0M429.2 227.0h0M428.4 228.9h0M425.7 224.3h0M430.3 227.2h0M438.1 223.6h0M420.2 228.1h0M414.0 232.7h0M430.5 224.7h0M425.6 215.4h0M436.9 222.6h0M402.9 235.1h0M427.1 227.4h0M405.3 234.7h0M407.9 227.3h0M413.6 232.7h0M425.2 225.8h0M441.2 217.0h0M438.0 223.3h0M417.4 232.7h0M419.4 226.0h0M425.9 231.2h0M422.4 231.0h0M430.3 229.1h0M418.5 230.2h0M403.8 233.6h0M406.7 233.8h0M427.6 229.0h0M426.6 221.3h0M422.3 229.9h0M416.4 231.8h0M435.6 227.0h0M422.8 230.6h0M431.4 228.0h0M426.6 228.3h0M429.6 228.0h0M418.2 231.9h0M423.9 227.3h0M411.6 231.0h0M432.3 224.2h0M420.8 226.0h0M408.5 234.8h0M423.4 231.3h0M431.4 221.6h0M432.7 227.7h0M422.2 224.1h0M436.0 227.6h0M430.6 220.3h0M436.0 222.9h0M424.4 232.0h0M415.0 232.8h0M410.4 233.7h0M417.1 232.4h0M410.7 230.0h0M430.7 225.8h0M407.7 233.1h0M442.8 222.6h0M437.0 222.9h0M429.8 225.4h0M419.4 231.4h0M431.9 229.9h0M427.8 224.6h0M419.2 230.4h0M422.0 228.9h0M421.9 232.2h0M436.0 221.2h0M429.3 225.3h0M408.2 230.1h0M419.0 231.3h0M437.6 223.0h0M402.1 235.9h0M402.0 235.6h0M427.4 228.2h0M440.6 224.1h0M416.2 231.9h0M406.3 225.4h0M422.8 230.5h0M426.7 228.1h0M436.9 225.1h0M406.4 233.5h0M441.7 225.6h0M432.2 225.9h0M415.0 233.7h0M425.5 230.1h0M407.6 235.7h0M419.2 231.7h0M435.8 221.7h0M426.5 220.6h0M422.2 216.5h0M412.0 232.9h0M427.4 215.7h0M435.2 225.9h0M408.0 232.3h0M416.0 234.7h0M436.7 214.4h0M418.4 223.3h0M442.7 222.8h0M424.7 229.4h0M440.9 225.0h0M421.1 230.3h0M427.9 217.5h0M412.6 215.1h0M417.0 228.7h0M426.9 229.6h0M430.1 217.8h0M429.3 230.4h0M415.6 232.1h0M435.4 215.8h0M411.1 233.1h0M427.3 224.1h0M434.6 217.7h0M408.4 233.3h0M436.2 220.1h0M428.9 228.3h0M418.9 223.3h0M407.2 230.6h0M410.1 233.7h0M442.1 219.4h0M429.6 214.5h0M432.4 225.7h0M410.9 229.1h0M418.9 232.5h0M415.4 230.4h0M428.4 230.2h0M437.5 221.4h0M422.4 226.0h0M416.0 232.2h0M438.9 227.6h0M435.6 226.8h0M427.0 230.9h0M419.3 231.8h0M409.0 233.8h0M403.7 234.6h0M432.9 228.5h0M422.1 232.8h0M443.3 223.8h0M410.3 233.8h0M433.7 221.3h0M434.6 228.4h0M412.4 227.0h0M436.2 220.3h0M406.8 234.7h0M436.5 227.2h0M408.1 233.3h0M422.1 219.9h0M438.7 225.6h0M432.6 229.3h0M423.2 230.9h0M442.4 222.4h0M415.2 232.3h0M409.2 233.5h0M423.4 231.8h0M443.4 220.9h0M444.4 223.8h0M421.0 232.0h0M422.1 222.8h0M430.2 228.7h0M413.1 226.5h0M415.6 233.6h0M434.8 223.6h0M417.3 230.8h0M418.1 233.5h0M427.1 228.8h0M418.5 226.0h0M437.0 225.9h0M422.3 222.2h0M435.6 228.5h0M403.6 236.3h0M410.7 230.3h0M423.9 228.6h0M432.5 225.0h0M414.8 232.2h0M406.6 231.2h0M431.2 227.5h0M401.5 235.7h0M439.3 226.9h0M414.2 231.6h0M401.5 237.9h0M406.9 230.7h0M404.9 234.4h0M422.8 209.6h0M425.8 230.3h0M428.0 229.6h0M432.0 226.7h0M429.1 219.6h0M421.9 222.6h0M428.1 228.7h0M441.9 223.5h0M443.7 222.1h0M417.0 231.1h0M417.5 233.5h0M413.0 229.6h0M438.8 227.2h0M410.0 219.7h0M405.6 229.9h0M429.2 229.4h0M420.0 223.1h0M428.2 216.0h0M424.3 228.9h0M420.1 228.4h0M434.1 228.5h0M429.2 226.7h0M417.5 232.4h0M438.1 226.9h0M409.6 232.5h0M421.5 217.4h0M434.5 219.7h0M424.1 225.3h0M425.8 227.1h0M411.5 232.7h0M415.4 233.8h0M439.5 225.1h0M407.2 230.1h0M441.5 219.5h0M403.0 235.2h0M422.2 233.5h0M414.2 220.7h0M433.3 226.5h0M430.1 226.3h0M413.3 229.6h0M433.9 228.5h0M426.6 228.1h0M410.8 232.0h0M435.7 226.6h0M408.1 230.7h0M411.3 234.3h0M418.9 228.1h0M420.5 224.6h0M416.3 230.7h0M414.4 230.5h0M412.2 228.4h0M431.8 227.0h0M413.8 226.1h0M410.5 232.4h0M410.6 232.7h0M433.1 226.4h0M423.6 223.5h0M411.9 235.2h0M431.4 228.8h0M437.2 221.3h0M424.4 232.5h0M422.8 223.2h0M440.6 223.7h0M405.9 234.6h0M403.8 236.1h0M422.5 230.9h0M437.1 226.9h0M416.5 229.1h0M421.3 225.2h0M433.3 226.9h0M432.3 229.1h0M416.3 232.5h0M404.4 235.4h0M402.8 232.6h0M434.9 224.2h0M439.3 222.0h0M419.9 231.0h0M442.9 224.4h0M435.1 226.1h0M438.8 220.2h0M434.1 220.8h0M434.2 229.1h0M412.3 230.2h0M409.9 222.5h0M422.8 231.7h0M422.9 225.6h0M443.3 222.5h0M412.2 232.9h0M429.3 228.7h0M430.2 229.6h0M421.9 231.0h0M433.5 228.4h0M430.3 229.0h0M418.0 231.6h0M403.7 235.1h0M411.9 230.9h0M434.7 227.3h0M402.7 230.5h0M417.9 223.9h0M415.1 216.3h0M421.7 230.7h0M423.8 229.5h0M420.8 230.9h0M421.6 231.5h0M428.4 227.9h0M441.6 219.9h0M401.3 236.9h0M405.1 234.4h0M440.7 225.7h0M428.7 224.0h0M403.4 235.9h0M409.6 235.5h0M417.5 232.0h0M418.2 227.1h0M412.8 224.4h0M440.7 225.5h0M410.5 233.1h0M407.2 230.4h0M430.8 221.9h0M427.2 228.0h0M422.4 228.6h0M433.0 224.1h0M436.0 221.8h0M403.4 235.4h0M444.4 223.3h0M433.4 213.8h0M435.0 221.3h0M423.5 225.3h0M425.8 228.3h0M437.6 225.9h0M408.3 233.1h0M434.2 227.7h0M414.1 229.1h0M434.0 221.4h0M412.9 232.7h0M423.5 226.4h0M441.9 218.8h0M439.9 223.9h0M440.1 222.1h0M428.4 231.2h0M433.8 226.5h0M430.3 226.8h0" stroke="#222" stroke-width="0.84" stroke-linecap="round" opacity="0.45"/>
<path d="M401.82,236.06L402.03,236.02L402.26,235.98L402.52,235.93L402.81,235.88L403.12,235.82L403.45,235.76L403.79,235.70L404.15,235.63L404.51,235.57L404.88,235.50L405.25,235.43L405.63,235.36L406.01,235.30L406.39,235.23L406.76,235.16L407.14,235.09L407.52,235.02L407.90,234.95L408.28,234.88L408.66,234.81L409.04,234.74L409.42,234.67L409.80,234.60L410.18,234.53L410.56,234.46L410.94,234.38L411.32,234.31L411.70,234.23L412.08,234.16L412.46,234.08L412.84,234.00L413.22,233.91L413.59,233.83L413.97,233.75L414.35,233.66L414.72,233.58L415.10,233.49L415.48,233.41L415.85,233.32L416.23,233.23L416.61,233.15L416.98,233.06L417.36,232.97L417.73,232.89L418.11,232.80L418.49,232.71L418.86,232.63L419.24,232.54L419.61,232.45L419.99,232.37L420.37,232.28L420.74,232.19L421.12,232.11L421.49,232.02L421.87,231.93L422.25,231.84L422.62,231.75L423.00,231.66L423.37,231.57L423.75,231.47L424.13,231.38L424.50,231.28L424.88,231.17L425.25,231.07L425.62,230.96L425.99,230.85L426.37,230.74L426.74,230.62L427.10,230.51L427.47,230.39L427.84,230.27L428.21,230.15L428.58,230.03L428.94,229.91L429.31,229.78L429.67,229.66L430.04,229.54L430.41,229.42L430.77,229.30L431.14,229.18L431.50,229.05L431.87,228.93L432.24,228.81L432.60,228.69L432.97,228.56L433.33,228.44L433.70,228.32L434.07,228.20L434.43,228.07L434.80,227.95L435.16,227.82L435.53,227.69L435.90,227.56L436.26,227.43L436.62,227.30L436.99,227.16L437.35,227.02L437.71,226.88L438.07,226.73L438.43,226.59L438.79,226.44L439.14,226.29L439.50,226.13L439.86,225.98L440.21,225.83L440.56,225.68L440.92,225.52L441.27,225.37L441.61,225.22L441.96,225.07L442.30,224.92L442.63,224.78L442.95,224.64L443.25,224.50L443.54,224.38L443.81,224.26L444.05,224.15L444.27,224.06L444.46,223.97L442.81,220.20L442.60,220.23L442.35,220.26L442.08,220.30L441.77,220.34L441.45,220.38L441.10,220.43L440.75,220.48L440.37,220.53L439.99,220.58L439.61,220.63L439.22,220.68L438.83,220.73L438.44,220.79L438.05,220.84L437.66,220.89L437.28,220.94L436.90,221.00L436.53,221.05L436.17,221.11L435.81,221.16L435.46,221.22L435.11,221.29L434.77,221.35L434.43,221.43L434.09,221.51L433.75,221.59L433.41,221.68L433.06,221.78L432.71,221.88L432.36,221.99L432.00,222.09L431.64,222.20L431.28,222.32L430.92,222.43L430.55,222.55L430.19,222.66L429.82,222.78L429.45,222.89L429.08,223.01L428.72,223.13L428.35,223.24L427.98,223.36L427.61,223.47L427.25,223.59L426.89,223.70L426.53,223.82L426.17,223.93L425.81,224.05L425.46,224.16L425.12,224.27L424.78,224.38L424.45,224.49L424.12,224.61L423.79,224.72L423.47,224.83L423.15,224.95L422.83,225.07L422.51,225.19L422.18,225.32L421.85,225.45L421.51,225.58L421.17,225.72L420.82,225.85L420.47,225.99L420.12,226.13L419.76,226.27L419.40,226.42L419.04,226.56L418.68,226.70L418.32,226.84L417.96,226.99L417.59,227.13L417.23,227.27L416.87,227.42L416.50,227.56L416.14,227.70L415.78,227.85L415.42,227.99L415.06,228.13L414.70,228.27L414.34,228.42L413.98,228.56L413.62,228.71L413.26,228.85L412.91,229.00L412.56,229.15L412.21,229.30L411.86,229.45L411.52,229.61L411.17,229.76L410.83,229.93L410.48,230.09L410.14,230.26L409.79,230.43L409.44,230.61L409.09,230.79L408.73,230.97L408.38,231.15L408.02,231.33L407.67,231.51L407.31,231.69L406.95,231.88L406.59,232.06L406.23,232.25L405.88,232.43L405.52,232.61L405.16,232.80L404.81,232.98L404.45,233.16L404.11,233.34L403.76,233.52L403.43,233.69L403.10,233.86L402.79,234.02L402.50,234.17L402.23,234.31L401.98,234.43L401.76,234.55L401.57,234.65Z" fill="#000" opacity="1.0" filter="url(#bl)"/>
<path d="M446.7 218.9h0M445.9 219.7h0M449.8 220.1h0M440.5 223.7h0M443.5 220.0h0M442.9 223.6h0M460.9 218.4h0M452.4 218.5h0M447.7 220.3h0M452.7 221.1h0M446.8 221.1h0M472.2 212.5h0M446.1 223.2h0M471.2 213.3h0M467.2 215.2h0M463.2 216.0h0M475.1 212.1h0M444.9 222.5h0M438.7 225.2h0M443.1 224.7h0M473.0 212.5h0M457.2 218.6h0M445.1 222.3h0M474.4 212.5h0M463.0 217.1h0M464.9 215.3h0M460.3 217.4h0M454.6 219.7h0M439.1 223.2h0M457.6 218.3h0M451.3 221.1h0M438.5 224.0h0M441.1 224.6h0M446.1 223.6h0M466.9 215.5h0M445.5 220.1h0M479.4 211.6h0M451.7 222.1h0M462.0 217.8h0M453.1 219.8h0M477.5 211.5h0M475.6 211.1h0M455.7 216.7h0M439.1 223.5h0M455.1 218.4h0M475.3 212.1h0M470.7 212.7h0M450.9 223.5h0M444.9 219.8h0M464.8 216.6h0M456.1 220.6h0M463.2 217.1h0M455.3 219.9h0M442.4 222.1h0M466.3 216.7h0M456.3 219.1h0M452.8 218.1h0M451.6 221.4h0M456.1 221.8h0M437.9 225.2h0M477.5 210.1h0M445.0 224.2h0M438.1 225.5h0M457.2 219.6h0M442.8 224.3h0M451.1 221.7h0M464.5 216.5h0M445.0 223.2h0M473.5 213.7h0M462.6 217.4h0M452.9 219.2h0M443.4 223.2h0M458.6 218.2h0M443.3 221.4h0M465.7 212.9h0M453.8 221.2h0M469.9 214.1h0M446.7 222.4h0M470.3 214.1h0M448.1 218.5h0M466.2 215.1h0M471.2 211.0h0M465.6 216.1h0M475.6 212.5h0M456.9 218.5h0M456.8 215.6h0M455.5 214.1h0M463.8 215.9h0M443.4 219.5h0M462.1 217.7h0M458.9 218.6h0M450.6 219.7h0M453.7 219.9h0M469.9 211.9h0M476.3 212.0h0M453.6 218.6h0M461.5 217.4h0M471.7 207.8h0M453.0 215.2h0M466.1 213.9h0M461.6 217.8h0M458.4 213.1h0M452.2 220.5h0M452.7 220.7h0M446.9 218.9h0M467.2 214.4h0M439.7 220.3h0M450.9 221.0h0M462.7 217.6h0M459.4 214.6h0M451.3 221.8h0M453.5 221.2h0M466.7 213.5h0M442.1 215.3h0M459.5 213.6h0M442.5 219.6h0M461.5 215.1h0M440.6 226.8h0M440.2 225.8h0M444.4 220.3h0M457.6 213.3h0M469.6 213.5h0M446.1 222.2h0M451.6 221.3h0M477.0 212.6h0M456.4 217.5h0M467.1 215.5h0M460.3 217.4h0M444.2 225.0h0M451.2 220.0h0M442.5 223.5h0M445.1 216.4h0M478.3 211.0h0M479.1 211.4h0M457.6 217.1h0M477.9 210.6h0M442.0 224.8h0M461.6 217.5h0M438.5 224.4h0M453.7 220.6h0M443.8 222.2h0M443.0 224.5h0M443.6 224.6h0M443.6 225.5h0M453.3 219.1h0M461.1 216.3h0M446.3 217.4h0M458.0 218.3h0M471.0 212.9h0M474.4 211.7h0M477.9 210.8h0M449.3 218.3h0M439.9 217.3h0M461.6 218.1h0M476.9 210.7h0M450.2 221.3h0M471.8 212.9h0M456.7 219.8h0M479.3 209.4h0M465.1 213.8h0M462.9 217.9h0M448.1 222.1h0M467.9 215.6h0M442.2 223.6h0M447.4 220.5h0M471.1 213.5h0M450.5 219.2h0M475.8 212.2h0M465.4 215.6h0M469.5 215.6h0M454.8 218.7h0M469.0 214.1h0M472.4 211.1h0M440.9 225.5h0M446.6 215.2h0M473.6 212.7h0M447.0 223.6h0M443.3 225.1h0M437.8 225.5h0M444.0 223.4h0M438.9 223.6h0M474.1 211.7h0M438.3 226.7h0M441.0 223.8h0M445.4 219.6h0M467.7 212.2h0M440.1 226.5h0M440.2 226.4h0M475.4 213.2h0M451.4 216.0h0M439.4 224.2h0M476.1 209.8h0M464.0 215.0h0M463.8 216.3h0M478.5 212.4h0M454.6 220.2h0M451.1 218.2h0M465.8 215.0h0M478.2 210.3h0M443.9 219.3h0M444.0 222.4h0M451.9 221.1h0M468.8 214.3h0M443.3 224.2h0M454.2 218.2h0M445.3 224.3h0M438.4 223.7h0M471.0 214.7h0M465.7 216.1h0M455.1 218.8h0M449.0 222.7h0M478.5 211.2h0M440.4 225.2h0M454.4 217.5h0M436.8 221.2h0M472.0 213.2h0M456.4 219.5h0M466.3 217.0h0M458.6 219.9h0M469.1 214.9h0M471.2 214.0h0M461.4 216.8h0M453.5 220.3h0M459.9 217.3h0M439.8 224.4h0M442.2 222.4h0M472.5 213.4h0M455.2 219.5h0M457.2 219.6h0M454.9 220.6h0M457.7 219.3h0M455.6 220.4h0M444.2 222.5h0M477.6 210.3h0M441.8 225.1h0M473.7 211.9h0M448.5 221.6h0M469.8 212.1h0M472.0 213.4h0M456.4 218.2h0M461.8 217.7h0M441.0 225.0h0M468.4 213.3h0M464.0 217.0h0M439.5 222.9h0M460.8 216.9h0M442.4 220.5h0M463.7 215.7h0M453.6 219.7h0M471.6 208.3h0M454.6 218.1h0M441.7 221.9h0M438.8 218.3h0M449.0 218.7h0M439.7 222.3h0M460.3 218.5h0M476.1 210.7h0M444.3 215.2h0M449.9 221.8h0M450.6 221.4h0M447.6 223.3h0M476.8 212.4h0M439.7 224.3h0M448.0 223.0h0M471.6 215.1h0M469.3 214.7h0M463.4 214.7h0M450.2 219.4h0M455.7 218.4h0M440.1 226.6h0M441.6 224.8h0M451.8 220.4h0M441.8 222.7h0M460.8 209.5h0M455.0 217.6h0M448.5 221.0h0M444.0 222.8h0M462.0 217.2h0M456.6 219.5h0M444.8 220.2h0M440.0 225.5h0M446.7 222.1h0M448.6 222.8h0M473.7 211.0h0M479.0 211.3h0M453.2 220.8h0M440.8 223.7h0M455.3 217.0h0M475.3 210.2h0M464.7 216.1h0M473.6 213.1h0M462.6 216.7h0M447.4 222.5h0M469.2 214.5h0M474.4 210.4h0M470.2 214.2h0M444.6 219.1h0M437.6 225.2h0M445.2 222.3h0M447.0 221.4h0" stroke="#666" stroke-width="0.80" stroke-linecap="round" opacity="0.45"/>
<path d="M438.84,226.62L439.03,226.55L439.25,226.47L439.49,226.38L439.76,226.28L440.05,226.18L440.35,226.07L440.67,225.95L441.00,225.83L441.34,225.71L441.68,225.58L442.03,225.46L442.38,225.33L442.73,225.20L443.09,225.07L443.44,224.94L443.79,224.81L444.15,224.68L444.50,224.55L444.85,224.43L445.21,224.30L445.56,224.17L445.92,224.04L446.27,223.91L446.62,223.78L446.98,223.65L447.33,223.52L447.68,223.39L448.04,223.27L448.39,223.14L448.74,223.01L449.10,222.88L449.45,222.75L449.80,222.62L450.16,222.49L450.51,222.36L450.86,222.23L451.22,222.10L451.57,221.98L451.93,221.85L452.28,221.72L452.63,221.59L452.99,221.46L453.34,221.33L453.69,221.20L454.05,221.07L454.40,220.93L454.75,220.80L455.11,220.67L455.46,220.54L455.81,220.40L456.16,220.27L456.51,220.13L456.87,220.00L457.22,219.86L457.57,219.73L457.92,219.59L458.27,219.45L458.62,219.32L458.97,219.18L459.32,219.04L459.67,218.91L460.02,218.77L460.37,218.63L460.73,218.50L461.08,218.36L461.43,218.22L461.78,218.09L462.13,217.95L462.48,217.81L462.83,217.68L463.18,217.54L463.53,217.40L463.88,217.27L464.23,217.13L464.58,216.99L464.93,216.86L465.28,216.72L465.63,216.58L465.98,216.45L466.34,216.31L466.69,216.17L467.04,216.04L467.39,215.90L467.74,215.76L468.09,215.62L468.44,215.49L468.79,215.35L469.14,215.21L469.49,215.08L469.84,214.94L470.19,214.80L470.54,214.67L470.89,214.53L471.24,214.39L471.59,214.26L471.94,214.12L472.29,213.99L472.65,213.85L473.00,213.72L473.35,213.59L473.70,213.46L474.05,213.33L474.40,213.20L474.75,213.07L475.10,212.95L475.46,212.83L475.81,212.71L476.16,212.60L476.51,212.48L476.86,212.37L477.20,212.27L477.53,212.16L477.86,212.06L478.17,211.97L478.46,211.88L478.74,211.80L478.99,211.72L479.21,211.66L479.40,211.60L479.23,211.04L479.03,211.07L478.80,211.11L478.54,211.16L478.26,211.21L477.96,211.27L477.63,211.33L477.30,211.40L476.95,211.46L476.59,211.54L476.23,211.62L475.87,211.70L475.50,211.79L475.13,211.88L474.77,211.98L474.40,212.08L474.04,212.19L473.67,212.30L473.31,212.42L472.95,212.54L472.59,212.66L472.24,212.78L471.88,212.91L471.53,213.04L471.17,213.17L470.82,213.30L470.46,213.43L470.11,213.56L469.76,213.69L469.40,213.82L469.05,213.95L468.70,214.08L468.34,214.21L467.99,214.34L467.64,214.47L467.28,214.60L466.93,214.73L466.58,214.86L466.22,214.99L465.87,215.12L465.52,215.25L465.17,215.38L464.81,215.51L464.46,215.64L464.11,215.77L463.75,215.90L463.40,216.03L463.05,216.16L462.69,216.29L462.34,216.42L461.99,216.55L461.63,216.68L461.28,216.81L460.93,216.94L460.57,217.07L460.22,217.20L459.87,217.33L459.51,217.46L459.16,217.59L458.81,217.72L458.46,217.85L458.10,217.98L457.75,218.11L457.40,218.24L457.04,218.37L456.69,218.50L456.34,218.63L455.99,218.76L455.63,218.89L455.28,219.02L454.93,219.14L454.58,219.27L454.23,219.40L453.87,219.52L453.52,219.65L453.17,219.78L452.81,219.90L452.46,220.03L452.11,220.15L451.75,220.28L451.40,220.40L451.04,220.53L450.69,220.65L450.33,220.78L449.98,220.90L449.62,221.03L449.27,221.15L448.91,221.28L448.56,221.40L448.20,221.53L447.85,221.65L447.49,221.78L447.14,221.90L446.78,222.03L446.43,222.15L446.07,222.28L445.72,222.40L445.36,222.53L445.01,222.65L444.65,222.78L444.30,222.90L443.94,223.03L443.59,223.15L443.23,223.28L442.88,223.40L442.52,223.53L442.17,223.65L441.82,223.78L441.47,223.90L441.12,224.02L440.77,224.15L440.43,224.27L440.10,224.38L439.78,224.50L439.47,224.60L439.18,224.71L438.91,224.80L438.67,224.89L438.45,224.96L438.26,225.03Z" fill="#000" opacity="1.0" filter="url(#bl)"/>
<path d="M394.9 238.3h0M394.9 235.3h0M402.7 237.5h0M397.9 241.5h0M404.6 238.6h0M398.4 237.9h0M397.1 237.2h0M397.1 239.1h0M401.1 237.9h0M407.4 235.6h0M398.6 239.1h0M401.7 234.7h0M397.0 235.8h0M398.4 241.0h0M402.9 238.1h0M403.9 239.7h0M396.1 237.7h0M397.0 234.7h0M407.3 238.1h0M393.3 233.7h0M402.5 244.0h0M396.0 234.5h0M403.3 239.3h0M408.6 237.6h0M396.5 235.0h0M402.7 240.2h0M394.7 237.4h0M402.4 235.7h0M402.4 232.0h0M400.6 237.3h0M403.6 242.6h0M401.3 241.5h0M402.3 234.4h0M399.9 241.0h0M386.9 238.7h0M392.9 239.2h0M401.3 240.9h0M402.3 235.0h0M400.3 236.4h0M406.8 242.6h0M398.8 237.2h0M397.4 237.3h0M397.9 234.8h0M406.0 237.9h0M403.8 240.1h0M410.9 242.6h0M404.6 240.0h0M407.5 238.1h0M396.6 237.5h0M406.9 240.4h0M398.6 238.1h0M401.8 237.4h0M400.9 233.3h0M401.6 236.2h0M400.1 237.6h0M399.3 237.5h0M396.4 237.9h0M400.4 240.9h0M406.7 232.6h0M404.3 239.1h0M396.8 237.8h0M408.9 233.8h0M399.5 238.9h0M392.4 238.0h0M394.9 233.7h0M390.1 238.3h0M403.9 239.1h0M400.6 237.3h0M398.2 239.5h0M401.1 236.5h0M400.6 238.4h0M408.7 238.1h0M396.1 239.5h0M400.3 235.3h0M399.3 244.1h0M407.7 234.5h0M395.1 241.8h0M401.4 238.5h0M403.2 238.3h0M396.8 240.9h0M399.9 236.3h0M397.5 234.7h0M407.1 240.9h0M396.8 243.2h0M406.5 244.7h0M398.9 239.8h0M393.8 232.0h0M400.9 239.5h0M394.6 240.4h0M395.1 239.2h0M403.8 240.1h0M403.3 240.7h0M409.3 240.0h0M399.9 237.9h0M399.0 234.9h0M396.8 236.6h0M405.3 239.9h0M397.5 241.3h0M399.5 241.8h0M401.1 239.5h0M391.1 235.9h0M399.3 239.8h0M401.1 235.6h0M402.6 239.8h0M396.2 235.8h0M402.3 240.2h0M387.6 240.0h0M397.9 236.9h0M401.5 239.5h0M404.5 239.7h0M408.2 237.5h0M403.6 238.8h0M399.7 238.2h0M403.6 234.1h0M408.4 237.2h0M401.7 244.4h0M404.8 239.6h0M405.9 233.8h0M394.7 239.3h0M398.3 239.8h0" stroke="#999" stroke-width="0.80" stroke-linecap="round" opacity="0.45"/>
<ellipse cx="424.45" cy="220.8" rx="24.9" ry="4.8" transform="rotate(-26.7 424.45 220.8)" fill="none" stroke="#000" stroke-width="1.0"/>
<ellipse cx="463.35" cy="220.15" rx="28.8" ry="6.3" transform="rotate(-18.4 463.35 220.15)" fill="none" stroke="#000" stroke-width="1.0"/>
<path d="M348.5 206.8h0M348.4 207.3h0M348.0 208.8h0M348.5 210.9h0M348.1 211.5h0M348.0 214.6h0M348.3 219.2h0M348.5 219.4h0M348.5 220.3h0M348.3 221.2h0M348.2 222.6h0M348.0 222.9h0M348.1 224.8h0M347.9 228.1h0M347.9 232.5h0M348.2 232.7h0M348.0 239.6h0M348.2 241.4h0M348.2 242.2h0M348.2 242.6h0M348.0 244.2h0M348.2 248.5h0M348.1 249.1h0M348.4 251.3h0M348.1 253.8h0M348.0 254.5h0M348.3 254.5h0M348.3 258.4h0M348.1 258.9h0M348.0 263.5h0M348.1 264.3h0M348.4 264.9h0M348.2 268.6h0M348.1 268.8h0M348.2 269.1h0M348.2 269.7h0M348.3 272.3h0M348.4 272.4h0M348.2 277.3h0M348.3 280.6h0M348.4 280.6h0M348.4 281.9h0M348.3 284.2h0M348.2 284.9h0M348.1 288.8h0M348.1 290.6h0M348.1 293.4h0M348.4 294.0h0M348.2 294.3h0M348.1 294.4h0M348.4 295.1h0M348.4 297.6h0M348.2 304.7h0M348.3 309.6h0M348.3 311.2h0M348.1 313.3h0M348.4 321.8h0M347.9 322.7h0M348.3 323.5h0M348.1 324.0h0M348.3 328.1h0M348.1 339.9h0M347.9 342.4h0M348.1 343.7h0M348.3 346.1h0M348.3 347.4h0M348.4 350.0h0M348.1 352.9h0M348.1 358.0h0M348.4 358.6h0" stroke="#111" stroke-width="1.00" stroke-linecap="round" opacity="0.8"/>
<rect x="351.40" y="208.40" width="43.10" height="20.90" fill="#fff" stroke="#666" stroke-width="0.8" />
<text x="357.80" y="217.40" font-size="6.35" text-anchor="start" >Gly A</text>
<text x="373.40" y="212.90" font-size="5.6" text-anchor="start" font-weight="bold" >+</text>
<text x="380.50" y="217.40" font-size="6.4" text-anchor="start" letter-spacing="-0.4">1%</text>
<text x="357.80" y="227.40" font-size="6.3" text-anchor="start" word-spacing="-0.5">CD 41</text>
<text x="375.40" y="223.90" font-size="5.6" text-anchor="start" font-weight="bold" >+</text>
<text x="380.10" y="227.40" font-size="6.4" text-anchor="start" letter-spacing="-0.4">4%</text>
<rect x="351.40" y="258.50" width="43.10" height="21.50" fill="#fff" stroke="#666" stroke-width="0.8" />
<text x="357.20" y="267.30" font-size="6.35" text-anchor="start" >Gly A</text>
<text x="372.40" y="263.20" font-size="5.6" text-anchor="start" font-weight="bold" >+</text>
<text x="377.90" y="267.30" font-size="6.4" text-anchor="start" letter-spacing="-0.4">1%</text>
<text x="357.20" y="277.60" font-size="6.3" text-anchor="start" word-spacing="-0.5">CD 41</text>
<text x="374.40" y="273.80" font-size="5.6" text-anchor="start" font-weight="bold" >+</text>
<text x="380.80" y="277.60" font-size="6.4" text-anchor="start" letter-spacing="-0.4">19%</text>
<rect x="351.40" y="313.40" width="43.10" height="22.00" fill="#fff" stroke="#666" stroke-width="0.8" />
<text x="356.00" y="321.60" font-size="6.35" text-anchor="start" >Gly A</text>
<text x="371.00" y="317.20" font-size="5.6" text-anchor="start" font-weight="bold" >+</text>
<text x="376.40" y="321.60" font-size="6.4" text-anchor="start" letter-spacing="-0.4">1%</text>
<text x="356.00" y="332.20" font-size="6.3" text-anchor="start" word-spacing="-0.5">CD 41</text>
<text x="373.40" y="327.80" font-size="5.6" text-anchor="start" font-weight="bold" >+</text>
<text x="377.90" y="332.20" font-size="6.4" text-anchor="start" letter-spacing="-0.4">23%</text>
<text x="500.60" y="244.80" font-size="6.2" text-anchor="end" font-weight="bold" >Mock</text>
<text x="500.60" y="298.50" font-size="6.2" text-anchor="end" font-weight="bold" >LV 000</text>
<text x="500.60" y="348.20" font-size="6.2" text-anchor="end" font-weight="bold" >LV 490</text>
<text x="415.80" y="381.70" font-size="7.3" text-anchor="start" >CD 41</text>
<text x="437.30" y="378.00" font-size="4.8" text-anchor="start" >+</text>
<text transform="translate(328.0,308.7) rotate(-90)" font-size="7.1" text-anchor="start">Glycophorin A<tspan dy="-3" font-size="4.5">+</tspan></text>
</g>
</svg></body></html>
